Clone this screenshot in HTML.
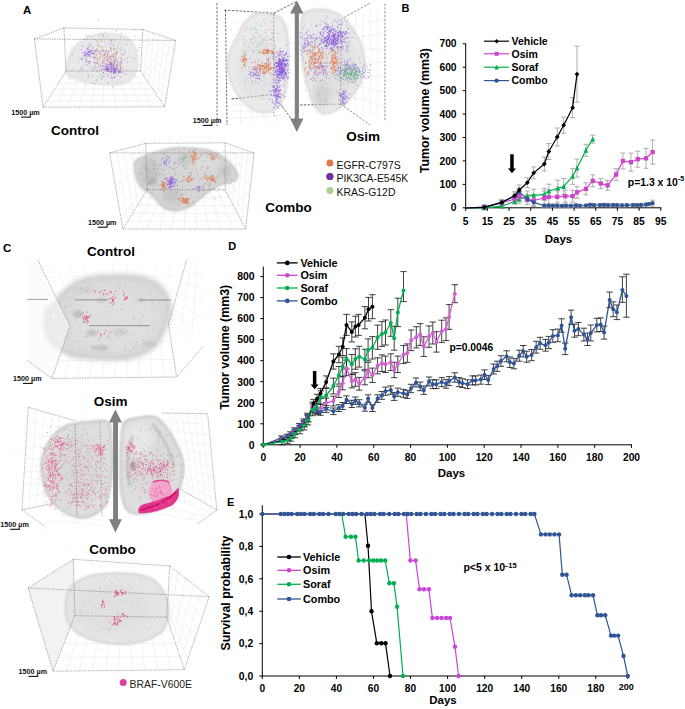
<!DOCTYPE html><html><head><meta charset="utf-8"><style>html,body{margin:0;padding:0;background:#fff;width:685px;height:709px;overflow:hidden}svg{display:block}text{font-family:"Liberation Sans",sans-serif}</style></head><body>
<svg width="685" height="709" viewBox="0 0 685 709" font-family="Liberation Sans, sans-serif">
<rect width="685" height="709" fill="#fff"/>
<defs>
<filter id="bl1" x="-20%" y="-20%" width="140%" height="140%"><feGaussianBlur stdDeviation="1.2"/></filter>
<filter id="bl2" x="-20%" y="-20%" width="140%" height="140%"><feGaussianBlur stdDeviation="2.5"/></filter>
<filter id="bl3" x="-30%" y="-30%" width="160%" height="160%"><feGaussianBlur stdDeviation="4"/></filter>
</defs>
<text x="23" y="14" font-size="11.5" font-weight="bold" text-anchor="start" fill="#000" >A</text>
<line x1="73.5" y1="71.0" x2="55.3" y2="107.2" stroke="#dcdcdc" stroke-width="0.4" opacity="1"/>
<line x1="81.0" y1="71.0" x2="67.4" y2="107.1" stroke="#dcdcdc" stroke-width="0.4" opacity="1"/>
<line x1="88.4" y1="71.0" x2="79.6" y2="107.1" stroke="#dcdcdc" stroke-width="0.4" opacity="1"/>
<line x1="95.9" y1="71.0" x2="91.7" y2="107.0" stroke="#dcdcdc" stroke-width="0.4" opacity="1"/>
<line x1="103.3" y1="71.0" x2="103.9" y2="107.0" stroke="#dcdcdc" stroke-width="0.4" opacity="1"/>
<line x1="110.8" y1="71.0" x2="116.1" y2="107.0" stroke="#dcdcdc" stroke-width="0.4" opacity="1"/>
<line x1="118.2" y1="71.0" x2="128.2" y2="106.9" stroke="#dcdcdc" stroke-width="0.4" opacity="1"/>
<line x1="125.7" y1="71.0" x2="140.4" y2="106.9" stroke="#dcdcdc" stroke-width="0.4" opacity="1"/>
<line x1="133.1" y1="71.0" x2="152.5" y2="106.8" stroke="#dcdcdc" stroke-width="0.4" opacity="1"/>
<line x1="62.3" y1="77.0" x2="144.6" y2="77.0" stroke="#dcdcdc" stroke-width="0.4" opacity="1"/>
<line x1="58.4" y1="83.1" x2="148.6" y2="82.9" stroke="#dcdcdc" stroke-width="0.4" opacity="1"/>
<line x1="54.6" y1="89.1" x2="152.6" y2="88.9" stroke="#dcdcdc" stroke-width="0.4" opacity="1"/>
<line x1="50.8" y1="95.1" x2="156.7" y2="94.9" stroke="#dcdcdc" stroke-width="0.4" opacity="1"/>
<line x1="46.9" y1="101.2" x2="160.7" y2="100.8" stroke="#dcdcdc" stroke-width="0.4" opacity="1"/>
<line x1="148.3" y1="31.3" x2="144.6" y2="77.0" stroke="#e2e2e2" stroke-width="0.4" opacity="1"/>
<line x1="153.7" y1="33.1" x2="148.6" y2="82.9" stroke="#e2e2e2" stroke-width="0.4" opacity="1"/>
<line x1="159.2" y1="35.0" x2="152.6" y2="88.9" stroke="#e2e2e2" stroke-width="0.4" opacity="1"/>
<line x1="164.7" y1="36.8" x2="156.7" y2="94.9" stroke="#e2e2e2" stroke-width="0.4" opacity="1"/>
<line x1="170.1" y1="38.6" x2="160.7" y2="100.8" stroke="#e2e2e2" stroke-width="0.4" opacity="1"/>
<line x1="142.5" y1="34.7" x2="174.2" y2="48.7" stroke="#e2e2e2" stroke-width="0.4" opacity="1"/>
<line x1="142.2" y1="39.9" x2="172.9" y2="57.0" stroke="#e2e2e2" stroke-width="0.4" opacity="1"/>
<line x1="142.0" y1="45.1" x2="171.5" y2="65.3" stroke="#e2e2e2" stroke-width="0.4" opacity="1"/>
<line x1="141.7" y1="50.2" x2="170.1" y2="73.6" stroke="#e2e2e2" stroke-width="0.4" opacity="1"/>
<line x1="141.4" y1="55.4" x2="168.8" y2="81.9" stroke="#e2e2e2" stroke-width="0.4" opacity="1"/>
<line x1="141.2" y1="60.6" x2="167.4" y2="90.2" stroke="#e2e2e2" stroke-width="0.4" opacity="1"/>
<line x1="140.9" y1="65.8" x2="166.1" y2="98.5" stroke="#e2e2e2" stroke-width="0.4" opacity="1"/>
<path d="M66.1,71.1 C66.1,68.3 67.0,62.8 68.3,59.0 C69.6,55.2 71.1,51.4 73.8,48.1 C76.5,44.8 80.7,41.6 84.7,39.3 C88.7,37.0 93.2,35.4 97.9,34.5 C102.7,33.6 108.5,33.5 113.2,33.9 C117.9,34.3 122.8,35.1 126.3,37.1 C129.8,39.1 132.2,42.6 134.0,45.9 C135.8,49.2 136.8,53.1 137.3,56.8 C137.9,60.4 138.0,64.5 137.3,67.8 C136.6,71.1 134.7,74.2 132.9,76.6 C131.1,79.0 128.8,80.7 126.3,82.0 C123.8,83.3 121.6,83.8 117.6,84.2 C113.6,84.6 107.4,84.6 102.3,84.2 C97.2,83.8 91.3,82.9 86.9,82.0 C82.5,81.1 79.1,79.8 76.0,78.7 C72.9,77.6 70.0,76.8 68.3,75.5 C66.6,74.2 66.1,73.8 66.1,71.1Z" fill="#e9e9e9" filter="url(#bl1)"/>
<path d="M66.1,71.1 C66.1,68.3 67.0,62.8 68.3,59.0 C69.6,55.2 71.1,51.4 73.8,48.1 C76.5,44.8 80.7,41.6 84.7,39.3 C88.7,37.0 93.2,35.4 97.9,34.5 C102.7,33.6 108.5,33.5 113.2,33.9 C117.9,34.3 122.8,35.1 126.3,37.1 C129.8,39.1 132.2,42.6 134.0,45.9 C135.8,49.2 136.8,53.1 137.3,56.8 C137.9,60.4 138.0,64.5 137.3,67.8 C136.6,71.1 134.7,74.2 132.9,76.6 C131.1,79.0 128.8,80.7 126.3,82.0 C123.8,83.3 121.6,83.8 117.6,84.2 C113.6,84.6 107.4,84.6 102.3,84.2 C97.2,83.8 91.3,82.9 86.9,82.0 C82.5,81.1 79.1,79.8 76.0,78.7 C72.9,77.6 70.0,76.8 68.3,75.5 C66.6,74.2 66.1,73.8 66.1,71.1Z" fill="none" stroke="#dadada" stroke-width="1.5" filter="url(#bl1)" opacity="1"/>
<path d="M90.0 43.2h0M88.4 74.1h0M84.6 63.6h0M101.2 37.9h0M89.3 69.4h0M132.2 58.8h0M72.1 69.7h0M87.4 54.5h0M115.0 60.7h0M104.9 37.3h0M79.4 73.1h0M118.3 46.9h0M87.0 48.4h0M81.4 45.8h0M92.1 58.0h0M102.1 61.5h0M105.8 51.6h0M120.5 60.4h0" stroke="#888" stroke-width="1.20" stroke-linecap="round" opacity="0.18" fill="none"/>
<path d="M72.9 61.7h0M107.5 66.7h0M82.0 68.7h0M89.4 64.1h0M82.2 43.8h0M115.3 48.5h0M121.2 72.0h0M80.1 73.9h0M119.7 79.8h0" stroke="#888" stroke-width="1.00" stroke-linecap="round" opacity="0.18" fill="none"/>
<path d="M71.9 60.4h0M97.5 39.4h0M105.2 39.0h0M94.6 77.8h0M111.1 39.0h0M99.7 59.2h0M124.4 43.7h0M92.2 37.4h0" stroke="#888" stroke-width="0.60" stroke-linecap="round" opacity="0.18" fill="none"/>
<path d="M96.9 75.7h0M87.7 42.9h0M89.0 75.2h0M127.5 71.0h0M96.4 72.3h0M69.5 58.2h0M120.2 42.2h0M123.7 77.5h0M80.0 47.1h0M101.0 64.3h0M94.7 55.2h0M109.8 43.1h0M91.6 53.5h0M74.9 52.4h0M132.7 61.4h0M121.0 51.8h0M92.8 46.6h0M117.3 44.2h0M91.8 62.3h0M82.4 48.1h0M84.4 64.1h0M69.3 57.1h0M105.8 73.6h0M106.1 47.9h0" stroke="#888" stroke-width="0.80" stroke-linecap="round" opacity="0.18" fill="none"/>
<path d="M83.2 66.1h0M107.2 55.0h0M93.1 63.2h0M133.0 57.5h0M73.8 67.7h0M94.9 55.3h0M112.2 61.3h0M96.5 42.3h0M129.5 56.2h0" stroke="#888" stroke-width="1.60" stroke-linecap="round" opacity="0.18" fill="none"/>
<path d="M120.0 63.5h0M107.4 57.9h0M98.5 62.4h0M96.2 53.2h0M114.0 38.6h0M121.0 78.0h0M92.7 37.2h0M126.0 74.7h0M100.6 67.3h0M122.8 43.0h0M97.5 77.8h0M79.7 58.7h0" stroke="#888" stroke-width="1.40" stroke-linecap="round" opacity="0.18" fill="none"/>
<path d="M107.9 66.3h0M105.1 68.6h0M106.7 70.3h0M101.4 70.1h0M109.1 62.2h0M115.3 68.0h0M102.0 65.9h0M113.3 67.4h0M115.5 71.6h0M115.0 70.1h0M118.0 71.3h0M114.0 61.7h0M116.0 73.6h0M110.7 67.4h0M120.7 62.8h0M114.1 77.5h0M107.8 71.4h0M120.5 68.6h0M114.5 72.2h0M107.9 68.7h0M113.3 71.9h0M111.8 68.3h0M107.4 67.7h0M116.0 69.4h0M108.2 66.1h0M124.0 73.0h0M114.9 59.9h0M114.8 70.7h0M119.6 70.5h0M111.7 70.8h0M103.3 72.6h0M113.5 66.5h0M118.0 75.3h0M105.7 66.7h0M113.3 69.6h0M110.2 65.6h0M121.5 72.6h0M106.6 64.3h0M119.7 72.5h0M120.2 71.8h0M108.1 69.9h0M102.3 66.4h0M111.7 70.8h0M108.7 68.6h0M114.1 70.3h0M114.9 69.7h0M110.5 71.8h0M112.2 66.1h0M109.2 69.0h0M111.5 69.5h0M112.0 69.6h0M111.4 64.6h0M113.9 72.7h0M114.0 68.3h0M114.0 65.6h0M103.5 69.2h0M107.8 71.6h0M107.1 59.8h0M107.3 74.5h0M110.3 64.2h0M108.6 70.8h0M114.2 69.6h0M118.7 71.5h0M111.9 71.1h0M119.4 72.4h0M116.6 65.2h0M111.3 71.6h0M110.7 72.7h0M114.7 72.2h0M111.0 77.9h0M117.6 68.2h0M112.4 78.1h0M110.5 72.1h0M116.4 69.0h0M106.7 69.7h0M113.6 73.0h0M115.5 69.1h0M115.8 70.9h0M112.9 69.2h0M110.9 71.4h0M107.3 66.8h0M112.0 63.9h0M110.0 62.0h0M108.9 71.0h0M114.5 68.8h0M111.0 64.0h0M120.2 70.8h0M116.9 65.9h0M111.2 62.6h0M115.5 72.3h0M103.5 68.8h0M114.8 62.8h0M103.8 65.3h0M109.2 64.1h0M112.1 69.9h0M114.9 71.5h0M118.8 73.1h0M106.1 67.2h0M107.2 65.2h0M111.6 69.0h0M114.2 63.4h0M106.4 68.9h0M111.1 67.9h0M111.7 66.3h0M115.2 70.2h0M111.6 66.6h0M111.2 59.5h0M107.6 69.1h0M105.2 69.7h0M112.7 64.2h0M110.9 67.9h0M114.1 71.1h0M111.8 66.0h0M111.4 68.8h0M115.3 70.0h0M108.7 64.3h0M110.3 66.4h0M107.0 68.6h0M109.8 69.4h0M114.4 67.6h0M122.5 67.9h0M117.0 69.4h0M117.0 60.7h0M108.6 69.9h0M114.7 77.2h0M113.5 73.5h0M115.4 72.3h0M114.3 68.5h0M114.3 65.2h0M117.3 65.4h0" stroke="#8452E0" stroke-width="1.20" stroke-linecap="round" opacity="0.8" fill="none"/>
<path d="M88.9 61.5h0M87.2 53.1h0M92.1 53.1h0M85.2 54.0h0M90.0 55.8h0M85.3 60.0h0M93.8 53.1h0M88.9 51.3h0M92.9 50.2h0M90.4 51.1h0M85.6 55.9h0M92.7 53.0h0M85.6 56.2h0M87.8 54.2h0M93.3 57.5h0M86.2 62.1h0M88.0 56.1h0M85.7 52.8h0M81.9 60.1h0M92.8 48.1h0M82.7 46.5h0M92.1 51.2h0M87.8 51.7h0M87.6 48.6h0M88.1 47.2h0M87.7 54.2h0M89.6 52.1h0M84.8 53.6h0M86.3 59.3h0M90.7 52.5h0M86.4 50.2h0M84.7 51.6h0M89.0 55.1h0M90.0 61.4h0M85.5 53.1h0M97.8 45.5h0M86.2 53.7h0M88.5 54.6h0M87.2 54.5h0M88.2 56.1h0M81.4 49.5h0M88.0 48.9h0M84.3 55.5h0M85.7 55.5h0M90.6 54.2h0M89.8 52.6h0M83.1 52.9h0M89.6 50.9h0M87.7 56.0h0M84.9 55.6h0M94.5 50.8h0M88.5 52.4h0M93.4 54.3h0M91.1 50.2h0M87.9 53.0h0M81.8 58.8h0M91.1 46.0h0M90.6 52.5h0M89.6 54.5h0M82.8 52.2h0" stroke="#8452E0" stroke-width="1.10" stroke-linecap="round" opacity="0.8" fill="none"/>
<path d="M124.9 51.7h0M89.7 43.0h0M86.9 61.7h0M127.7 62.7h0M107.4 82.6h0M96.7 50.6h0M111.4 64.0h0M89.8 45.1h0M108.1 60.7h0M85.7 55.8h0M96.4 63.1h0M102.4 57.1h0M99.1 69.6h0M123.5 54.0h0M115.8 49.7h0M105.0 66.2h0M125.2 53.8h0M103.0 60.2h0M83.0 58.2h0M94.5 62.1h0M88.2 36.3h0M104.5 60.9h0M96.3 67.8h0M100.2 51.3h0M110.7 40.7h0M94.5 57.8h0M115.9 56.2h0M108.3 50.8h0M108.2 76.3h0M94.4 84.0h0M95.0 58.2h0M106.4 69.3h0M86.7 34.9h0M112.5 66.7h0M112.7 86.9h0M106.9 60.8h0M117.0 62.1h0M127.3 44.4h0M98.7 20.1h0M115.4 53.9h0M116.9 81.7h0M103.9 55.2h0M97.0 48.8h0M95.2 65.0h0M104.5 58.7h0M101.6 68.1h0M110.9 56.4h0M113.3 56.3h0M87.9 74.0h0M110.5 47.5h0M119.1 61.8h0M82.1 75.7h0M108.7 67.8h0M106.8 56.4h0M82.3 68.7h0M104.4 54.8h0M108.9 58.9h0M113.5 53.9h0M103.5 34.5h0M98.1 65.4h0M122.7 54.0h0M102.3 75.4h0M99.4 66.1h0M127.5 58.4h0M121.2 50.2h0M106.9 57.1h0M105.6 70.4h0M137.5 50.7h0M95.9 63.5h0M89.2 63.5h0M112.0 54.9h0M111.4 41.0h0M114.6 41.0h0M94.2 51.9h0M98.4 67.4h0M105.1 53.6h0M111.6 75.4h0M104.1 62.0h0M121.4 60.9h0M86.0 85.4h0M134.9 36.2h0M103.5 62.6h0M117.5 65.4h0M100.2 46.4h0M105.4 69.4h0M88.7 46.7h0M103.7 36.7h0M100.4 53.2h0M110.3 50.3h0M91.7 53.7h0M103.3 50.7h0M104.2 66.3h0M120.6 76.8h0M93.0 53.4h0M69.2 78.9h0M93.9 57.6h0M111.3 43.1h0M110.5 57.7h0M78.4 61.2h0M120.7 37.5h0M115.3 60.3h0M110.6 62.9h0M122.3 55.5h0M116.2 53.5h0M114.2 49.0h0M102.5 77.0h0M110.2 56.3h0M88.0 49.3h0M106.7 68.3h0M110.0 63.8h0M103.4 72.9h0M98.5 52.0h0M116.4 58.7h0M100.1 51.7h0M100.4 64.9h0M109.0 44.7h0M110.0 60.0h0M90.0 66.5h0M100.1 54.3h0M115.1 72.5h0M94.4 62.8h0M91.7 83.5h0M97.1 71.1h0M94.9 66.9h0M135.1 30.0h0M97.9 63.5h0M102.7 50.6h0M134.1 58.9h0M81.0 67.4h0M79.9 70.7h0M95.9 59.6h0M121.7 59.3h0M84.5 39.3h0M120.6 66.1h0M92.6 67.5h0M111.0 65.1h0M72.4 54.7h0M116.6 66.1h0M116.3 31.0h0M106.4 63.4h0M139.7 47.5h0M99.4 58.4h0M116.4 53.1h0M120.1 49.3h0M107.7 52.2h0M106.2 50.4h0M81.6 70.0h0M108.2 51.9h0M106.8 68.9h0M90.3 56.8h0M111.5 63.8h0M99.3 34.8h0M121.4 61.6h0M104.2 54.9h0M107.7 53.3h0M89.7 49.9h0M95.6 51.3h0M87.8 65.0h0M85.7 65.3h0M89.8 61.9h0" stroke="#8452E0" stroke-width="0.90" stroke-linecap="round" opacity="0.75" fill="none"/>
<path d="M115.4 58.8h0M96.4 57.4h0M104.3 41.4h0M97.5 58.5h0M98.8 57.7h0M109.6 63.9h0M111.2 62.3h0M100.4 56.8h0M100.6 54.2h0M101.4 41.5h0M100.0 56.8h0M94.2 56.8h0M107.6 55.5h0M121.7 33.5h0M101.1 40.6h0M111.8 80.9h0M80.5 58.2h0M107.7 54.3h0M108.0 36.8h0M110.7 60.3h0M103.2 51.7h0M108.7 52.6h0M105.0 52.4h0M82.8 56.7h0M104.8 63.8h0M95.1 56.7h0M108.6 58.3h0M114.2 74.9h0M94.8 39.7h0M110.7 70.8h0M111.3 64.3h0M97.4 50.6h0M111.0 48.8h0M86.7 48.0h0M125.4 74.3h0M96.8 50.4h0M105.1 50.3h0M114.8 56.3h0M93.2 68.8h0M97.8 59.0h0M102.9 54.2h0M105.9 50.8h0M86.4 37.1h0M91.6 50.2h0M102.8 57.5h0M108.0 58.1h0M95.9 50.6h0M83.9 55.5h0M107.4 61.8h0M101.9 55.4h0M111.4 57.1h0M109.6 62.2h0M104.9 68.8h0M97.8 53.8h0M95.7 49.8h0M117.0 72.8h0M103.2 62.1h0M113.6 64.3h0M113.8 45.6h0M97.2 61.1h0M115.9 57.9h0M95.3 53.8h0M97.1 49.3h0M116.5 51.4h0M103.2 76.5h0M113.7 60.0h0M97.5 60.7h0M117.6 62.6h0M114.4 57.9h0M107.6 55.2h0M106.8 68.7h0M90.1 56.4h0M105.2 51.9h0M100.2 64.1h0M121.0 62.7h0M105.9 43.0h0M120.3 57.7h0M102.7 46.9h0M102.5 47.1h0M103.6 61.2h0M103.3 59.5h0M95.3 69.9h0M97.1 40.6h0M101.3 50.1h0M93.9 53.8h0M105.6 46.4h0M101.8 69.8h0M109.1 55.6h0M104.1 55.9h0M102.6 63.6h0M102.2 35.4h0M102.8 49.0h0M108.9 51.5h0M104.3 76.6h0M93.6 46.9h0M90.3 35.4h0M86.1 60.3h0M97.3 40.2h0M89.7 62.6h0M96.0 53.7h0M106.0 69.2h0M120.5 66.3h0M104.3 58.7h0M119.2 69.9h0M100.2 61.1h0M105.6 57.5h0M98.5 45.1h0M98.2 43.1h0M114.0 61.8h0M92.1 69.6h0M111.0 39.8h0M119.6 64.3h0M121.6 45.9h0M107.8 60.8h0M104.8 58.5h0M112.5 43.6h0M91.8 44.5h0M98.0 51.6h0M106.3 59.4h0M103.3 50.9h0M99.0 65.6h0M109.9 57.9h0M100.1 71.0h0M97.7 62.8h0M113.4 54.6h0M110.4 47.0h0M112.1 58.8h0M88.7 63.0h0M95.0 68.5h0M96.9 55.5h0M105.5 54.0h0M105.3 52.0h0M109.0 57.0h0M104.9 32.2h0M113.5 57.3h0M87.0 57.9h0M107.2 66.6h0M93.3 70.9h0M101.6 78.6h0M101.7 63.1h0M99.7 47.0h0M112.9 65.2h0M116.8 64.7h0M97.8 42.0h0M97.1 50.9h0M95.7 62.2h0M106.0 54.6h0M104.6 55.7h0M104.9 63.8h0M111.6 50.8h0" stroke="#d88a60" stroke-width="1.00" stroke-linecap="round" opacity="0.75" fill="none"/>
<path d="M108.5 69.6h0M116.6 67.6h0M107.8 59.0h0M116.1 52.4h0M113.4 65.3h0M121.4 70.6h0M111.7 52.6h0M118.6 66.6h0M117.0 53.2h0M119.9 65.8h0M118.8 58.1h0M117.5 65.7h0M113.2 49.9h0M117.6 63.9h0M116.1 66.3h0M113.1 60.5h0M114.5 64.4h0M124.0 59.5h0M126.3 70.2h0M120.0 64.5h0M124.9 59.9h0M115.4 54.6h0M118.4 69.1h0M118.7 63.5h0M115.0 62.0h0M108.9 67.3h0M114.0 54.4h0M112.2 56.1h0M120.3 67.3h0M109.2 66.6h0M120.4 57.5h0M108.6 56.5h0M112.8 63.1h0M114.2 48.8h0M117.2 51.8h0M120.5 53.8h0M112.5 55.9h0M113.3 68.8h0M120.3 64.6h0M117.6 51.7h0M113.4 57.7h0M111.1 64.1h0M112.3 56.7h0M110.8 48.7h0M119.0 69.0h0M116.9 55.1h0M102.5 62.0h0M122.1 62.8h0M120.6 69.9h0M121.6 58.4h0" stroke="#d88a60" stroke-width="1.00" stroke-linecap="round" opacity="0.75" fill="none"/>
<path d="M121.2 47.6h0M113.4 45.2h0M113.7 45.8h0M119.7 43.9h0M111.8 48.6h0M119.1 48.9h0M114.0 48.1h0M124.2 50.0h0M117.4 46.5h0M117.5 48.0h0" stroke="#50C060" stroke-width="1.00" stroke-linecap="round" opacity="0.7" fill="none"/>
<path d="M100.2 75.3h0M88.2 77.2h0M92.7 76.9h0M96.3 79.9h0M100.7 73.6h0M96.7 80.3h0M92.3 76.3h0M101.0 78.8h0M97.6 71.0h0M88.7 75.7h0" stroke="#50C060" stroke-width="1.00" stroke-linecap="round" opacity="0.7" fill="none"/>
<line x1="63.9" y1="27.9" x2="142.8" y2="29.5" stroke="#6a6a6a" stroke-width="0.5" stroke-dasharray="1.6,0.9" opacity="1"/>
<line x1="63.9" y1="27.9" x2="34.4" y2="38.9" stroke="#6a6a6a" stroke-width="0.5" stroke-dasharray="1.6,0.9" opacity="1"/>
<line x1="142.8" y1="29.5" x2="175.6" y2="40.4" stroke="#6a6a6a" stroke-width="0.5" stroke-dasharray="1.6,0.9" opacity="1"/>
<line x1="34.4" y1="38.9" x2="175.6" y2="40.4" stroke="#6a6a6a" stroke-width="0.5" stroke-dasharray="1.6,0.9" opacity="1"/>
<line x1="34.4" y1="38.9" x2="43.1" y2="107.2" stroke="#6a6a6a" stroke-width="0.5" stroke-dasharray="1.6,0.9" opacity="1"/>
<line x1="175.6" y1="40.4" x2="164.7" y2="106.8" stroke="#6a6a6a" stroke-width="0.5" stroke-dasharray="1.6,0.9" opacity="1"/>
<line x1="43.1" y1="107.2" x2="164.7" y2="106.8" stroke="#6a6a6a" stroke-width="0.5" stroke-dasharray="1.6,0.9" opacity="1"/>
<line x1="63.9" y1="27.9" x2="66.1" y2="71" stroke="#6a6a6a" stroke-width="0.5" stroke-dasharray="1.6,0.9" opacity="1"/>
<line x1="142.8" y1="29.5" x2="140.6" y2="71" stroke="#6a6a6a" stroke-width="0.5" stroke-dasharray="1.6,0.9" opacity="1"/>
<line x1="66.1" y1="71" x2="140.6" y2="71" stroke="#6a6a6a" stroke-width="0.5" stroke-dasharray="1.6,0.9" opacity="1"/>
<line x1="66.1" y1="71" x2="43.1" y2="107.2" stroke="#6a6a6a" stroke-width="0.5" stroke-dasharray="1.6,0.9" opacity="1"/>
<line x1="140.6" y1="71" x2="164.7" y2="106.8" stroke="#6a6a6a" stroke-width="0.5" stroke-dasharray="1.6,0.9" opacity="1"/>
<text x="11.2" y="114.5" font-size="7.2" font-weight="bold" text-anchor="start" fill="#111" >1500 µm</text>
<path d="M21.1,117.1H30.9" stroke="#111" stroke-width="1.1"/>
<text x="51" y="134.5" font-size="13.5" font-weight="bold" text-anchor="start" fill="#000" >Control</text>
<line x1="217" y1="3" x2="217" y2="126" stroke="#4a4a4a" stroke-width="0.8" stroke-dasharray="2.4,1.4" opacity="1"/>
<line x1="225.5" y1="10" x2="227" y2="125" stroke="#4a4a4a" stroke-width="0.8" stroke-dasharray="2.4,1.4" opacity="1"/>
<line x1="224.3" y1="10" x2="273.8" y2="13.2" stroke="#4a4a4a" stroke-width="0.8" stroke-dasharray="2.4,1.4" opacity="1"/>
<line x1="273.8" y1="13.2" x2="297.6" y2="1" stroke="#4a4a4a" stroke-width="0.8" stroke-dasharray="2.4,1.4" opacity="1"/>
<line x1="231.7" y1="99" x2="273.8" y2="94.4" stroke="#4a4a4a" stroke-width="0.8" stroke-dasharray="2.4,1.4" opacity="1"/>
<line x1="273.8" y1="94.4" x2="292" y2="120" stroke="#4a4a4a" stroke-width="0.8" stroke-dasharray="2.4,1.4" opacity="1"/>
<line x1="273.8" y1="13.2" x2="273.8" y2="94.4" stroke="#4a4a4a" stroke-width="0.8" stroke-dasharray="2.4,1.4" opacity="1"/>
<line x1="240.1" y1="98.1" x2="240.8" y2="124.4" stroke="#dedede" stroke-width="0.4" opacity="1"/>
<line x1="248.5" y1="97.2" x2="253.6" y2="123.8" stroke="#dedede" stroke-width="0.4" opacity="1"/>
<line x1="257.0" y1="96.2" x2="266.4" y2="123.2" stroke="#dedede" stroke-width="0.4" opacity="1"/>
<line x1="265.4" y1="95.3" x2="279.2" y2="122.6" stroke="#dedede" stroke-width="0.4" opacity="1"/>
<line x1="230.8" y1="105.5" x2="278.4" y2="101.3" stroke="#dedede" stroke-width="0.4" opacity="1"/>
<line x1="229.8" y1="112.0" x2="282.9" y2="108.2" stroke="#dedede" stroke-width="0.4" opacity="1"/>
<line x1="228.9" y1="118.5" x2="287.4" y2="115.1" stroke="#dedede" stroke-width="0.4" opacity="1"/>
<path d="M255.5,13.7 C260.1,12.2 267.8,13.9 272.0,14.7 C276.2,15.5 278.6,15.6 281.0,18.3 C283.4,21.1 285.4,25.1 286.6,31.2 C287.9,37.3 288.4,47.1 288.5,55.0 C288.6,62.9 288.4,71.5 287.5,78.8 C286.6,86.1 285.3,93.8 283.0,99.0 C280.7,104.2 277.8,107.9 273.8,110.0 C269.8,112.1 263.6,112.7 259.0,111.8 C254.4,110.9 250.6,108.5 246.3,104.5 C242.1,100.5 236.6,93.8 233.5,88.0 C230.4,82.2 228.8,75.1 228.0,69.6 C227.2,64.1 227.8,59.9 229.0,55.0 C230.2,50.1 232.7,45.5 235.3,40.3 C237.9,35.1 241.1,28.2 244.5,23.8 C247.9,19.4 250.9,15.2 255.5,13.7Z" fill="#ebebeb" filter="url(#bl1)"/>
<path d="M255.5,13.7 C260.1,12.2 267.8,13.9 272.0,14.7 C276.2,15.5 278.6,15.6 281.0,18.3 C283.4,21.1 285.4,25.1 286.6,31.2 C287.9,37.3 288.4,47.1 288.5,55.0 C288.6,62.9 288.4,71.5 287.5,78.8 C286.6,86.1 285.3,93.8 283.0,99.0 C280.7,104.2 277.8,107.9 273.8,110.0 C269.8,112.1 263.6,112.7 259.0,111.8 C254.4,110.9 250.6,108.5 246.3,104.5 C242.1,100.5 236.6,93.8 233.5,88.0 C230.4,82.2 228.8,75.1 228.0,69.6 C227.2,64.1 227.8,59.9 229.0,55.0 C230.2,50.1 232.7,45.5 235.3,40.3 C237.9,35.1 241.1,28.2 244.5,23.8 C247.9,19.4 250.9,15.2 255.5,13.7Z" fill="none" stroke="#d0d0d0" stroke-width="1.5" filter="url(#bl1)" opacity="1"/>
<path d="M238,62 C240,44 250,32 262,36 C276,40 282,60 280,80 C276,96 262,104 250,98 C242,92 237,78 238,62Z" fill="#e4e4e4" filter="url(#bl2)"/>
<path d="M250.4 73.7h0M260.5 30.5h0M239.4 39.6h0M250.0 32.8h0M273.2 34.1h0M278.5 86.2h0M270.6 56.8h0M257.9 65.3h0M258.6 60.7h0M264.5 48.4h0M254.0 66.5h0M282.7 75.0h0M262.5 73.3h0M263.7 75.3h0M251.2 89.1h0M272.2 79.9h0M267.2 32.2h0M253.7 52.4h0M263.3 95.3h0M275.3 88.2h0M261.7 43.0h0M274.0 77.5h0M273.5 36.8h0M242.7 41.4h0M262.1 95.3h0M234.7 66.8h0M255.8 99.6h0M250.3 95.8h0M237.1 44.3h0" stroke="#888" stroke-width="1.60" stroke-linecap="round" opacity="0.2" fill="none"/>
<path d="M274.4 59.3h0M250.4 91.5h0M265.1 75.4h0M247.2 89.5h0M249.2 46.6h0M261.2 41.7h0M255.2 21.2h0M235.3 70.2h0M281.7 76.3h0M271.4 28.9h0M246.1 90.5h0M240.7 61.2h0M256.8 44.0h0M235.0 81.0h0" stroke="#888" stroke-width="1.00" stroke-linecap="round" opacity="0.2" fill="none"/>
<path d="M251.6 41.3h0M247.7 60.3h0M242.3 78.2h0M256.3 32.1h0M275.7 51.5h0M251.0 59.9h0M272.1 37.7h0M258.2 42.8h0M253.9 46.8h0M251.1 68.3h0M263.3 45.9h0M250.0 27.1h0M263.6 76.9h0M268.5 50.5h0M277.0 60.9h0M245.6 85.5h0M245.4 30.4h0M275.8 72.8h0M249.7 89.1h0M234.9 80.0h0M259.4 35.6h0" stroke="#888" stroke-width="1.20" stroke-linecap="round" opacity="0.2" fill="none"/>
<path d="M269.5 43.6h0M279.1 85.9h0M266.1 41.0h0M260.9 42.2h0M255.8 84.1h0M261.5 23.3h0M256.7 54.6h0M265.5 37.8h0M248.2 81.3h0M273.2 58.6h0M273.9 84.9h0M241.8 36.2h0M252.9 63.4h0M242.5 35.2h0M240.8 40.0h0M264.7 32.0h0M245.9 54.6h0M278.5 76.1h0M274.0 48.6h0" stroke="#888" stroke-width="0.80" stroke-linecap="round" opacity="0.2" fill="none"/>
<path d="M275.2 73.2h0M239.2 61.4h0M265.1 73.4h0M278.1 65.8h0M265.4 98.4h0M276.8 60.9h0M261.5 44.6h0M274.4 94.5h0M249.9 63.6h0M269.3 36.4h0" stroke="#888" stroke-width="0.60" stroke-linecap="round" opacity="0.2" fill="none"/>
<path d="M263.6 85.6h0M256.3 67.3h0M279.3 71.4h0M264.6 78.5h0M267.4 37.9h0M272.3 96.8h0M269.4 40.4h0M269.9 27.1h0M250.9 74.2h0M275.0 47.9h0M278.2 51.6h0M245.7 55.5h0M259.1 60.0h0M251.5 28.9h0M272.9 33.1h0M245.4 67.4h0M272.9 79.6h0M267.2 45.1h0" stroke="#888" stroke-width="1.40" stroke-linecap="round" opacity="0.2" fill="none"/>
<path d="M263.7 77.3h0M274.1 68.3h0M262.8 98.8h0M267.6 30.2h0M268.9 58.7h0M255.3 33.4h0M239.5 83.4h0M255.3 28.1h0M242.5 50.6h0" stroke="#888" stroke-width="1.80" stroke-linecap="round" opacity="0.2" fill="none"/>
<path d="M265.2 32.8h0M252.1 34.7h0M266.8 59.7h0M256.1 29.0h0M262.5 40.9h0M247.1 27.7h0M256.8 47.4h0M243.7 23.7h0M264.0 20.9h0M259.3 42.9h0M256.7 23.7h0M257.3 33.3h0M262.0 26.3h0M271.1 14.5h0M255.9 38.1h0M269.5 29.5h0M264.6 30.1h0M266.9 62.3h0M253.2 44.2h0M246.9 51.6h0M272.5 38.5h0M244.4 43.6h0M271.8 53.3h0M267.8 12.4h0M249.8 57.9h0M243.3 53.8h0M280.6 48.7h0M271.4 33.3h0M243.3 36.6h0M255.6 37.3h0M266.4 36.0h0M260.3 43.9h0M257.9 63.8h0M263.3 39.2h0M255.5 29.2h0M274.1 40.1h0M245.1 30.1h0M256.4 31.8h0M271.0 21.7h0M263.9 40.0h0M243.9 38.7h0M256.9 45.0h0M252.6 42.2h0M238.0 22.8h0M267.4 52.6h0M257.8 29.6h0M271.0 8.7h0M248.4 47.4h0M265.8 23.5h0M235.4 58.3h0M259.8 25.5h0M258.7 50.6h0M226.9 53.5h0M266.9 8.9h0M267.3 13.1h0M271.7 43.6h0M285.0 29.5h0M258.1 52.7h0M250.3 28.1h0M253.5 37.0h0M245.0 44.8h0M264.5 39.0h0M278.4 33.4h0M273.7 30.3h0M267.1 10.9h0M260.4 35.5h0M252.1 29.5h0M253.8 27.9h0M231.7 29.7h0M251.4 30.7h0" stroke="#6cc070" stroke-width="0.90" stroke-linecap="round" opacity="0.8" fill="none"/>
<path d="M277.5 65.9h0M284.5 65.0h0M279.6 77.9h0M285.2 74.4h0M285.9 64.4h0M281.0 75.9h0M279.4 66.0h0M282.9 70.0h0M280.4 74.9h0M280.8 72.8h0M285.6 72.3h0M284.3 57.7h0M276.5 62.1h0M283.3 79.0h0M276.9 69.5h0M278.3 61.1h0M280.4 72.5h0M282.3 76.4h0M277.8 74.1h0M285.0 67.6h0M283.3 62.5h0M277.4 63.8h0M279.1 90.1h0M279.7 80.2h0M282.3 69.5h0M284.3 60.8h0M285.0 70.0h0M275.7 71.8h0M283.6 70.6h0M287.5 63.7h0M283.4 73.0h0M278.1 76.6h0M276.0 56.6h0M283.5 58.3h0M281.1 53.8h0M281.8 57.9h0M282.8 54.7h0M283.2 64.9h0M281.7 66.5h0M282.0 56.4h0M271.8 67.3h0M277.9 63.4h0M283.1 51.1h0M278.6 62.1h0M277.5 69.6h0M281.0 60.4h0M277.8 73.5h0M279.0 71.7h0M283.2 51.8h0M277.4 67.0h0M282.8 73.2h0M284.5 75.3h0M280.1 65.3h0M284.4 63.6h0M285.5 54.3h0M284.0 65.6h0M274.0 74.8h0M282.7 67.2h0M277.4 63.3h0M287.2 60.4h0M268.3 60.1h0M276.9 65.9h0M280.0 59.7h0M278.3 75.4h0M276.0 82.7h0M279.4 58.3h0M284.5 71.5h0M277.5 73.0h0M274.5 59.6h0M285.8 65.0h0M276.6 71.1h0M285.0 66.8h0M274.6 64.2h0M283.1 73.1h0M288.5 65.0h0M279.7 66.7h0M286.1 59.5h0M286.5 45.0h0M284.5 61.6h0M283.2 72.5h0M277.0 66.3h0M282.4 71.7h0M278.0 59.1h0M274.2 87.3h0M280.8 65.2h0M275.8 74.4h0M279.5 78.5h0M284.7 67.2h0M284.3 58.1h0M280.3 62.4h0M276.7 67.1h0M280.9 78.5h0M268.8 61.6h0M278.0 63.3h0M283.1 70.2h0M281.6 63.2h0M283.4 69.9h0M274.5 64.9h0M276.3 57.5h0M282.1 67.5h0M281.9 60.0h0M280.7 59.7h0M283.0 72.5h0M288.2 77.1h0M278.4 63.3h0M277.9 69.4h0M289.0 72.7h0M273.1 56.9h0M276.6 71.1h0M281.5 69.4h0M288.3 60.4h0M278.3 82.7h0M282.8 60.8h0M273.8 54.8h0M272.2 67.5h0M281.7 74.9h0M281.0 61.5h0M278.7 82.2h0M274.8 68.4h0M281.6 71.9h0M280.0 71.0h0M284.6 65.8h0M279.8 65.5h0M277.8 65.3h0M280.4 68.7h0M286.6 77.5h0M279.8 71.8h0M282.6 73.1h0M281.6 69.1h0M279.7 60.7h0M284.8 77.4h0M284.0 70.5h0M282.5 63.4h0M274.7 72.3h0M282.3 62.6h0M277.8 77.2h0M274.6 81.1h0M283.9 86.0h0M278.8 66.8h0M279.6 68.2h0M280.7 61.0h0M285.6 60.7h0M279.6 71.4h0M279.5 63.5h0M282.9 64.1h0M276.8 66.2h0M280.7 80.6h0M277.3 74.8h0M278.5 64.2h0M280.3 69.2h0M284.8 81.0h0M279.1 77.6h0M285.3 73.5h0M278.6 74.2h0M281.1 69.8h0M280.5 72.3h0M285.7 76.0h0M280.7 75.0h0M287.0 59.5h0M287.1 56.3h0M283.6 71.8h0M287.1 69.2h0M279.7 60.6h0M276.7 73.1h0M280.6 61.3h0M283.5 60.9h0M279.8 63.3h0M287.8 78.7h0M280.9 54.4h0M282.6 67.6h0M282.8 71.5h0M280.3 74.4h0M284.7 68.7h0M280.0 63.2h0M284.1 58.2h0M280.9 61.0h0M276.2 71.8h0M281.4 67.3h0M284.8 55.0h0M281.2 69.3h0M284.7 58.3h0M284.2 68.8h0M286.7 76.1h0M283.6 84.2h0M281.5 63.6h0M280.2 59.5h0M281.4 52.0h0M281.2 70.4h0M285.3 64.2h0M286.8 61.8h0M281.0 52.0h0M278.6 60.7h0M287.0 71.1h0M277.4 71.2h0M283.3 65.2h0M281.6 64.6h0M279.5 53.2h0M281.2 77.0h0M286.8 64.8h0M278.7 65.3h0M284.8 69.7h0M279.3 69.8h0M280.7 71.0h0M280.0 55.5h0M281.7 72.9h0M277.4 66.2h0M284.8 64.1h0M279.1 82.8h0M284.6 75.0h0M278.0 79.7h0M275.4 63.0h0M284.2 77.4h0M278.1 61.8h0M282.2 52.0h0M283.9 71.4h0M279.8 71.2h0M284.4 69.4h0M283.4 78.8h0M279.7 68.3h0M279.6 75.0h0M280.0 70.7h0M282.0 67.5h0M287.8 66.3h0M286.7 73.4h0M286.4 65.7h0M284.9 72.9h0M279.2 69.1h0M281.0 66.7h0M286.3 61.4h0M275.3 53.5h0M279.8 62.0h0M281.6 71.4h0M288.0 69.4h0M283.2 61.3h0M283.6 77.5h0M286.4 51.9h0M284.8 79.2h0M284.5 55.5h0M280.4 71.5h0M283.0 60.7h0M278.2 74.4h0M276.6 78.1h0M281.6 69.3h0M276.6 62.4h0M284.0 55.7h0M289.1 56.2h0M277.0 67.3h0M283.3 72.6h0M280.1 65.4h0M280.6 62.6h0M272.1 74.4h0M282.4 68.2h0M279.2 68.9h0M281.5 66.4h0M285.5 53.8h0M282.4 58.8h0M280.3 78.5h0M277.5 66.2h0M279.3 74.3h0M277.9 54.1h0" stroke="#8452E0" stroke-width="1.20" stroke-linecap="round" opacity="0.75" fill="none"/>
<path d="M282.5 64.0h0M280.1 72.2h0M278.4 63.8h0M281.4 68.4h0M279.5 72.0h0M287.5 63.6h0M286.4 53.8h0M285.1 64.0h0M281.4 64.0h0M279.2 58.6h0M279.9 73.5h0M284.3 64.0h0M279.5 62.0h0M277.5 76.4h0M282.9 66.7h0M279.6 60.1h0M284.8 70.5h0M278.3 71.7h0M277.8 69.7h0M278.2 63.6h0M282.4 68.5h0M283.9 61.2h0M285.5 73.7h0M281.0 68.7h0M278.8 65.1h0M277.2 66.5h0M281.6 73.7h0M283.7 70.7h0M280.0 64.7h0M280.0 67.3h0M275.4 70.4h0M276.5 63.0h0M281.1 63.0h0M285.8 65.4h0M285.5 72.8h0M279.6 68.3h0M284.7 64.1h0M281.3 62.8h0M281.2 64.0h0M281.2 71.8h0M285.0 66.8h0M281.6 70.9h0M280.2 59.9h0M284.2 60.6h0M283.7 60.4h0M286.3 60.0h0M283.4 74.6h0M278.2 74.6h0M278.6 55.8h0M283.1 70.0h0M280.4 51.5h0M280.8 64.2h0M279.9 64.3h0M275.8 62.7h0M286.2 74.9h0M280.0 61.9h0M282.1 72.1h0M283.1 59.3h0M281.5 66.8h0M285.1 72.9h0M282.5 73.0h0M279.9 74.9h0M279.8 68.3h0M283.6 60.7h0M279.0 55.9h0M281.5 65.7h0M280.1 68.9h0M274.9 65.9h0M281.3 64.5h0M283.3 76.1h0M279.7 60.6h0M279.3 66.5h0M282.7 61.0h0M283.9 60.1h0M283.4 68.5h0M282.3 78.4h0M280.2 65.0h0M282.4 71.0h0M277.1 67.6h0M278.9 69.6h0" stroke="#7a44dd" stroke-width="1.40" stroke-linecap="round" opacity="0.8" fill="none"/>
<path d="M280.4 94.3h0M276.7 95.2h0M269.6 99.2h0M278.4 95.1h0M276.0 89.1h0M276.6 102.2h0M276.7 103.1h0M270.6 90.9h0M277.7 93.9h0M272.9 89.5h0M280.1 85.3h0M274.5 86.6h0M275.6 98.3h0M278.5 80.4h0M280.6 90.0h0M275.5 105.2h0M276.8 85.7h0M275.4 89.1h0M274.5 91.8h0M279.2 96.4h0M273.6 112.7h0M274.5 94.8h0M277.1 99.1h0M276.2 97.1h0M282.3 94.6h0M274.3 96.2h0M275.0 91.5h0M277.5 96.3h0M276.3 99.7h0M276.5 85.2h0M279.2 91.6h0M280.0 89.6h0M278.4 96.1h0M270.3 84.0h0M274.2 103.5h0M272.3 100.1h0M279.7 97.3h0M278.7 90.7h0M277.0 95.5h0M278.1 98.8h0M276.5 89.3h0M275.6 96.8h0M272.9 85.6h0M276.0 90.3h0M276.3 76.1h0M276.1 92.3h0M278.9 80.7h0M276.2 97.2h0M278.2 102.0h0M279.6 86.9h0M278.6 91.7h0M275.0 104.3h0M275.4 88.3h0M276.0 88.3h0M279.5 96.6h0M280.5 96.8h0M275.5 101.0h0M275.4 90.9h0M276.6 94.3h0M280.0 89.9h0M277.9 93.8h0M273.9 86.6h0M276.5 96.7h0M277.8 97.2h0M277.1 91.0h0M278.1 87.2h0M273.6 91.8h0M273.4 90.5h0M275.1 90.3h0M276.9 88.6h0M275.9 82.5h0M277.4 88.1h0M278.0 74.9h0M275.0 95.6h0M270.9 91.6h0M277.2 94.7h0M273.2 95.5h0M277.4 87.4h0M278.9 93.7h0M277.0 91.0h0M278.4 94.7h0M279.9 97.1h0M275.5 92.5h0M279.3 91.5h0M278.0 97.5h0M276.5 78.3h0M277.3 95.4h0M277.3 88.9h0M280.0 93.1h0M275.4 89.1h0M277.9 86.6h0M274.5 107.5h0M280.3 101.1h0M280.4 98.0h0M272.8 102.1h0M280.1 97.3h0M272.1 102.4h0M280.4 90.7h0M277.3 99.3h0M276.8 101.4h0M277.2 98.7h0M277.2 84.0h0M274.5 115.5h0M277.7 102.9h0M279.9 105.6h0M278.4 90.0h0M277.0 81.0h0M276.5 100.2h0M271.5 95.3h0M279.1 103.0h0M274.7 89.6h0M272.3 87.1h0M278.3 108.1h0M274.1 103.4h0M278.1 90.6h0M282.5 76.9h0M276.8 95.5h0M282.4 106.2h0M282.7 94.9h0M279.5 103.3h0M278.3 96.4h0M276.5 91.2h0M273.9 107.3h0M275.9 79.9h0M277.7 93.8h0M277.4 106.3h0M276.7 92.2h0M275.1 93.8h0M275.9 95.4h0M284.9 96.7h0" stroke="#8452E0" stroke-width="1.20" stroke-linecap="round" opacity="0.75" fill="none"/>
<path d="M252.7 80.5h0M259.4 76.2h0M258.8 76.2h0M258.6 78.5h0M259.9 78.2h0M254.0 73.0h0M253.2 76.7h0M259.2 71.2h0M258.3 83.2h0M260.8 68.7h0M255.6 75.5h0M255.9 74.5h0M260.6 74.3h0M251.7 75.8h0M255.6 73.4h0M253.8 67.6h0M251.1 71.6h0M251.8 62.4h0M260.5 68.5h0M253.2 75.1h0M246.6 78.2h0M253.0 75.6h0M254.1 74.2h0M256.4 73.0h0M248.9 67.3h0M255.8 78.5h0M253.9 75.1h0M256.6 74.9h0M259.9 67.2h0M257.1 72.3h0M254.8 69.7h0M252.9 69.0h0M251.7 82.8h0M262.6 73.0h0M258.9 69.2h0M245.2 65.9h0M256.6 78.6h0M255.8 69.1h0M255.1 69.1h0M250.6 72.1h0M254.4 69.8h0M252.5 69.4h0M256.9 78.4h0M255.2 81.7h0M249.7 74.1h0M251.5 72.4h0M256.4 75.2h0M260.4 70.8h0M251.2 72.3h0M257.1 70.3h0M259.5 79.6h0M250.5 74.4h0M260.0 65.5h0M256.8 72.1h0M250.5 78.1h0M256.8 71.1h0M257.7 75.5h0M259.0 75.3h0M257.6 68.4h0M254.4 73.5h0M245.2 81.3h0M254.5 68.9h0M248.9 74.0h0M256.1 70.7h0M254.4 69.5h0M253.1 72.6h0M253.5 75.6h0M255.4 73.5h0M257.6 78.0h0M258.3 73.9h0" stroke="#8452E0" stroke-width="1.10" stroke-linecap="round" opacity="0.75" fill="none"/>
<path d="M266.4 50.7h0M265.8 53.1h0M267.8 51.4h0M262.5 49.6h0M268.1 53.6h0M268.3 49.9h0M266.3 52.3h0M263.9 52.5h0M266.3 50.7h0M262.8 53.3h0M268.2 50.6h0M263.5 53.4h0M269.0 51.5h0M272.4 51.5h0M263.4 53.7h0M266.4 52.5h0M267.1 50.4h0M263.0 51.7h0M271.8 50.4h0M271.6 52.3h0M263.2 52.4h0M268.9 50.6h0M259.7 52.6h0M263.2 52.7h0M260.5 51.8h0M264.2 49.7h0M266.2 52.3h0M265.1 50.2h0M267.7 49.3h0M268.8 52.8h0M272.7 53.4h0M268.2 52.4h0M267.1 49.9h0M272.0 52.8h0M266.0 50.2h0M272.0 52.8h0M263.0 53.0h0M273.4 52.0h0M268.4 51.4h0M264.9 53.7h0M277.5 52.2h0M266.6 53.2h0M266.0 53.1h0M269.8 50.4h0M263.4 51.9h0" stroke="#E0794A" stroke-width="1.40" stroke-linecap="round" opacity="0.85" fill="none"/>
<path d="M268.6 67.8h0M270.4 63.0h0M267.2 65.2h0M265.4 67.9h0M260.8 66.3h0M259.9 67.8h0M261.3 65.6h0M266.0 65.1h0M270.0 65.1h0M268.7 67.8h0M260.5 66.4h0M261.3 65.9h0M263.8 72.3h0M263.2 71.6h0M267.0 63.2h0M254.9 69.0h0M256.3 69.1h0M269.5 68.1h0M264.1 66.3h0M266.1 66.1h0M262.7 65.9h0M270.1 65.2h0M266.7 63.7h0M261.9 63.0h0M264.1 69.0h0M266.3 65.6h0M267.7 66.0h0M266.6 67.8h0M267.4 59.8h0M259.3 69.2h0M264.5 73.5h0M264.0 65.4h0M271.5 68.6h0M273.3 68.5h0M264.1 69.1h0M261.6 65.7h0M262.6 66.4h0M268.4 65.6h0M266.4 65.6h0M268.8 59.0h0M264.1 67.5h0M260.3 69.9h0M265.9 70.7h0M269.2 68.9h0M264.3 63.8h0M264.0 65.7h0M266.1 65.7h0M278.3 62.4h0M270.1 65.6h0M263.9 69.7h0M265.0 63.5h0M266.8 66.4h0M256.1 67.6h0M260.4 64.8h0M267.1 67.9h0M263.7 73.3h0M266.8 65.2h0M266.0 66.6h0M255.4 62.4h0M259.0 73.0h0M264.2 66.2h0M262.5 69.8h0M265.1 71.9h0M268.4 71.8h0M264.5 68.1h0M263.1 66.5h0M257.5 65.3h0M260.9 65.1h0M270.3 67.8h0M270.3 69.5h0M269.0 69.9h0M262.4 69.3h0M263.6 65.5h0M270.2 73.3h0M260.8 72.0h0M268.6 64.5h0M266.2 68.1h0M266.6 66.0h0M259.4 67.1h0M268.7 69.3h0M267.9 70.2h0M260.7 66.9h0M266.5 69.9h0M265.7 68.5h0M265.6 73.1h0M255.5 66.9h0M275.7 67.7h0M257.1 67.4h0M258.8 65.0h0M266.0 72.0h0" stroke="#E0794A" stroke-width="1.40" stroke-linecap="round" opacity="0.85" fill="none"/>
<path d="M244.7 62.3h0M245.6 60.7h0M242.7 59.7h0M244.5 59.1h0M243.0 58.8h0M241.7 56.5h0M243.9 58.8h0M244.1 64.7h0M244.5 59.9h0M242.2 56.4h0M244.6 57.1h0M244.7 56.4h0M244.2 59.8h0M245.5 58.7h0M243.4 60.8h0M244.1 65.7h0M243.6 58.2h0M243.5 61.6h0M244.4 62.3h0M241.9 68.3h0M246.8 59.9h0M242.1 60.5h0M244.6 52.5h0M244.0 55.0h0M244.7 64.7h0M245.6 54.9h0M246.1 63.1h0M243.4 61.7h0M246.3 58.9h0M244.0 58.1h0" stroke="#E0794A" stroke-width="1.30" stroke-linecap="round" opacity="0.85" fill="none"/>
<path d="M273.1 33.1h0M275.7 46.8h0M270.9 39.2h0M253.0 51.1h0M270.0 39.3h0M267.8 50.7h0M273.9 54.4h0M266.7 56.0h0M279.3 53.8h0M261.8 80.9h0M262.7 65.9h0M254.9 60.3h0M240.2 59.2h0M255.8 40.6h0M248.4 71.2h0M266.1 40.5h0M279.5 50.0h0M258.5 60.8h0M251.1 39.3h0M254.8 71.6h0M271.2 39.8h0M273.6 58.4h0M266.8 58.6h0M266.0 46.4h0M253.3 49.9h0M258.5 65.2h0M250.3 76.4h0M255.9 51.2h0M268.8 63.0h0M258.7 45.6h0M252.4 39.5h0M273.0 70.5h0M280.0 63.8h0M265.2 66.7h0M271.2 55.0h0M265.4 82.9h0M245.7 41.8h0M252.7 66.7h0M273.4 54.1h0M268.5 57.4h0" stroke="#8452E0" stroke-width="0.90" stroke-linecap="round" opacity="0.6" fill="none"/>
<line x1="231.7" y1="99" x2="273.8" y2="94.4" stroke="#4a4a4a" stroke-width="0.7" stroke-dasharray="2.4,1.4" opacity="0.55"/>
<line x1="273.8" y1="13.2" x2="273.8" y2="94.4" stroke="#4a4a4a" stroke-width="0.7" stroke-dasharray="2.4,1.4" opacity="0.55"/>
<line x1="340.8" y1="19.4" x2="370.8" y2="2.6" stroke="#5a5a5a" stroke-width="0.65" stroke-dasharray="2.4,1.4" opacity="1"/>
<line x1="384.9" y1="3.5" x2="384.9" y2="121.6" stroke="#5a5a5a" stroke-width="0.65" stroke-dasharray="2.4,1.4" opacity="1"/>
<line x1="340.8" y1="19.4" x2="340.8" y2="105" stroke="#5a5a5a" stroke-width="0.65" stroke-dasharray="2.4,1.4" opacity="1"/>
<line x1="300" y1="105" x2="340.8" y2="104" stroke="#5a5a5a" stroke-width="0.65" stroke-dasharray="2.4,1.4" opacity="1"/>
<line x1="340.8" y1="104" x2="370" y2="125" stroke="#5a5a5a" stroke-width="0.65" stroke-dasharray="2.4,1.4" opacity="1"/>
<line x1="348.1" y1="16.8" x2="348.1" y2="106.9" stroke="#e0e0e0" stroke-width="0.4" opacity="1"/>
<line x1="355.5" y1="14.1" x2="355.5" y2="109.9" stroke="#e0e0e0" stroke-width="0.4" opacity="1"/>
<line x1="362.9" y1="11.4" x2="362.9" y2="112.8" stroke="#e0e0e0" stroke-width="0.4" opacity="1"/>
<line x1="370.2" y1="8.8" x2="370.2" y2="115.7" stroke="#e0e0e0" stroke-width="0.4" opacity="1"/>
<line x1="377.5" y1="6.1" x2="377.5" y2="118.7" stroke="#e0e0e0" stroke-width="0.4" opacity="1"/>
<line x1="340.8" y1="30.0" x2="384.9" y2="18.3" stroke="#e0e0e0" stroke-width="0.4" opacity="1"/>
<line x1="340.8" y1="40.5" x2="384.9" y2="33.0" stroke="#e0e0e0" stroke-width="0.4" opacity="1"/>
<line x1="340.8" y1="51.1" x2="384.9" y2="47.8" stroke="#e0e0e0" stroke-width="0.4" opacity="1"/>
<line x1="340.8" y1="61.7" x2="384.9" y2="62.5" stroke="#e0e0e0" stroke-width="0.4" opacity="1"/>
<line x1="340.8" y1="72.3" x2="384.9" y2="77.3" stroke="#e0e0e0" stroke-width="0.4" opacity="1"/>
<line x1="340.8" y1="82.8" x2="384.9" y2="92.1" stroke="#e0e0e0" stroke-width="0.4" opacity="1"/>
<line x1="340.8" y1="93.4" x2="384.9" y2="106.8" stroke="#e0e0e0" stroke-width="0.4" opacity="1"/>
<path d="M310.9,10.6 C314.4,9.9 320.0,8.8 325.0,9.7 C330.0,10.6 336.1,12.5 340.8,15.9 C345.5,19.3 349.7,24.7 353.2,30.0 C356.7,35.3 360.1,41.4 362.0,47.6 C363.9,53.8 364.9,61.1 364.6,67.0 C364.3,72.9 362.7,77.5 360.2,82.8 C357.7,88.1 353.4,94.3 349.6,98.7 C345.8,103.1 341.7,106.8 337.3,109.3 C332.9,111.8 327.0,114.3 323.2,113.7 C319.4,113.1 316.8,109.4 314.4,105.7 C312.0,102.0 310.9,97.5 309.1,91.6 C307.3,85.7 305.1,77.5 303.8,70.5 C302.5,63.5 301.6,56.6 301.2,49.3 C300.8,41.9 300.8,32.3 301.2,26.4 C301.6,20.5 302.2,16.7 303.8,14.1 C305.4,11.5 307.4,11.3 310.9,10.6Z" fill="#e9e9e9" filter="url(#bl1)"/>
<path d="M310.9,10.6 C314.4,9.9 320.0,8.8 325.0,9.7 C330.0,10.6 336.1,12.5 340.8,15.9 C345.5,19.3 349.7,24.7 353.2,30.0 C356.7,35.3 360.1,41.4 362.0,47.6 C363.9,53.8 364.9,61.1 364.6,67.0 C364.3,72.9 362.7,77.5 360.2,82.8 C357.7,88.1 353.4,94.3 349.6,98.7 C345.8,103.1 341.7,106.8 337.3,109.3 C332.9,111.8 327.0,114.3 323.2,113.7 C319.4,113.1 316.8,109.4 314.4,105.7 C312.0,102.0 310.9,97.5 309.1,91.6 C307.3,85.7 305.1,77.5 303.8,70.5 C302.5,63.5 301.6,56.6 301.2,49.3 C300.8,41.9 300.8,32.3 301.2,26.4 C301.6,20.5 302.2,16.7 303.8,14.1 C305.4,11.5 307.4,11.3 310.9,10.6Z" fill="none" stroke="#cfcfcf" stroke-width="1.5" filter="url(#bl1)" opacity="1"/>
<path d="M310,50 C312,30 325,22 340,30 C354,40 358,60 354,80 C348,96 336,104 322,100 C312,92 308,70 310,50Z" fill="#e1e1e1" filter="url(#bl2)"/>
<ellipse cx="322" cy="95" rx="9" ry="12" fill="#d4d4d4" filter="url(#bl2)"/>
<path d="M351.5 30.9h0M335.9 95.3h0M343.3 67.3h0M324.4 28.9h0M316.1 45.5h0M347.4 59.3h0M325.3 100.4h0M353.8 64.9h0M337.4 53.1h0M308.3 57.0h0M346.2 63.5h0M313.6 87.5h0M340.6 81.0h0M336.1 91.6h0M341.4 35.1h0M343.1 94.2h0M354.8 89.1h0M334.7 75.8h0" stroke="#888" stroke-width="1.20" stroke-linecap="round" opacity="0.2" fill="none"/>
<path d="M357.9 57.8h0M326.1 101.4h0M334.2 78.2h0M337.2 92.0h0M308.9 66.5h0M343.0 54.0h0M320.3 93.7h0M347.2 62.1h0M355.3 84.4h0M349.4 35.2h0M324.9 98.7h0M349.5 59.8h0M326.5 90.7h0M323.1 73.5h0M317.8 52.1h0M344.8 33.2h0M349.1 97.8h0M339.7 70.7h0M345.9 94.2h0M339.2 75.7h0M346.0 89.3h0M341.6 101.8h0M323.4 86.9h0M357.5 53.5h0" stroke="#888" stroke-width="1.60" stroke-linecap="round" opacity="0.2" fill="none"/>
<path d="M319.0 48.4h0M343.7 41.5h0M348.6 45.0h0M357.6 40.4h0M350.1 48.2h0M342.5 98.9h0M341.3 96.8h0M351.2 41.1h0M323.5 68.3h0M309.0 60.0h0M330.5 47.4h0M327.6 42.0h0M316.1 80.7h0M319.8 48.7h0M322.1 20.1h0M330.5 25.4h0M336.6 62.7h0M332.1 74.8h0M310.8 70.4h0M343.8 59.4h0M314.1 63.1h0M350.4 58.1h0M335.6 48.4h0M347.2 41.2h0M328.1 17.9h0M335.1 104.8h0" stroke="#888" stroke-width="0.80" stroke-linecap="round" opacity="0.2" fill="none"/>
<path d="M342.3 23.0h0M347.1 98.0h0M327.0 84.8h0M341.3 90.1h0M326.3 104.6h0M330.2 93.0h0M311.2 44.2h0M359.2 74.3h0M333.1 94.4h0M352.0 29.9h0M344.4 80.7h0M320.4 22.2h0M317.5 24.6h0M340.3 82.7h0M327.4 63.1h0M330.4 78.8h0M319.9 67.5h0M353.4 82.4h0M359.9 56.2h0M316.2 58.0h0M331.4 52.8h0M345.0 38.1h0M351.1 74.3h0M347.7 29.6h0M311.4 79.7h0" stroke="#888" stroke-width="1.40" stroke-linecap="round" opacity="0.2" fill="none"/>
<path d="M329.9 104.1h0M342.0 74.1h0M320.7 86.1h0M346.3 31.7h0M308.0 43.4h0M311.1 39.9h0M326.6 104.7h0M342.6 85.2h0M321.1 74.0h0M351.3 68.1h0M346.6 47.4h0M324.0 22.1h0M340.2 28.8h0M317.6 73.9h0M317.0 69.9h0M318.6 99.3h0M340.8 100.6h0M335.5 42.8h0M310.7 49.8h0M334.1 57.9h0M329.7 81.0h0M321.8 48.1h0M322.6 73.7h0" stroke="#888" stroke-width="1.00" stroke-linecap="round" opacity="0.2" fill="none"/>
<path d="M332.9 49.5h0M323.2 28.6h0M335.5 54.7h0M315.5 44.5h0M348.4 52.3h0M317.7 95.8h0M355.9 81.3h0M317.3 77.8h0M347.4 25.6h0M354.2 32.5h0M310.3 56.7h0M319.6 81.9h0" stroke="#888" stroke-width="1.80" stroke-linecap="round" opacity="0.2" fill="none"/>
<path d="M337.9 69.1h0M325.1 80.3h0M352.0 45.9h0M350.3 65.4h0M333.3 55.0h0M345.5 82.2h0M349.0 58.7h0M354.8 65.1h0M308.8 82.7h0M355.9 71.1h0M351.9 81.9h0M321.1 99.4h0" stroke="#888" stroke-width="0.60" stroke-linecap="round" opacity="0.2" fill="none"/>
<path d="M336.8 43.7h0M328.3 24.7h0M332.7 22.6h0M333.1 42.2h0M345.1 38.1h0M334.6 42.0h0M344.2 33.4h0M323.2 29.7h0M322.9 28.9h0M332.0 38.7h0M334.2 36.6h0M330.1 39.4h0M340.1 42.1h0M345.0 33.7h0M331.0 49.6h0M334.6 39.3h0M330.3 43.8h0M329.8 27.9h0M332.5 32.5h0M339.7 33.0h0M334.0 34.3h0M335.7 31.0h0M341.8 24.6h0M329.9 30.3h0M338.2 36.3h0M336.9 33.4h0M327.3 27.0h0M330.3 31.7h0M335.2 38.8h0M340.8 35.1h0M327.0 27.5h0M333.5 38.9h0M348.6 37.5h0M347.1 51.0h0M324.6 45.7h0M342.1 46.8h0M332.9 43.6h0M329.2 35.4h0M333.2 50.3h0M331.3 43.6h0M333.5 30.3h0M334.9 41.3h0M327.3 41.1h0M327.3 29.0h0M334.8 34.1h0M325.1 23.0h0M333.2 37.9h0M329.3 37.5h0M320.8 39.1h0M336.3 38.2h0M328.1 36.6h0M334.0 44.6h0M335.2 38.0h0M327.2 42.9h0M342.4 32.1h0M338.1 38.5h0M332.6 25.7h0M347.1 21.1h0M335.4 33.0h0M342.2 32.6h0M333.3 40.9h0M336.6 31.8h0M338.4 39.1h0M340.9 31.9h0M332.6 32.9h0M326.3 38.0h0M336.3 47.3h0M330.4 39.1h0M342.1 35.1h0M333.5 37.1h0M327.5 28.1h0M341.9 37.4h0M332.4 26.1h0M333.9 45.4h0M323.8 28.9h0M341.8 47.4h0M345.4 31.6h0M337.8 30.0h0M337.1 33.1h0M334.6 46.7h0M335.7 34.1h0M333.4 38.1h0M328.9 37.6h0M337.8 48.4h0M316.6 26.5h0M323.2 43.0h0M352.4 37.5h0M334.0 45.1h0M313.6 34.6h0M308.2 37.2h0M329.0 32.1h0M335.7 31.4h0M341.8 36.0h0M336.0 56.2h0M329.4 43.4h0M326.4 45.9h0M340.7 37.1h0M340.9 48.8h0M343.9 36.0h0M332.6 44.8h0M321.3 31.2h0M336.8 40.5h0M347.8 50.0h0M335.6 39.5h0M322.5 34.5h0M335.1 34.2h0M333.5 40.8h0M325.5 31.5h0M318.9 45.1h0M324.6 22.5h0M339.1 34.3h0M340.7 33.1h0M349.8 41.7h0M334.2 36.9h0M331.4 42.4h0M348.8 32.7h0M324.4 40.7h0M341.4 24.2h0M327.5 28.1h0M337.4 40.0h0M327.2 27.1h0M338.4 19.8h0M338.1 34.8h0M348.2 43.9h0M328.4 33.8h0M330.8 30.3h0M333.6 43.6h0M321.1 34.2h0M344.8 41.9h0M326.6 29.6h0M326.3 23.3h0M342.1 36.5h0M327.5 24.7h0M330.0 32.0h0M346.6 32.4h0M333.9 44.4h0M338.3 34.6h0M315.8 47.0h0M337.7 32.6h0M332.3 28.5h0M325.9 24.3h0M336.9 40.1h0M334.4 42.1h0M337.2 37.0h0M326.1 40.6h0M342.3 41.0h0M342.8 32.3h0M325.3 45.8h0M328.4 37.9h0M331.5 36.2h0M330.9 31.8h0M319.0 51.0h0M334.6 20.9h0M325.9 27.2h0M327.2 16.0h0M337.5 48.9h0M331.1 41.8h0M337.7 26.2h0M342.6 22.8h0M328.5 33.2h0M342.9 36.9h0M332.0 29.7h0M333.7 36.3h0M338.7 46.9h0M338.8 36.1h0M331.8 48.5h0M334.6 35.9h0M347.1 48.3h0M337.5 35.1h0M328.0 44.4h0M329.5 43.5h0M326.9 36.8h0M336.2 37.1h0M334.8 39.0h0M324.2 27.3h0M331.8 50.1h0M332.0 28.7h0M327.8 36.3h0M342.3 31.6h0M337.4 37.5h0M330.2 28.6h0M331.8 30.3h0M337.2 22.2h0M341.8 41.9h0M337.5 47.7h0M337.7 22.6h0M333.4 39.5h0M327.7 27.2h0M336.4 40.0h0M329.7 34.1h0M329.0 31.6h0M332.6 44.4h0M320.4 33.3h0M345.6 38.5h0M334.2 42.5h0M325.2 26.6h0M320.1 24.6h0M334.9 42.6h0M329.8 30.7h0M336.2 40.8h0" stroke="#8452E0" stroke-width="1.10" stroke-linecap="round" opacity="0.7" fill="none"/>
<path d="M333.8 29.7h0M328.3 26.7h0M333.7 34.9h0M327.5 46.3h0M341.0 41.3h0M333.9 39.8h0M328.0 38.8h0M345.0 34.7h0M327.5 39.8h0M338.1 43.1h0M325.4 38.4h0M330.2 33.0h0M332.5 36.7h0M338.3 41.1h0M326.7 39.4h0M329.6 35.9h0M328.7 44.2h0M329.2 30.7h0M326.7 42.9h0M346.7 33.9h0M329.6 37.4h0M322.4 41.0h0M331.7 40.4h0M347.2 37.7h0M337.4 43.1h0M327.7 36.1h0M342.6 42.5h0M333.0 33.7h0M338.0 41.6h0M347.0 46.2h0M337.5 40.3h0M332.4 36.3h0M334.1 40.2h0M336.4 44.3h0M334.1 36.4h0M337.5 46.5h0M326.3 41.0h0M335.7 41.6h0M335.4 38.6h0M331.3 47.2h0M343.8 32.2h0M314.7 41.1h0M327.4 36.5h0M321.2 40.7h0M331.6 36.4h0M338.1 50.8h0M342.0 44.7h0M329.2 42.2h0M331.7 44.6h0M336.0 38.8h0M335.8 35.5h0M337.4 46.3h0M329.5 41.7h0M320.7 43.6h0M338.0 34.0h0M343.9 39.6h0M320.2 32.4h0M337.9 37.7h0M339.5 31.5h0M331.3 43.7h0M327.4 42.3h0M329.6 40.7h0M334.2 49.8h0M323.6 42.8h0M340.9 33.5h0M332.6 50.2h0M339.1 24.6h0M330.4 30.7h0M334.1 35.5h0M328.2 34.9h0M334.0 36.7h0M325.9 37.9h0M334.8 34.8h0M339.6 30.9h0M334.8 37.1h0M342.7 35.9h0M327.5 32.5h0M345.5 42.0h0M324.6 37.4h0M325.5 46.4h0M334.8 29.1h0M333.4 43.4h0M332.0 41.3h0M331.3 40.0h0M333.4 35.6h0M334.4 39.8h0M331.7 35.7h0M325.1 40.2h0M337.6 27.3h0M328.4 45.6h0M338.2 35.5h0M341.2 34.2h0M326.6 48.4h0M329.0 37.9h0M320.8 34.1h0M324.0 38.3h0M319.5 44.2h0M329.6 36.1h0M327.7 42.6h0M342.4 37.0h0M343.0 46.8h0M341.1 40.5h0M321.9 42.3h0M329.2 39.9h0M319.2 37.6h0M333.6 34.4h0M334.0 47.1h0M333.6 35.7h0M348.2 28.5h0M325.7 41.0h0M328.0 27.8h0M333.8 43.0h0M326.6 46.1h0M335.4 44.8h0M321.6 39.0h0M342.9 48.8h0M341.0 39.0h0M333.2 35.9h0M339.5 35.6h0M332.8 28.9h0M321.7 47.7h0M332.4 40.0h0M317.0 38.8h0M346.1 31.7h0M315.8 38.2h0M328.4 38.0h0M323.4 32.4h0M323.6 42.1h0M331.7 43.0h0M324.6 41.9h0M329.0 39.4h0M338.4 39.2h0M329.6 30.9h0M332.4 42.8h0M327.7 38.7h0M319.9 32.5h0M334.8 45.3h0M329.9 30.8h0M329.4 31.3h0M330.1 48.4h0M334.1 38.3h0M339.1 37.1h0M334.3 40.0h0M335.1 31.8h0M336.9 43.3h0M316.3 25.7h0M325.9 46.3h0M332.1 42.3h0M335.8 43.4h0M327.6 36.1h0M334.6 42.0h0M335.9 40.7h0M328.7 44.4h0M335.2 44.2h0M314.5 44.0h0M315.2 40.0h0M327.4 39.6h0M328.7 37.5h0M333.3 40.7h0M326.5 26.5h0M326.6 41.7h0M326.2 41.1h0M329.5 34.4h0M340.1 47.2h0M331.3 38.8h0M338.6 32.5h0M326.0 44.6h0M338.2 36.6h0M326.6 40.7h0M322.3 36.5h0M330.4 26.8h0M336.1 42.8h0M339.4 31.9h0M323.1 35.0h0M323.0 49.2h0M325.2 37.5h0M333.4 41.3h0M342.1 33.6h0M338.1 39.7h0M323.9 39.7h0" stroke="#7a44dd" stroke-width="1.20" stroke-linecap="round" opacity="0.8" fill="none"/>
<path d="M302.8 51.6h0M304.8 48.0h0M310.9 38.3h0M304.3 42.8h0M303.9 47.4h0M307.5 37.5h0M305.0 46.3h0M302.7 52.1h0M304.7 40.8h0M304.2 51.7h0M309.5 49.8h0M308.9 42.5h0M312.1 46.0h0M308.3 45.4h0M309.2 43.7h0M306.5 32.5h0M313.1 34.2h0M300.6 37.7h0M312.8 49.3h0M305.2 43.6h0M306.9 30.1h0M306.0 43.7h0M310.5 34.8h0M300.3 32.6h0M308.0 42.5h0M307.4 42.9h0M305.9 33.8h0M308.4 44.3h0M308.7 49.5h0M303.3 28.0h0M301.7 54.8h0M304.3 44.4h0M307.0 46.4h0M316.6 38.9h0M306.5 38.4h0M307.7 45.1h0M304.1 49.9h0M310.4 44.7h0M306.7 40.6h0M302.1 45.9h0M304.1 39.0h0M310.0 36.5h0M305.4 47.1h0M312.6 37.9h0M310.3 38.1h0M308.2 44.9h0M303.6 48.2h0M312.4 42.3h0M307.8 35.0h0M312.4 42.4h0M303.2 46.6h0M302.6 37.9h0M300.6 50.3h0M313.6 38.2h0M305.0 38.5h0M305.3 45.3h0M311.4 36.0h0M308.3 31.2h0M311.6 41.5h0M304.9 51.2h0M306.7 50.2h0M310.2 51.9h0M304.6 42.3h0M308.1 40.8h0M311.6 37.7h0M310.0 50.2h0M301.1 36.2h0M304.3 38.7h0M308.2 41.0h0M307.2 39.2h0" stroke="#8452E0" stroke-width="1.10" stroke-linecap="round" opacity="0.75" fill="none"/>
<path d="M314.6 62.9h0M318.7 52.7h0M314.4 52.9h0M314.1 47.5h0M319.8 64.4h0M314.4 53.5h0M312.7 53.7h0M307.3 72.1h0M331.4 49.2h0M309.2 63.6h0M318.0 46.4h0M305.4 63.3h0M305.0 70.4h0M312.5 59.7h0M315.0 54.5h0M314.3 56.6h0M321.2 58.3h0M314.8 54.8h0M311.8 53.1h0M315.1 73.7h0M320.6 60.9h0M323.3 67.1h0M316.0 57.7h0M309.5 61.0h0M313.4 46.3h0M308.6 74.5h0M316.1 63.0h0M316.0 55.3h0M317.3 67.7h0M313.5 63.1h0M320.1 55.1h0M315.8 53.1h0M318.0 56.0h0M320.7 52.9h0M323.4 56.5h0M310.8 51.8h0M318.3 52.2h0M324.0 69.3h0M317.6 47.6h0M314.9 53.2h0M305.9 62.4h0M326.0 54.7h0M319.0 69.3h0M310.2 56.3h0M316.3 62.8h0M309.3 60.7h0M314.5 66.6h0M307.0 54.5h0M312.5 56.5h0M318.6 54.0h0M328.7 53.3h0M319.2 67.2h0M319.8 57.4h0M310.9 57.0h0M318.3 60.0h0M317.9 63.6h0M310.6 51.5h0M322.2 55.1h0M307.1 73.9h0M310.8 51.5h0M319.8 49.9h0M310.6 67.4h0M310.9 79.1h0M315.5 80.5h0M315.6 59.4h0M311.8 57.2h0M312.5 58.8h0M318.9 48.8h0M310.4 42.3h0M322.5 58.4h0M314.9 58.5h0M320.0 61.6h0M319.3 57.7h0M314.4 58.6h0M305.7 67.7h0M307.1 51.0h0M318.4 59.4h0M319.1 72.6h0M324.3 70.1h0M313.9 75.4h0M310.6 58.3h0M320.0 57.3h0M314.4 56.2h0M321.8 39.3h0M321.4 67.5h0M314.6 63.5h0M310.2 67.9h0M330.3 51.6h0M322.0 58.5h0M313.3 55.1h0M314.1 49.0h0M308.2 72.3h0M314.9 63.4h0M316.6 62.8h0M307.4 51.4h0M318.2 67.0h0M309.3 54.4h0M309.7 64.2h0M316.7 59.3h0M311.8 61.7h0M315.2 53.1h0M316.7 53.7h0M319.8 64.0h0M311.6 63.7h0M315.3 53.4h0M310.4 45.7h0M309.3 61.8h0M321.0 54.0h0M315.8 61.8h0M318.9 62.5h0M321.1 65.1h0M311.2 62.2h0M303.3 57.6h0M315.1 63.6h0M313.5 65.7h0M321.6 52.3h0M312.3 61.1h0M317.5 60.2h0M319.2 49.5h0M318.9 68.3h0M320.6 62.4h0M313.8 62.2h0M314.6 46.3h0M312.0 58.7h0M312.4 51.5h0M313.8 56.0h0M315.3 58.6h0M315.9 66.9h0M315.7 62.3h0M308.9 35.4h0M313.0 64.4h0M313.3 54.0h0M308.8 66.1h0M312.4 61.0h0M320.7 63.3h0M326.2 57.9h0M319.8 64.5h0M311.7 59.4h0M312.2 50.8h0M316.5 52.8h0M323.4 53.1h0M312.3 59.7h0M312.4 59.4h0M312.0 47.6h0M302.9 48.7h0M322.6 62.6h0M315.8 55.3h0M314.3 61.4h0M308.1 52.6h0M310.5 69.1h0M309.7 68.4h0M312.7 80.8h0M314.6 59.3h0M321.8 66.0h0M319.7 50.4h0M320.7 72.4h0M314.5 55.1h0M309.5 67.1h0M316.5 59.1h0M308.8 72.0h0M319.4 58.8h0M322.4 51.4h0M319.4 51.0h0M322.1 56.8h0M321.1 55.7h0M317.0 68.1h0M310.5 59.8h0M310.8 65.8h0M312.0 56.0h0M314.0 68.3h0" stroke="#E0794A" stroke-width="1.30" stroke-linecap="round" opacity="0.8" fill="none"/>
<path d="M331.9 60.9h0M333.7 58.3h0M332.5 60.2h0M335.0 53.3h0M335.1 55.1h0M334.5 72.4h0M332.1 60.7h0M333.9 65.9h0M333.3 52.1h0M330.5 61.9h0M335.1 66.3h0M333.2 64.3h0M331.8 67.5h0M334.3 57.6h0M334.9 69.7h0M332.4 54.8h0M332.0 55.2h0M334.4 62.8h0M334.1 62.0h0M337.5 59.6h0M331.4 49.6h0M335.1 57.6h0M333.9 63.0h0M335.7 53.2h0M332.1 61.4h0M334.1 66.7h0M333.2 50.7h0M337.4 52.8h0M332.1 62.9h0M331.9 73.4h0M335.1 63.7h0M333.4 72.1h0M335.8 57.4h0M337.6 52.6h0M333.0 62.4h0M334.8 56.2h0M338.5 68.4h0M332.2 62.9h0M332.9 58.8h0M337.0 61.6h0M334.2 61.5h0M331.6 67.1h0M332.6 67.5h0M333.4 58.7h0M338.2 62.0h0M332.9 58.3h0M336.0 70.4h0M336.0 59.0h0M331.7 57.6h0M334.2 62.2h0M332.9 67.4h0M332.1 57.4h0M335.7 63.4h0M333.5 65.8h0M331.0 69.2h0M340.0 70.8h0M334.8 70.8h0M334.6 67.6h0M334.0 62.0h0M335.8 52.3h0M334.0 69.6h0M327.2 62.9h0M336.8 62.6h0M335.0 67.9h0M335.3 51.5h0M332.1 59.5h0M334.9 58.8h0M334.2 69.3h0M327.2 66.8h0M336.8 64.0h0M334.5 61.3h0M335.4 62.2h0M332.7 64.9h0M332.4 60.8h0M333.6 55.2h0M336.0 60.7h0M331.6 60.6h0M331.1 68.2h0M335.8 70.9h0M333.1 64.5h0M332.1 56.7h0M334.3 63.1h0M336.8 59.7h0M337.3 65.8h0M332.3 60.1h0M332.2 69.5h0M333.1 65.4h0M336.8 59.7h0M333.3 62.7h0M332.6 54.7h0" stroke="#E0794A" stroke-width="1.30" stroke-linecap="round" opacity="0.85" fill="none"/>
<path d="M343.3 73.0h0M352.5 81.5h0M336.4 74.0h0M341.8 77.9h0M356.5 71.8h0M362.7 68.8h0M346.8 64.7h0M345.8 71.7h0M356.4 78.6h0M348.9 66.6h0M348.3 68.4h0M347.3 68.6h0M344.1 70.7h0M346.9 70.0h0M340.0 71.9h0M355.6 74.9h0M346.6 64.2h0M340.7 64.0h0M345.9 69.2h0M336.9 75.0h0M338.8 66.9h0M345.3 75.9h0M365.6 68.9h0M348.8 68.7h0M349.4 70.0h0M370.6 64.5h0M350.1 66.3h0M353.8 67.9h0M355.6 64.6h0M367.7 72.2h0M337.0 75.2h0M347.3 64.1h0M354.5 67.9h0M356.8 67.8h0M358.2 71.9h0M353.8 71.9h0M348.1 68.9h0M354.6 75.2h0M347.8 84.3h0M364.4 64.2h0M359.6 70.6h0M352.8 66.3h0M364.1 66.1h0M350.4 66.7h0M366.3 78.4h0M340.6 68.3h0M353.9 68.5h0M348.2 64.6h0M353.0 64.5h0M357.6 85.2h0M348.4 80.7h0M353.9 67.0h0M348.3 65.3h0M351.9 75.1h0M358.3 69.4h0M341.6 70.6h0M364.2 72.7h0M350.5 58.7h0M347.6 74.2h0M343.5 79.0h0M346.5 65.9h0M346.4 70.5h0M358.9 67.7h0M336.9 70.5h0M355.1 80.1h0M342.2 79.7h0M356.3 73.7h0M345.0 65.8h0M343.5 76.5h0M352.7 77.3h0M365.3 71.1h0M350.6 82.3h0M340.7 68.4h0M348.1 68.8h0M352.1 66.1h0M360.1 63.0h0M344.6 61.1h0M340.0 74.5h0M356.0 69.9h0M357.6 74.7h0M346.5 70.8h0M353.9 82.8h0M347.5 73.2h0M355.3 78.2h0M354.3 77.3h0M342.6 69.5h0M335.8 70.7h0M369.3 72.5h0M351.7 72.6h0M352.1 63.3h0M345.6 70.0h0M352.3 66.0h0M350.2 66.7h0M340.6 67.2h0M344.7 76.0h0M361.5 74.4h0M349.3 67.8h0M338.7 67.9h0M363.3 77.8h0M352.8 69.6h0M351.0 73.5h0M350.9 73.5h0M344.9 71.3h0M348.2 77.3h0M341.2 78.6h0M350.3 68.1h0M351.2 71.8h0M349.2 73.5h0M346.5 61.1h0M356.5 70.9h0M364.1 73.3h0M335.3 78.3h0M345.6 74.2h0M368.5 77.4h0M342.4 70.5h0M338.4 75.0h0M355.4 65.0h0M354.6 76.5h0M357.4 67.1h0M345.6 64.5h0M340.8 72.9h0M351.3 78.7h0M353.2 69.2h0M339.8 80.1h0M352.3 70.9h0M343.1 64.9h0M356.0 65.4h0M355.6 74.7h0M348.0 61.6h0M354.2 79.3h0M344.5 63.7h0M359.6 71.9h0M346.1 78.2h0M348.8 73.7h0M347.8 66.7h0M352.7 66.0h0M337.1 67.9h0M360.7 77.5h0M368.1 76.8h0M363.7 72.5h0M347.6 73.8h0M343.5 75.3h0M347.5 72.6h0M344.3 70.3h0M358.7 69.8h0M345.7 72.7h0M357.9 70.0h0M341.8 62.0h0M340.5 77.3h0M350.3 73.8h0M359.4 72.7h0M354.8 68.1h0M338.4 74.7h0M350.2 74.4h0M342.6 70.2h0M366.8 66.2h0M351.8 78.7h0M349.2 71.8h0M334.3 75.6h0M347.5 78.5h0M350.3 68.9h0M354.4 69.7h0M347.0 80.0h0M358.7 71.7h0M357.3 75.9h0M355.6 71.3h0M351.6 73.4h0M355.4 73.1h0M346.7 70.6h0M354.6 65.4h0M350.9 75.5h0M352.3 69.4h0M350.8 68.3h0M358.7 68.9h0M338.0 64.1h0M353.3 72.3h0M347.3 63.5h0M349.8 66.2h0M345.9 71.1h0M345.0 72.9h0M345.2 68.4h0M349.2 79.5h0M363.4 76.5h0M345.2 71.1h0M358.2 75.7h0M338.2 70.8h0M345.2 75.4h0M356.0 68.0h0M367.8 69.5h0M370.1 70.1h0M350.3 82.0h0M346.9 68.4h0M362.6 70.9h0M354.7 63.9h0M365.0 76.7h0M353.8 75.1h0M347.1 68.4h0M338.7 73.2h0M360.7 76.0h0M358.2 75.2h0" stroke="#8452E0" stroke-width="1.10" stroke-linecap="round" opacity="0.7" fill="none"/>
<path d="M344.6 69.7h0M353.8 74.6h0M355.8 73.1h0M344.8 75.5h0M346.7 68.6h0M346.4 71.1h0M343.5 72.2h0M355.6 81.9h0M360.1 72.7h0M356.7 73.8h0M352.4 71.8h0M349.6 68.5h0M360.5 71.5h0M353.4 72.1h0M351.6 70.1h0M347.8 77.1h0M353.5 67.6h0M355.0 69.7h0M351.7 75.8h0M346.2 73.0h0M348.6 75.4h0M355.4 78.6h0M351.9 80.7h0M344.4 80.0h0M348.5 76.6h0M349.3 74.3h0M344.6 75.3h0M361.9 74.6h0M349.9 74.1h0M354.2 73.4h0M350.0 74.8h0M357.7 77.2h0M343.8 72.0h0M350.1 76.9h0M355.7 73.4h0M362.5 73.5h0M358.3 78.8h0M359.4 74.7h0M353.4 69.0h0M339.5 72.0h0M354.2 77.6h0M349.4 77.5h0M353.4 79.1h0M340.7 71.3h0M344.4 70.6h0M359.7 71.0h0M345.1 72.7h0M355.2 72.5h0M354.3 75.9h0M346.2 66.2h0M344.6 69.9h0M359.6 71.7h0M343.7 75.3h0M350.3 70.9h0M356.4 77.1h0M351.6 71.5h0M344.9 67.2h0M352.3 75.4h0M344.6 74.1h0M369.3 70.3h0M340.0 76.1h0M347.5 72.4h0M353.7 73.6h0M355.8 75.8h0M356.8 74.4h0M337.3 78.6h0M340.0 77.5h0M351.5 69.4h0M350.4 77.0h0M344.0 74.2h0M345.7 70.7h0M346.4 78.3h0M354.0 73.9h0M349.5 74.5h0M351.7 74.7h0M339.9 77.1h0M345.0 65.4h0M354.1 70.0h0M349.2 73.7h0M346.5 75.8h0M348.4 73.1h0M344.4 73.1h0M343.9 74.2h0M357.8 77.4h0M352.5 69.5h0M356.1 77.1h0M362.1 66.6h0M350.1 72.9h0M356.4 70.4h0M347.8 81.8h0M355.9 67.4h0M350.1 78.6h0M346.4 76.0h0M350.6 69.2h0M346.3 77.8h0M357.0 72.0h0M356.6 71.7h0M351.5 74.0h0M342.6 75.1h0M347.7 64.9h0M345.1 71.2h0M345.1 70.8h0M345.9 65.9h0M355.3 74.3h0M351.5 73.1h0M350.4 73.2h0M343.6 69.0h0M350.4 77.4h0M351.4 79.4h0M341.9 73.1h0M346.4 78.1h0M360.0 72.3h0M354.3 73.2h0M344.1 73.7h0M343.9 79.2h0M353.5 78.0h0M352.1 65.9h0M354.7 74.3h0M335.9 74.4h0M356.0 79.7h0M344.0 76.7h0M352.0 73.4h0M348.3 75.8h0M353.4 76.2h0M347.6 69.6h0M357.8 78.4h0M346.7 73.9h0M354.8 68.1h0M352.9 82.1h0M351.6 71.7h0M362.1 74.0h0M351.3 72.6h0M351.1 68.0h0M342.4 69.1h0M355.3 73.7h0M356.8 67.2h0M346.5 78.9h0M345.3 67.8h0M345.6 72.9h0M349.9 78.4h0" stroke="#50C060" stroke-width="1.10" stroke-linecap="round" opacity="0.75" fill="none"/>
<path d="M326.5 78.9h0M322.9 67.1h0M317.6 61.5h0M326.3 77.2h0M320.4 64.9h0M323.3 72.8h0M320.8 63.3h0M321.2 66.8h0M323.6 73.4h0M322.2 67.6h0M327.5 74.5h0M326.2 74.8h0M323.3 72.3h0M314.7 59.6h0M315.4 73.5h0M324.5 71.1h0M320.4 80.6h0M318.0 59.8h0M312.4 68.2h0M323.4 74.2h0M318.9 74.7h0M319.8 65.8h0M318.1 74.4h0M324.7 63.5h0M315.1 70.7h0M330.4 63.3h0M313.9 72.4h0M322.5 66.5h0M319.9 72.8h0M311.4 69.9h0M322.9 75.3h0M325.7 69.6h0M312.9 77.7h0M323.8 66.3h0M325.1 76.0h0M319.3 56.4h0M317.7 65.7h0M315.9 69.5h0M314.7 72.2h0M329.3 63.2h0M325.1 66.9h0M322.7 69.3h0M326.3 65.9h0M323.6 65.5h0M321.1 69.9h0M325.3 60.9h0M313.4 78.0h0M321.9 79.8h0M315.0 71.2h0M323.0 80.2h0M319.7 67.4h0M323.5 69.4h0M316.3 74.4h0M310.7 64.2h0M326.7 67.1h0M318.4 72.1h0M325.5 73.0h0M315.3 66.7h0M325.1 69.3h0M316.9 75.0h0M325.6 82.5h0M314.7 65.9h0M316.6 72.0h0M317.7 76.4h0M306.9 75.5h0M316.9 68.4h0M322.8 71.2h0M315.1 78.6h0M322.8 67.2h0M321.0 63.6h0M314.0 68.3h0M321.8 70.6h0M316.2 62.0h0M311.8 79.2h0M321.8 65.4h0M325.8 73.1h0M318.0 66.5h0M325.6 71.9h0M328.0 72.1h0M317.1 66.6h0" stroke="#8452E0" stroke-width="1.00" stroke-linecap="round" opacity="0.7" fill="none"/>
<path d="M341.8 98.0h0M344.1 99.3h0M344.6 93.0h0M343.0 93.4h0M344.7 92.0h0M342.1 93.7h0M342.0 96.0h0M347.2 96.0h0M340.0 95.8h0M345.3 99.1h0M344.1 104.6h0M346.2 97.4h0M346.5 91.9h0M343.1 93.7h0M343.9 103.2h0M342.3 103.1h0M341.0 102.5h0M339.4 93.7h0M345.9 96.6h0M343.9 97.0h0M343.9 96.3h0M341.1 95.9h0M343.8 93.5h0M344.6 103.8h0M339.5 94.9h0M342.8 97.1h0M343.7 94.2h0M343.4 97.0h0M343.3 102.9h0M343.8 91.3h0M339.7 99.3h0M342.7 94.6h0M340.2 95.8h0M343.3 94.4h0M342.6 100.4h0M345.4 99.1h0M343.1 91.8h0M345.4 102.7h0M346.6 101.5h0M344.2 98.4h0M343.5 101.8h0M342.8 105.2h0M345.4 95.8h0M343.5 90.8h0M341.7 95.8h0M349.4 93.9h0M345.7 97.3h0M342.8 99.4h0M338.7 100.6h0M348.2 98.1h0M343.4 97.6h0M345.1 95.1h0M343.8 98.9h0M342.7 98.5h0M344.3 99.7h0M341.1 94.9h0M342.5 101.6h0M344.1 90.7h0M340.4 104.4h0M344.3 92.0h0" stroke="#8452E0" stroke-width="1.20" stroke-linecap="round" opacity="0.75" fill="none"/>
<path d="M314.1 63.4h0M354.9 98.9h0M323.6 52.8h0M363.6 36.4h0M357.3 68.1h0M331.7 90.9h0M338.4 39.9h0M303.4 60.4h0M339.0 92.8h0M284.3 92.2h0M340.8 96.4h0M343.9 65.1h0M337.6 69.6h0M319.0 57.3h0M332.2 49.2h0M304.4 25.3h0M338.8 72.5h0M331.9 31.9h0M344.9 50.6h0M293.7 97.6h0M303.9 114.1h0M339.3 49.4h0M288.9 43.1h0M355.9 92.7h0M334.5 18.9h0M323.3 53.2h0M338.1 57.0h0M336.0 20.8h0M318.8 94.6h0M304.6 82.2h0M370.4 75.7h0M305.7 89.9h0M297.6 68.1h0M322.9 89.8h0M350.6 64.6h0M361.3 83.6h0M321.6 36.4h0M373.0 50.3h0M337.2 57.2h0M321.7 21.3h0M327.5 57.2h0M347.2 47.6h0M302.7 34.2h0M329.3 66.0h0M342.7 50.8h0M339.4 63.5h0M359.5 58.7h0M332.5 73.6h0M351.3 37.8h0M321.7 53.4h0M292.7 91.3h0M348.8 60.5h0M388.8 90.6h0M365.4 97.8h0M345.8 25.9h0M356.8 70.1h0M309.1 61.3h0M343.2 83.7h0M333.1 47.4h0M343.4 41.7h0M328.7 78.4h0M304.8 69.0h0M295.8 37.7h0M308.5 57.8h0M342.5 58.8h0M346.0 62.3h0M326.4 71.9h0M325.8 63.3h0M348.2 46.3h0M350.1 33.3h0M326.2 18.2h0M320.7 98.3h0M336.2 90.6h0M304.3 35.6h0M338.2 80.0h0M344.6 19.7h0M338.9 58.3h0M332.1 71.5h0M325.1 19.2h0M311.3 25.1h0" stroke="#8452E0" stroke-width="0.80" stroke-linecap="round" opacity="0.6" fill="none"/>
<line x1="300" y1="105" x2="340.8" y2="104" stroke="#4a4a4a" stroke-width="0.7" stroke-dasharray="2.4,1.4" opacity="0.55"/>
<line x1="340.8" y1="19.4" x2="340.8" y2="105" stroke="#4a4a4a" stroke-width="0.7" stroke-dasharray="2.4,1.4" opacity="0.55"/>
<path d="M296.8,0.5 L303.5,13.4 H298.9 V118.4 H303.5 L296.8,131.9 L290.1,118.4 H294.8 V13.4 H290.1Z" fill="#808080"/>
<text x="192.8" y="122.8" font-size="7.2" font-weight="bold" text-anchor="start" fill="#111" >1500 µm</text>
<path d="M202.7,125.4H212.5" stroke="#111" stroke-width="1.1"/>
<text x="346.2" y="140.6" font-size="13.5" font-weight="bold" text-anchor="start" fill="#000" >Osim</text>
<line x1="154.8" y1="189.8" x2="135.2" y2="229.0" stroke="#dcdcdc" stroke-width="0.4" opacity="1"/>
<line x1="162.6" y1="189.8" x2="147.5" y2="229.0" stroke="#dcdcdc" stroke-width="0.4" opacity="1"/>
<line x1="170.5" y1="189.8" x2="159.7" y2="229.0" stroke="#dcdcdc" stroke-width="0.4" opacity="1"/>
<line x1="178.3" y1="189.8" x2="172.0" y2="229.0" stroke="#dcdcdc" stroke-width="0.4" opacity="1"/>
<line x1="186.1" y1="189.8" x2="184.3" y2="229.0" stroke="#dcdcdc" stroke-width="0.4" opacity="1"/>
<line x1="193.9" y1="189.8" x2="196.6" y2="229.0" stroke="#dcdcdc" stroke-width="0.4" opacity="1"/>
<line x1="201.7" y1="189.8" x2="208.9" y2="229.0" stroke="#dcdcdc" stroke-width="0.4" opacity="1"/>
<line x1="209.6" y1="189.8" x2="221.1" y2="229.0" stroke="#dcdcdc" stroke-width="0.4" opacity="1"/>
<line x1="217.4" y1="189.8" x2="233.4" y2="229.0" stroke="#dcdcdc" stroke-width="0.4" opacity="1"/>
<line x1="142.2" y1="197.6" x2="229.3" y2="197.6" stroke="#dcdcdc" stroke-width="0.4" opacity="1"/>
<line x1="137.4" y1="205.5" x2="233.4" y2="205.5" stroke="#dcdcdc" stroke-width="0.4" opacity="1"/>
<line x1="132.5" y1="213.3" x2="237.5" y2="213.3" stroke="#dcdcdc" stroke-width="0.4" opacity="1"/>
<line x1="127.7" y1="221.2" x2="241.6" y2="221.2" stroke="#dcdcdc" stroke-width="0.4" opacity="1"/>
<line x1="231.0" y1="144.8" x2="229.3" y2="197.6" stroke="#e2e2e2" stroke-width="0.4" opacity="1"/>
<line x1="236.8" y1="146.8" x2="233.4" y2="205.5" stroke="#e2e2e2" stroke-width="0.4" opacity="1"/>
<line x1="242.5" y1="148.9" x2="237.5" y2="213.3" stroke="#e2e2e2" stroke-width="0.4" opacity="1"/>
<line x1="248.3" y1="150.9" x2="241.6" y2="221.2" stroke="#e2e2e2" stroke-width="0.4" opacity="1"/>
<line x1="225.2" y1="149.5" x2="252.9" y2="163.8" stroke="#e2e2e2" stroke-width="0.4" opacity="1"/>
<line x1="225.2" y1="156.2" x2="251.7" y2="174.6" stroke="#e2e2e2" stroke-width="0.4" opacity="1"/>
<line x1="225.2" y1="162.9" x2="250.5" y2="185.5" stroke="#e2e2e2" stroke-width="0.4" opacity="1"/>
<line x1="225.2" y1="169.7" x2="249.3" y2="196.4" stroke="#e2e2e2" stroke-width="0.4" opacity="1"/>
<line x1="225.2" y1="176.4" x2="248.1" y2="207.3" stroke="#e2e2e2" stroke-width="0.4" opacity="1"/>
<line x1="225.2" y1="183.1" x2="246.9" y2="218.1" stroke="#e2e2e2" stroke-width="0.4" opacity="1"/>
<line x1="138.6" y1="145.2" x2="142.2" y2="197.6" stroke="#e6e6e6" stroke-width="0.4" opacity="1"/>
<line x1="131.3" y1="147.1" x2="137.4" y2="205.5" stroke="#e6e6e6" stroke-width="0.4" opacity="1"/>
<line x1="124.1" y1="149.1" x2="132.5" y2="213.3" stroke="#e6e6e6" stroke-width="0.4" opacity="1"/>
<line x1="116.8" y1="151.0" x2="127.7" y2="221.2" stroke="#e6e6e6" stroke-width="0.4" opacity="1"/>
<line x1="146.0" y1="149.9" x2="111.5" y2="163.8" stroke="#e6e6e6" stroke-width="0.4" opacity="1"/>
<line x1="146.1" y1="156.6" x2="113.4" y2="174.6" stroke="#e6e6e6" stroke-width="0.4" opacity="1"/>
<line x1="146.3" y1="163.2" x2="115.3" y2="185.5" stroke="#e6e6e6" stroke-width="0.4" opacity="1"/>
<line x1="146.5" y1="169.9" x2="117.2" y2="196.4" stroke="#e6e6e6" stroke-width="0.4" opacity="1"/>
<line x1="146.7" y1="176.5" x2="119.1" y2="207.3" stroke="#e6e6e6" stroke-width="0.4" opacity="1"/>
<line x1="146.8" y1="183.2" x2="121.0" y2="218.1" stroke="#e6e6e6" stroke-width="0.4" opacity="1"/>
<path d="M136.1,160.9 C138.3,158.9 143.4,156.7 148.2,154.9 C153.0,153.1 159.8,151.1 165.0,150.0 C170.2,148.9 174.3,148.3 179.5,148.1 C184.7,147.9 191.1,148.3 196.3,148.8 C201.5,149.3 206.4,149.8 210.8,151.2 C215.2,152.6 219.4,155.1 222.8,157.3 C226.2,159.5 228.9,161.7 231.3,164.5 C233.7,167.3 236.7,171.5 237.3,174.1 C237.9,176.7 237.3,178.5 234.9,180.1 C232.5,181.7 226.8,182.2 222.8,183.8 C218.8,185.4 214.4,187.6 210.8,189.8 C207.2,192.0 204.4,194.4 201.2,197.0 C198.0,199.6 195.1,203.3 191.5,205.4 C187.9,207.5 183.5,209.2 179.5,209.8 C175.5,210.4 170.8,210.1 167.4,209.0 C164.0,207.9 161.6,205.4 159.0,203.0 C156.4,200.6 154.8,197.4 151.8,194.6 C148.8,191.8 143.5,189.2 140.9,186.2 C138.3,183.2 137.1,179.7 136.1,176.5 C135.1,173.3 134.9,169.5 134.9,166.9 C134.9,164.3 133.9,162.9 136.1,160.9Z" fill="#d6d6d6" filter="url(#bl1)"/>
<path d="M136.1,160.9 C138.3,158.9 143.4,156.7 148.2,154.9 C153.0,153.1 159.8,151.1 165.0,150.0 C170.2,148.9 174.3,148.3 179.5,148.1 C184.7,147.9 191.1,148.3 196.3,148.8 C201.5,149.3 206.4,149.8 210.8,151.2 C215.2,152.6 219.4,155.1 222.8,157.3 C226.2,159.5 228.9,161.7 231.3,164.5 C233.7,167.3 236.7,171.5 237.3,174.1 C237.9,176.7 237.3,178.5 234.9,180.1 C232.5,181.7 226.8,182.2 222.8,183.8 C218.8,185.4 214.4,187.6 210.8,189.8 C207.2,192.0 204.4,194.4 201.2,197.0 C198.0,199.6 195.1,203.3 191.5,205.4 C187.9,207.5 183.5,209.2 179.5,209.8 C175.5,210.4 170.8,210.1 167.4,209.0 C164.0,207.9 161.6,205.4 159.0,203.0 C156.4,200.6 154.8,197.4 151.8,194.6 C148.8,191.8 143.5,189.2 140.9,186.2 C138.3,183.2 137.1,179.7 136.1,176.5 C135.1,173.3 134.9,169.5 134.9,166.9 C134.9,164.3 133.9,162.9 136.1,160.9Z" fill="none" stroke="#bdbdbd" stroke-width="1.6" filter="url(#bl1)" opacity="1"/>
<ellipse cx="150" cy="172" rx="10" ry="14" fill="#c6c6c6" filter="url(#bl2)"/>
<ellipse cx="152" cy="181" rx="3" ry="3" fill="#9a9a9a" filter="url(#bl2)"/>
<ellipse cx="172" cy="196" rx="10" ry="8" fill="#c8c8c8" filter="url(#bl2)"/>
<ellipse cx="205" cy="165" rx="14" ry="8" fill="#dcdcdc" filter="url(#bl2)"/>
<ellipse cx="185" cy="160" rx="10" ry="6" fill="#d0d0d0" filter="url(#bl2)"/>
<ellipse cx="225" cy="172" rx="6" ry="5" fill="#c4c4c4" filter="url(#bl2)"/>
<path d="M187.5 181.5h0M175.2 163.1h0M167.4 184.6h0M163.2 174.6h0M176.1 193.4h0M164.9 169.4h0M213.7 189.1h0M200.7 170.0h0M191.0 172.6h0M211.5 180.0h0M147.7 189.5h0M217.9 175.8h0M204.6 172.6h0M164.3 199.6h0M202.6 185.9h0M208.3 177.3h0M181.3 181.5h0M178.6 205.2h0M219.0 168.9h0M230.7 183.0h0M222.2 164.4h0M215.5 198.3h0M182.5 180.8h0" stroke="#666" stroke-width="1.80" stroke-linecap="round" opacity="0.22" fill="none"/>
<path d="M200.2 186.7h0M185.4 192.4h0M175.9 175.1h0M197.2 155.6h0M229.4 168.3h0M148.6 173.0h0M187.5 164.3h0M158.3 196.1h0M153.8 164.5h0M161.8 159.2h0M154.7 163.5h0M168.5 158.0h0M150.2 171.6h0M168.9 172.8h0M170.6 168.0h0M215.8 179.6h0M189.8 173.0h0M212.8 158.5h0M212.0 158.8h0M164.3 153.2h0M166.9 187.7h0M162.4 170.6h0M179.4 151.5h0" stroke="#666" stroke-width="1.40" stroke-linecap="round" opacity="0.22" fill="none"/>
<path d="M150.4 173.8h0M179.5 181.4h0M175.5 173.9h0M205.0 194.6h0M215.7 187.3h0M158.5 168.6h0M210.9 172.6h0M216.9 182.8h0M203.9 194.5h0M150.8 159.2h0M211.0 181.1h0M224.5 191.9h0M224.1 190.0h0M206.5 196.1h0M204.2 190.0h0M219.9 195.7h0M163.3 181.4h0M202.3 197.2h0M177.5 183.1h0M210.4 183.5h0M169.1 167.7h0M147.7 185.1h0M209.6 187.5h0M175.6 202.6h0M144.3 167.1h0" stroke="#666" stroke-width="1.20" stroke-linecap="round" opacity="0.22" fill="none"/>
<path d="M173.2 163.4h0M143.8 191.0h0M199.3 169.2h0M200.8 156.4h0M210.3 169.1h0M223.8 176.2h0M204.5 202.1h0M188.8 203.8h0M182.5 166.0h0" stroke="#666" stroke-width="0.60" stroke-linecap="round" opacity="0.22" fill="none"/>
<path d="M165.4 176.1h0M218.3 163.5h0M208.1 156.8h0M170.9 182.1h0M178.8 201.6h0M179.6 153.9h0M169.4 163.9h0M199.7 188.2h0M142.2 184.3h0M213.1 157.2h0M152.9 186.9h0M193.0 156.6h0M214.4 199.3h0M209.6 199.4h0M213.1 188.1h0M219.6 158.3h0M145.3 181.9h0M191.6 174.9h0M189.3 203.6h0M144.9 189.0h0M226.9 179.8h0M206.5 157.4h0M139.8 174.2h0M233.5 181.2h0" stroke="#666" stroke-width="1.00" stroke-linecap="round" opacity="0.22" fill="none"/>
<path d="M149.0 183.2h0M178.4 164.0h0M207.1 168.5h0M164.2 154.9h0M155.9 174.4h0M146.4 168.5h0M184.0 165.6h0M195.9 169.4h0M148.0 170.9h0M193.4 202.3h0M139.8 173.3h0M182.0 194.5h0M159.4 174.6h0M161.8 188.7h0M209.5 185.3h0" stroke="#666" stroke-width="2.00" stroke-linecap="round" opacity="0.22" fill="none"/>
<path d="M206.7 175.7h0M180.2 195.5h0M149.9 181.4h0M164.5 193.8h0M153.9 160.8h0M174.6 165.2h0M182.2 179.5h0M166.5 155.6h0M201.1 178.6h0M219.7 188.6h0M173.7 169.2h0M167.3 154.7h0M163.1 175.1h0M149.9 169.4h0M182.7 184.5h0M171.5 183.5h0M169.6 167.1h0M191.7 197.5h0M189.6 182.2h0M226.5 174.6h0M194.4 204.9h0M145.2 188.9h0M169.1 194.6h0M196.5 173.7h0M200.6 198.5h0" stroke="#666" stroke-width="0.80" stroke-linecap="round" opacity="0.22" fill="none"/>
<path d="M231.9 179.4h0M223.0 170.1h0M155.0 168.8h0M190.2 150.1h0M183.7 181.0h0M152.0 192.6h0M172.9 199.4h0M195.3 166.8h0M154.9 165.2h0M144.1 180.4h0M160.7 189.7h0M187.8 205.0h0M153.6 172.5h0M150.3 184.3h0M183.4 176.5h0M159.4 185.3h0" stroke="#666" stroke-width="1.60" stroke-linecap="round" opacity="0.22" fill="none"/>
<path d="M169.8 181.2h0M172.7 180.4h0M173.4 181.9h0M168.6 180.3h0M170.6 187.0h0M173.0 182.5h0M168.7 187.4h0M170.3 182.5h0M169.9 185.9h0M171.5 181.3h0M171.5 180.0h0M168.3 182.1h0M163.7 185.5h0M176.1 179.7h0M170.6 178.5h0M171.4 183.0h0M172.9 179.1h0M169.5 180.9h0M170.4 188.3h0M170.5 182.4h0M169.7 184.5h0M177.5 185.5h0M174.9 179.8h0M173.7 182.6h0M174.2 185.2h0M172.7 178.2h0M171.3 181.2h0M172.1 182.6h0M173.7 178.4h0M169.1 182.3h0M171.8 181.5h0M170.9 182.6h0M173.7 182.2h0M171.6 177.9h0M164.3 178.8h0M171.9 176.6h0M172.0 182.3h0M171.0 180.6h0M169.9 184.6h0M171.9 182.4h0M169.8 183.0h0M174.0 182.5h0M170.1 179.5h0M171.3 180.2h0M167.3 184.7h0M169.4 177.3h0M169.2 187.2h0M170.7 179.1h0M168.2 184.3h0M172.0 183.0h0M170.5 183.7h0M174.9 183.7h0M170.6 178.9h0M172.1 186.5h0M172.7 179.3h0M171.5 185.8h0M169.4 183.8h0M174.1 186.7h0M166.9 178.0h0M172.0 184.3h0M170.1 182.4h0M170.0 185.6h0M165.3 183.2h0M167.7 180.8h0M167.1 180.2h0M170.9 182.6h0M175.6 181.9h0M171.9 183.4h0M171.7 186.3h0M171.4 182.9h0" stroke="#8452E0" stroke-width="1.30" stroke-linecap="round" opacity="0.85" fill="none"/>
<path d="M164.7 161.0h0M164.9 163.4h0M165.0 161.2h0M164.9 162.9h0M163.8 163.3h0M163.6 162.7h0M169.7 161.6h0M164.8 158.1h0M166.8 161.0h0M167.2 159.4h0M166.3 165.4h0M166.0 160.2h0M161.8 161.0h0M166.6 162.5h0M162.2 158.5h0M162.6 158.5h0M164.3 161.7h0M169.7 161.5h0M168.6 156.9h0M168.8 163.0h0M166.1 163.0h0M166.5 165.7h0M167.0 156.7h0M160.7 165.0h0M164.8 164.3h0" stroke="#8452E0" stroke-width="1.10" stroke-linecap="round" opacity="0.8" fill="none"/>
<path d="M163.3 184.1h0M163.3 186.9h0M164.1 184.2h0M164.6 187.8h0M162.4 182.7h0M160.9 185.1h0M163.8 183.9h0M162.9 185.6h0M163.8 187.7h0M165.0 187.3h0M165.5 183.1h0M164.7 187.1h0M162.3 184.0h0M164.5 186.2h0M161.9 184.4h0M166.1 188.5h0M163.9 190.0h0M162.5 185.5h0M165.2 185.0h0M162.1 187.7h0M166.2 178.5h0M164.0 182.3h0M163.4 181.8h0M167.7 184.0h0M163.9 183.9h0M162.3 184.7h0M164.1 191.2h0M164.2 190.6h0M162.2 186.2h0M163.2 181.4h0" stroke="#E0794A" stroke-width="1.30" stroke-linecap="round" opacity="0.85" fill="none"/>
<path d="M201.4 155.0h0M194.5 153.0h0M192.9 151.9h0M196.0 154.4h0M193.7 156.7h0M191.6 156.9h0M193.7 157.8h0M193.2 156.2h0M195.0 159.8h0M192.6 159.8h0M192.1 155.3h0M194.3 156.6h0M189.1 152.1h0M193.6 159.7h0M192.6 162.0h0M190.4 156.3h0M195.1 156.1h0M194.5 159.7h0M192.4 158.3h0M196.1 155.1h0M189.4 151.3h0M192.3 151.8h0M194.9 152.8h0M198.9 158.3h0M191.4 154.9h0M197.0 158.7h0M192.0 160.1h0M193.1 164.8h0M192.9 158.4h0M195.1 154.2h0M193.7 160.6h0M195.0 155.8h0M194.9 162.9h0M195.8 157.9h0M194.7 149.8h0M194.3 154.1h0M195.4 153.6h0M194.9 151.8h0M195.8 153.1h0M193.9 158.3h0" stroke="#E0794A" stroke-width="1.30" stroke-linecap="round" opacity="0.85" fill="none"/>
<path d="M212.4 156.0h0M215.1 159.1h0M209.4 154.4h0M214.3 157.7h0M212.1 156.2h0M212.6 160.0h0M212.6 153.9h0M209.9 153.7h0M215.6 155.3h0M216.9 157.1h0M213.8 157.1h0M214.6 157.6h0M211.1 155.0h0M211.9 156.2h0M212.5 153.8h0M211.6 159.2h0M217.2 154.5h0M213.8 155.9h0M211.3 157.3h0M212.9 159.0h0" stroke="#E0794A" stroke-width="1.30" stroke-linecap="round" opacity="0.85" fill="none"/>
<path d="M212.1 178.2h0M201.3 178.7h0M213.4 177.2h0M213.6 180.7h0M204.4 178.5h0M211.6 180.9h0M211.0 179.0h0M209.3 178.3h0M210.5 176.4h0M212.7 178.2h0M212.3 177.7h0M211.9 179.3h0M213.6 180.1h0M213.7 178.6h0M210.3 178.4h0M206.2 178.7h0M214.3 180.9h0M207.6 179.7h0M213.1 175.6h0M211.7 179.8h0M213.1 179.6h0M204.5 174.0h0M217.4 178.0h0M214.9 182.1h0M210.8 176.2h0M215.2 178.9h0M212.3 180.2h0M213.8 181.5h0M205.6 175.5h0M211.0 179.0h0M213.2 178.7h0M209.9 184.0h0M215.3 181.9h0M214.1 177.1h0M210.2 178.8h0M206.7 176.9h0M211.1 176.0h0M212.4 180.2h0M209.7 178.2h0M212.6 180.2h0M211.8 176.0h0M204.9 184.0h0M208.2 178.1h0M204.2 177.0h0M208.0 181.0h0" stroke="#E0794A" stroke-width="1.30" stroke-linecap="round" opacity="0.85" fill="none"/>
<path d="M183.8 176.2h0M188.2 178.0h0M187.5 178.1h0M185.9 179.5h0M191.4 179.3h0M187.9 181.5h0M190.0 177.0h0M187.9 177.8h0M188.9 181.4h0M187.6 178.7h0M189.2 176.7h0M188.1 180.2h0M191.2 175.3h0M190.4 178.4h0M191.5 180.2h0M192.9 179.6h0M188.2 177.4h0M186.2 180.1h0M190.0 180.6h0M189.7 176.1h0" stroke="#E0794A" stroke-width="1.30" stroke-linecap="round" opacity="0.85" fill="none"/>
<path d="M183.3 200.2h0M184.7 202.0h0M187.8 201.1h0M179.2 198.8h0M179.0 199.2h0M181.3 201.0h0M183.8 202.6h0M187.0 199.8h0M186.6 200.6h0M185.4 203.0h0M181.5 200.5h0M188.1 199.3h0M184.8 200.8h0M183.3 198.3h0M182.6 198.9h0M187.0 201.0h0M186.0 198.5h0M185.5 200.9h0M186.9 199.3h0M186.3 203.0h0M188.8 199.0h0M181.5 198.0h0M186.7 201.7h0M185.1 199.1h0M187.4 203.4h0M184.2 200.4h0M187.2 201.5h0M187.6 199.9h0M185.1 200.0h0M182.9 200.1h0M183.6 201.5h0M183.6 200.7h0M182.3 198.4h0M187.8 198.9h0M188.8 202.3h0M178.6 199.5h0M183.3 200.6h0M183.9 199.5h0M187.4 200.4h0M186.7 199.4h0M182.6 203.0h0M183.6 198.7h0M183.9 202.5h0M183.9 199.3h0M185.9 202.3h0" stroke="#E0794A" stroke-width="1.40" stroke-linecap="round" opacity="0.85" fill="none"/>
<path d="M199.4 187.5h0M198.9 192.0h0M199.4 190.6h0M199.6 188.6h0M194.0 188.3h0M200.2 187.5h0M198.8 186.0h0M195.6 188.2h0M198.1 187.9h0M199.5 187.3h0M197.8 190.7h0M196.7 187.3h0M199.1 186.3h0M197.2 189.3h0M202.8 188.2h0M209.6 189.2h0M203.7 186.8h0M203.2 190.5h0M198.9 190.7h0M197.6 186.3h0" stroke="#8452E0" stroke-width="1.10" stroke-linecap="round" opacity="0.8" fill="none"/>
<path d="M183.9 156.6h0M185.3 155.8h0M184.2 153.3h0M183.9 162.1h0M183.5 159.9h0M186.2 155.8h0M181.5 159.2h0M184.6 158.2h0M182.1 162.6h0M181.7 158.2h0M183.9 161.1h0M183.1 156.6h0M188.0 156.5h0M185.6 158.6h0M183.1 158.9h0M183.5 159.9h0M179.0 158.9h0M184.1 156.2h0M183.2 165.9h0M187.7 160.9h0M184.5 158.1h0M186.7 157.7h0M182.4 161.0h0M182.1 156.7h0M186.9 154.3h0" stroke="#50C060" stroke-width="1.00" stroke-linecap="round" opacity="0.7" fill="none"/>
<path d="M188.8 173.4h0M195.2 154.9h0M185.6 168.1h0M228.0 183.8h0M175.2 182.2h0M203.0 170.7h0M185.3 168.8h0M159.6 164.6h0M208.6 188.9h0M226.7 167.6h0M202.2 143.8h0M184.8 157.2h0M206.3 152.6h0M169.5 159.1h0M197.9 181.8h0M171.9 193.1h0M193.3 162.2h0M197.0 171.8h0M206.5 176.0h0M233.3 185.7h0M177.5 181.2h0M205.1 160.3h0M175.3 162.6h0M141.4 179.5h0M185.8 186.4h0M179.1 172.9h0M204.4 183.3h0M196.4 159.8h0M233.6 182.2h0M217.0 191.0h0M217.8 176.9h0M199.4 179.4h0M160.4 181.5h0M170.9 176.9h0M170.2 180.4h0M180.5 201.1h0M193.9 178.0h0M172.3 168.6h0M189.0 168.6h0M181.5 161.8h0M205.2 167.5h0M174.0 176.3h0M174.1 170.0h0M180.0 161.2h0M185.7 162.4h0M165.4 176.1h0M184.3 154.9h0M182.4 174.2h0M198.6 176.4h0M195.1 179.0h0M180.4 162.7h0M202.2 167.2h0M190.3 179.6h0M208.6 186.3h0M176.6 167.7h0M201.1 155.3h0M165.3 179.1h0M178.1 161.2h0M206.0 178.2h0M208.2 168.1h0M184.5 168.0h0M196.0 148.3h0M176.5 180.3h0M174.8 171.3h0M192.6 178.1h0M180.8 158.8h0M239.3 163.6h0M223.8 151.5h0M192.3 169.7h0M227.5 195.8h0M209.4 160.2h0M174.4 163.2h0M180.0 175.1h0M174.7 169.1h0M219.1 188.8h0M153.5 160.9h0M182.8 187.1h0M183.7 194.3h0M197.4 188.8h0M173.3 168.4h0M210.2 178.7h0M153.5 168.8h0M193.7 179.4h0M177.7 192.3h0M193.2 188.9h0M198.1 173.0h0M183.9 158.4h0M207.2 180.8h0M208.5 167.6h0M170.4 167.6h0" stroke="#8452E0" stroke-width="0.80" stroke-linecap="round" opacity="0.5" fill="none"/>
<path d="M200.5 167.9h0M219.6 159.2h0M198.0 174.7h0M218.5 189.5h0M212.9 159.8h0M189.8 160.3h0M206.2 170.5h0M204.2 162.1h0M202.4 167.3h0M213.9 168.8h0M193.2 156.7h0M227.0 167.2h0M202.6 167.8h0M221.8 165.0h0M207.8 165.7h0M213.7 158.2h0M208.2 178.0h0M222.6 174.0h0M209.5 183.3h0M215.6 181.6h0M187.5 157.4h0M216.9 165.4h0M198.8 158.8h0M227.0 156.5h0M206.7 154.5h0M202.6 189.8h0M241.0 163.2h0M190.3 183.8h0M192.6 150.7h0M210.3 157.6h0M183.9 178.9h0M194.5 157.7h0M207.7 166.2h0M221.7 168.9h0M228.6 179.0h0M231.4 178.9h0M206.3 173.3h0M205.5 153.0h0M187.9 175.2h0M170.5 160.0h0" stroke="#E0794A" stroke-width="0.80" stroke-linecap="round" opacity="0.5" fill="none"/>
<line x1="145.8" y1="143.3" x2="225.2" y2="142.8" stroke="#6a6a6a" stroke-width="0.5" stroke-dasharray="1.6,0.9" opacity="1"/>
<line x1="145.8" y1="143.3" x2="109.6" y2="152.9" stroke="#6a6a6a" stroke-width="0.5" stroke-dasharray="1.6,0.9" opacity="1"/>
<line x1="225.2" y1="142.8" x2="254.1" y2="152.9" stroke="#6a6a6a" stroke-width="0.5" stroke-dasharray="1.6,0.9" opacity="1"/>
<line x1="109.6" y1="152.9" x2="254.1" y2="152.9" stroke="#6a6a6a" stroke-width="0.5" stroke-dasharray="1.6,0.9" opacity="1"/>
<line x1="109.6" y1="152.9" x2="122.9" y2="229" stroke="#6a6a6a" stroke-width="0.5" stroke-dasharray="1.6,0.9" opacity="1"/>
<line x1="254.1" y1="152.9" x2="245.7" y2="229" stroke="#6a6a6a" stroke-width="0.5" stroke-dasharray="1.6,0.9" opacity="1"/>
<line x1="122.9" y1="229" x2="245.7" y2="229" stroke="#6a6a6a" stroke-width="0.5" stroke-dasharray="1.6,0.9" opacity="1"/>
<line x1="145.8" y1="143.3" x2="147" y2="189.8" stroke="#6a6a6a" stroke-width="0.5" stroke-dasharray="1.6,0.9" opacity="1"/>
<line x1="225.2" y1="142.8" x2="225.2" y2="189.8" stroke="#6a6a6a" stroke-width="0.5" stroke-dasharray="1.6,0.9" opacity="1"/>
<line x1="147" y1="189.8" x2="225.2" y2="189.8" stroke="#6a6a6a" stroke-width="0.5" stroke-dasharray="1.6,0.9" opacity="1"/>
<line x1="147" y1="189.8" x2="122.9" y2="229" stroke="#6a6a6a" stroke-width="0.5" stroke-dasharray="1.6,0.9" opacity="1"/>
<line x1="225.2" y1="189.8" x2="245.7" y2="229" stroke="#6a6a6a" stroke-width="0.5" stroke-dasharray="1.6,0.9" opacity="1"/>
<text x="87.9" y="224.6" font-size="7.2" font-weight="bold" text-anchor="start" fill="#111" >1500 µm</text>
<path d="M97.8,227.2H107.6" stroke="#111" stroke-width="1.1"/>
<text x="265.2" y="212.3" font-size="13.5" font-weight="bold" text-anchor="start" fill="#000" >Combo</text>
<circle cx="329.9" cy="163" r="3.5" fill="#E0794A"/>
<text x="336.5" y="168.5" font-size="10.4" text-anchor="start" fill="#111" >EGFR-C797S</text>
<circle cx="329.9" cy="176.5" r="3.5" fill="#8452E0"/>
<text x="336.5" y="182.0" font-size="10.4" text-anchor="start" fill="#111" >PIK3CA-E545K</text>
<circle cx="329.9" cy="190.4" r="3.5" fill="#A9D18E"/>
<text x="336.5" y="195.9" font-size="10.4" text-anchor="start" fill="#111" >KRAS-G12D</text>
<circle cx="329.9" cy="176.5" r="3.5" fill="#7030A0"/>
<text x="3" y="252" font-size="11.5" font-weight="bold" text-anchor="start" fill="#000" >C</text>
<text x="86.9" y="255.8" font-size="13.5" font-weight="bold" text-anchor="start" fill="#000" >Control</text>
<line x1="191.9" y1="260.5" x2="179.9" y2="331.7" stroke="#e2e2e2" stroke-width="0.4" opacity="1"/>
<line x1="197.5" y1="260.5" x2="191.5" y2="339.1" stroke="#e2e2e2" stroke-width="0.4" opacity="1"/>
<line x1="183.4" y1="271.1" x2="203.0" y2="274.8" stroke="#e2e2e2" stroke-width="0.4" opacity="1"/>
<line x1="180.4" y1="281.8" x2="203.0" y2="289.2" stroke="#e2e2e2" stroke-width="0.4" opacity="1"/>
<line x1="177.4" y1="292.4" x2="203.0" y2="303.5" stroke="#e2e2e2" stroke-width="0.4" opacity="1"/>
<line x1="174.4" y1="303.0" x2="203.0" y2="317.8" stroke="#e2e2e2" stroke-width="0.4" opacity="1"/>
<line x1="171.4" y1="313.7" x2="203.0" y2="332.2" stroke="#e2e2e2" stroke-width="0.4" opacity="1"/>
<line x1="79.8" y1="325.6" x2="64.5" y2="378.3" stroke="#e0e0e0" stroke-width="0.4" opacity="1"/>
<line x1="89.7" y1="325.4" x2="76.9" y2="378.1" stroke="#e0e0e0" stroke-width="0.4" opacity="1"/>
<line x1="99.5" y1="325.3" x2="89.4" y2="378.0" stroke="#e0e0e0" stroke-width="0.4" opacity="1"/>
<line x1="109.4" y1="325.1" x2="101.9" y2="377.8" stroke="#e0e0e0" stroke-width="0.4" opacity="1"/>
<line x1="119.2" y1="325.0" x2="114.3" y2="377.7" stroke="#e0e0e0" stroke-width="0.4" opacity="1"/>
<line x1="129.0" y1="324.9" x2="126.8" y2="377.6" stroke="#e0e0e0" stroke-width="0.4" opacity="1"/>
<line x1="138.9" y1="324.7" x2="139.3" y2="377.4" stroke="#e0e0e0" stroke-width="0.4" opacity="1"/>
<line x1="148.7" y1="324.6" x2="151.8" y2="377.3" stroke="#e0e0e0" stroke-width="0.4" opacity="1"/>
<line x1="158.6" y1="324.4" x2="164.2" y2="377.1" stroke="#e0e0e0" stroke-width="0.4" opacity="1"/>
<line x1="64.0" y1="343.3" x2="171.2" y2="341.9" stroke="#e0e0e0" stroke-width="0.4" opacity="1"/>
<line x1="58.0" y1="360.8" x2="173.9" y2="359.4" stroke="#e0e0e0" stroke-width="0.4" opacity="1"/>
<line x1="52.8" y1="260.5" x2="79.8" y2="325.6" stroke="#ececec" stroke-width="0.4" opacity="1"/>
<line x1="67.7" y1="260.5" x2="89.7" y2="325.4" stroke="#ececec" stroke-width="0.4" opacity="1"/>
<line x1="82.5" y1="260.5" x2="99.5" y2="325.3" stroke="#ececec" stroke-width="0.4" opacity="1"/>
<line x1="97.4" y1="260.5" x2="109.4" y2="325.1" stroke="#ececec" stroke-width="0.4" opacity="1"/>
<line x1="112.2" y1="260.5" x2="119.2" y2="325.0" stroke="#ececec" stroke-width="0.4" opacity="1"/>
<line x1="127.0" y1="260.5" x2="129.0" y2="324.9" stroke="#ececec" stroke-width="0.4" opacity="1"/>
<line x1="141.9" y1="260.5" x2="138.9" y2="324.7" stroke="#ececec" stroke-width="0.4" opacity="1"/>
<line x1="156.7" y1="260.5" x2="148.7" y2="324.6" stroke="#ececec" stroke-width="0.4" opacity="1"/>
<line x1="171.6" y1="260.5" x2="158.6" y2="324.4" stroke="#ececec" stroke-width="0.4" opacity="1"/>
<line x1="46.0" y1="276.8" x2="181.9" y2="276.4" stroke="#ececec" stroke-width="0.4" opacity="1"/>
<line x1="54.0" y1="293.1" x2="177.4" y2="292.4" stroke="#ececec" stroke-width="0.4" opacity="1"/>
<line x1="62.0" y1="309.4" x2="172.9" y2="308.4" stroke="#ececec" stroke-width="0.4" opacity="1"/>
<path d="M45.0,318.8 C45.2,314.9 45.9,311.6 47.7,309.0 C49.5,306.4 53.7,305.5 56.0,303.0 C58.3,300.5 58.4,297.2 61.6,293.8 C64.8,290.4 70.4,285.5 75.5,282.7 C80.6,279.9 85.6,278.3 92.1,277.2 C98.6,276.1 106.9,275.9 114.3,275.8 C121.7,275.7 130.0,275.7 136.5,276.6 C143.0,277.5 148.5,279.0 153.1,281.4 C157.7,283.8 161.4,287.1 164.2,291.0 C167.0,294.9 169.1,300.4 169.8,305.0 C170.5,309.6 169.8,313.7 168.4,318.8 C167.0,323.9 164.5,330.3 161.5,335.4 C158.5,340.5 155.5,345.6 150.4,349.3 C145.3,353.0 137.9,356.0 131.0,357.6 C124.1,359.2 116.2,359.0 108.8,359.0 C101.4,359.0 93.5,358.5 86.6,357.6 C79.7,356.7 72.8,355.8 67.2,353.5 C61.7,351.2 56.8,347.3 53.3,343.8 C49.8,340.3 47.8,336.9 46.4,332.7 C45.0,328.5 44.8,322.8 45.0,318.8Z" fill="#dadada" filter="url(#bl1)"/>
<path d="M45.0,318.8 C45.2,314.9 45.9,311.6 47.7,309.0 C49.5,306.4 53.7,305.5 56.0,303.0 C58.3,300.5 58.4,297.2 61.6,293.8 C64.8,290.4 70.4,285.5 75.5,282.7 C80.6,279.9 85.6,278.3 92.1,277.2 C98.6,276.1 106.9,275.9 114.3,275.8 C121.7,275.7 130.0,275.7 136.5,276.6 C143.0,277.5 148.5,279.0 153.1,281.4 C157.7,283.8 161.4,287.1 164.2,291.0 C167.0,294.9 169.1,300.4 169.8,305.0 C170.5,309.6 169.8,313.7 168.4,318.8 C167.0,323.9 164.5,330.3 161.5,335.4 C158.5,340.5 155.5,345.6 150.4,349.3 C145.3,353.0 137.9,356.0 131.0,357.6 C124.1,359.2 116.2,359.0 108.8,359.0 C101.4,359.0 93.5,358.5 86.6,357.6 C79.7,356.7 72.8,355.8 67.2,353.5 C61.7,351.2 56.8,347.3 53.3,343.8 C49.8,340.3 47.8,336.9 46.4,332.7 C45.0,328.5 44.8,322.8 45.0,318.8Z" fill="none" stroke="#c4c4c4" stroke-width="3" filter="url(#bl2)" opacity="1"/>
<path d="M70,325 C72,305 90,290 115,288 C140,288 158,300 158,318 C156,336 140,348 112,350 C88,350 72,340 70,325Z" fill="#dfdfdf" filter="url(#bl3)"/>
<ellipse cx="78" cy="314" rx="5" ry="4" fill="#c2c2c2" filter="url(#bl1)"/>
<ellipse cx="92" cy="333" rx="6" ry="3.5" fill="#c6c6c6" filter="url(#bl1)"/>
<ellipse cx="100" cy="348" rx="9" ry="3" fill="#c8c8c8" filter="url(#bl1)"/>
<ellipse cx="120" cy="332" rx="8" ry="4" fill="#d0d0d0" filter="url(#bl1)"/>
<ellipse cx="140" cy="300" rx="6" ry="3" fill="#d2d2d2" filter="url(#bl1)"/>
<ellipse cx="101" cy="300" rx="5" ry="3" fill="#cccccc" filter="url(#bl1)"/>
<ellipse cx="150" cy="344" rx="7" ry="3" fill="#cacaca" filter="url(#bl1)"/>
<ellipse cx="85" cy="290" rx="10" ry="3" fill="#d0d0d0" filter="url(#bl1)"/>
<path d="M108.9 321.0h0M150.6 309.8h0M92.0 330.3h0M121.8 308.5h0M88.2 316.2h0M79.8 350.8h0M65.6 298.3h0M117.7 324.0h0M98.2 306.6h0M138.9 293.4h0M89.5 293.5h0M65.3 329.6h0M56.0 301.5h0M68.5 290.7h0M109.8 338.4h0M53.8 321.6h0M63.1 323.4h0M66.9 296.7h0" stroke="#777" stroke-width="1.20" stroke-linecap="round" opacity="0.22" fill="none"/>
<path d="M97.8 332.4h0M113.0 306.9h0M155.5 326.1h0M111.5 330.7h0M64.4 307.2h0M158.2 328.0h0M73.9 315.5h0M86.9 320.0h0M130.1 305.8h0M81.9 294.0h0M104.9 331.8h0M64.3 305.1h0M84.8 342.3h0M61.0 329.1h0M82.2 319.2h0M80.6 332.9h0M114.0 286.2h0M89.0 283.2h0M73.1 301.2h0M148.7 333.4h0M133.4 332.0h0M102.9 344.3h0M116.1 337.2h0M119.3 294.4h0M124.3 349.1h0M122.5 320.6h0M158.9 306.0h0" stroke="#777" stroke-width="0.80" stroke-linecap="round" opacity="0.22" fill="none"/>
<path d="M130.3 350.6h0M150.5 293.9h0M75.9 316.7h0M104.7 306.3h0M130.7 310.9h0M123.3 321.5h0M92.2 346.9h0M110.2 317.6h0M152.6 303.1h0M78.8 340.9h0M116.5 335.9h0M148.1 333.0h0M109.2 323.6h0M128.7 294.6h0M125.6 347.1h0M143.3 344.1h0M109.8 339.6h0M136.7 341.7h0M133.9 318.5h0M104.1 299.5h0M55.0 328.6h0M125.5 350.4h0M109.8 336.6h0M153.2 330.4h0M131.8 335.2h0M79.6 317.0h0M160.6 312.4h0" stroke="#777" stroke-width="1.60" stroke-linecap="round" opacity="0.22" fill="none"/>
<path d="M60.7 321.0h0M143.6 316.5h0M73.8 291.6h0M71.5 333.5h0M107.2 353.4h0M139.0 323.6h0M73.9 297.6h0M104.0 348.5h0M75.0 299.8h0M142.7 340.6h0M80.7 288.0h0M102.2 290.2h0M64.9 336.9h0M133.8 318.5h0M62.4 325.5h0M64.6 307.4h0M105.3 296.1h0M50.6 319.6h0M109.1 332.3h0M93.1 333.2h0M93.5 346.7h0M87.1 291.0h0M134.5 348.0h0M141.5 321.3h0M86.2 336.8h0M98.6 330.8h0M58.9 318.7h0" stroke="#777" stroke-width="1.80" stroke-linecap="round" opacity="0.22" fill="none"/>
<path d="M71.7 305.5h0M119.3 288.6h0M125.2 286.7h0M85.9 336.6h0M104.2 346.3h0M153.8 322.9h0M136.9 285.5h0M83.6 349.1h0M96.4 317.9h0M102.2 352.3h0M146.6 339.8h0M87.7 336.2h0M105.5 300.4h0M96.0 314.6h0M123.2 332.5h0M140.4 319.1h0M107.1 337.4h0M133.5 295.9h0M162.1 329.6h0M154.1 307.5h0M132.0 351.2h0" stroke="#777" stroke-width="1.40" stroke-linecap="round" opacity="0.22" fill="none"/>
<path d="M134.3 314.1h0M110.0 283.2h0M109.3 293.2h0M154.9 313.8h0M57.3 311.7h0M136.3 338.1h0M147.2 292.2h0M69.7 304.4h0M72.7 326.7h0M108.9 328.0h0M117.8 290.7h0M80.1 324.8h0M86.0 312.0h0M118.2 347.7h0M108.3 281.2h0M127.3 331.1h0M63.9 299.7h0M91.1 317.3h0M78.6 332.1h0M137.5 346.7h0M88.9 310.0h0M120.7 329.6h0M143.8 288.7h0" stroke="#777" stroke-width="1.00" stroke-linecap="round" opacity="0.22" fill="none"/>
<path d="M83.4 321.5h0M50.9 313.7h0M86.6 321.2h0M121.6 309.4h0M68.5 327.8h0M118.6 285.9h0M141.6 301.7h0M94.9 292.8h0" stroke="#777" stroke-width="2.00" stroke-linecap="round" opacity="0.22" fill="none"/>
<path d="M92.5 352.4h0M68.7 337.2h0M81.2 322.1h0M79.6 342.6h0M129.0 288.4h0M140.1 331.1h0M142.8 346.8h0M70.8 298.3h0M111.0 319.9h0" stroke="#777" stroke-width="0.60" stroke-linecap="round" opacity="0.22" fill="none"/>
<path d="M27,260.5 L38,260.5 L70,325.7 L52,378.4 L27,360.4Z" fill="#fafafa" opacity="0.6"/>
<line x1="38" y1="260.5" x2="70" y2="325.7" stroke="#6a6a6a" stroke-width="0.5" stroke-dasharray="1.6,0.9" opacity="1"/>
<line x1="70" y1="325.7" x2="52" y2="378.4" stroke="#6a6a6a" stroke-width="0.5" stroke-dasharray="1.6,0.9" opacity="1"/>
<line x1="186.4" y1="260.5" x2="168.4" y2="324.3" stroke="#6a6a6a" stroke-width="0.5" stroke-dasharray="1.6,0.9" opacity="1"/>
<line x1="168.4" y1="324.3" x2="176.7" y2="377" stroke="#6a6a6a" stroke-width="0.5" stroke-dasharray="1.6,0.9" opacity="1"/>
<line x1="52" y1="378.4" x2="176.7" y2="377" stroke="#6a6a6a" stroke-width="0.5" stroke-dasharray="1.6,0.9" opacity="1"/>
<line x1="27" y1="360.4" x2="52" y2="378.4" stroke="#6a6a6a" stroke-width="0.5" stroke-dasharray="1.6,0.9" opacity="1"/>
<line x1="203" y1="346.5" x2="176.7" y2="377" stroke="#6a6a6a" stroke-width="0.5" stroke-dasharray="1.6,0.9" opacity="1"/>
<line x1="27" y1="299.4" x2="47.7" y2="299.4" stroke="#606060" stroke-width="0.6" opacity="1"/>
<line x1="75.5" y1="299.8" x2="108.8" y2="299.8" stroke="#606060" stroke-width="0.6" opacity="1"/>
<line x1="139" y1="300" x2="171" y2="300" stroke="#606060" stroke-width="0.6" opacity="1"/>
<line x1="89" y1="325.7" x2="150" y2="325.7" stroke="#606060" stroke-width="0.6" opacity="1"/>
<path d="M88.3 321.8h0M85.3 319.0h0M84.1 318.5h0M86.6 318.0h0M86.3 319.4h0M81.2 314.8h0M86.2 316.1h0M84.2 317.1h0M89.1 317.1h0M84.8 316.1h0M83.7 319.9h0M84.1 321.6h0M87.8 320.2h0M88.0 317.7h0M82.7 317.7h0M87.2 312.0h0M83.7 322.3h0M86.9 323.3h0M87.3 318.3h0M86.8 321.3h0M86.0 317.2h0M86.6 316.8h0M90.6 315.0h0M83.1 312.9h0M88.0 316.4h0" stroke="#E0307A" stroke-width="1.10" stroke-linecap="round" opacity="1.0" fill="none"/>
<path d="M112.3 300.4h0M112.6 296.7h0M112.2 299.3h0M114.1 302.8h0M109.6 298.2h0M113.1 304.5h0M113.5 300.6h0M114.2 294.1h0M111.0 298.1h0M110.0 302.7h0M112.6 301.8h0M111.8 302.8h0M113.5 299.3h0M113.8 298.3h0M115.4 297.2h0" stroke="#E0307A" stroke-width="1.10" stroke-linecap="round" opacity="1.0" fill="none"/>
<path d="M104.9 290.4h0M106.2 293.9h0M103.2 294.6h0M111.5 292.6h0M103.8 293.3h0M95.0 290.9h0M109.8 291.9h0M115.6 291.0h0M100.9 291.7h0M108.3 294.5h0M99.3 292.2h0M110.9 291.0h0" stroke="#E0307A" stroke-width="1.10" stroke-linecap="round" opacity="1.0" fill="none"/>
<path d="M124.4 293.4h0M126.1 299.4h0M125.9 297.7h0M126.5 296.6h0M126.1 299.4h0M126.9 298.5h0M125.1 299.1h0M122.8 291.8h0M127.4 297.4h0M123.5 295.3h0M124.8 297.2h0M123.9 299.9h0" stroke="#E0307A" stroke-width="1.10" stroke-linecap="round" opacity="1.0" fill="none"/>
<path d="M99.1 339.5h0M100.9 337.3h0M106.0 330.7h0M100.5 334.1h0M104.8 333.2h0M104.1 334.3h0M100.7 334.1h0M110.7 332.7h0M101.1 335.3h0M108.0 336.1h0" stroke="#E0307A" stroke-width="1.00" stroke-linecap="round" opacity="1.0" fill="none"/>
<text x="13" y="380.8" font-size="7.2" font-weight="bold" text-anchor="start" fill="#111" >1500 µm</text>
<path d="M22.9,383.4H32.7" stroke="#111" stroke-width="1.1"/>
<text x="93.8" y="405.7" font-size="13.5" font-weight="bold" text-anchor="start" fill="#000" >Osim</text>
<line x1="28.3" y1="407.3" x2="76" y2="421" stroke="#6a6a6a" stroke-width="0.5" stroke-dasharray="1.6,0.9" opacity="1"/>
<line x1="28.3" y1="407.3" x2="21.9" y2="510" stroke="#6a6a6a" stroke-width="0.5" stroke-dasharray="1.6,0.9" opacity="1"/>
<line x1="21.9" y1="510" x2="44.8" y2="526.4" stroke="#6a6a6a" stroke-width="0.5" stroke-dasharray="1.6,0.9" opacity="1"/>
<line x1="21.9" y1="510" x2="65" y2="500.8" stroke="#6a6a6a" stroke-width="0.5" stroke-dasharray="1.6,0.9" opacity="1"/>
<line x1="162" y1="413" x2="207.6" y2="413.7" stroke="#6a6a6a" stroke-width="0.5" stroke-dasharray="1.6,0.9" opacity="1"/>
<line x1="207.6" y1="413.7" x2="216.8" y2="510" stroke="#6a6a6a" stroke-width="0.5" stroke-dasharray="1.6,0.9" opacity="1"/>
<line x1="178" y1="488" x2="216.8" y2="510" stroke="#6a6a6a" stroke-width="0.5" stroke-dasharray="1.6,0.9" opacity="1"/>
<line x1="216.8" y1="510" x2="196.6" y2="524.6" stroke="#6a6a6a" stroke-width="0.5" stroke-dasharray="1.6,0.9" opacity="1"/>
<line x1="36.2" y1="409.6" x2="29.1" y2="508.5" stroke="#e2e2e2" stroke-width="0.4" opacity="1"/>
<line x1="44.2" y1="411.9" x2="36.3" y2="506.9" stroke="#e2e2e2" stroke-width="0.4" opacity="1"/>
<line x1="52.2" y1="414.1" x2="43.5" y2="505.4" stroke="#e2e2e2" stroke-width="0.4" opacity="1"/>
<line x1="60.1" y1="416.4" x2="50.6" y2="503.9" stroke="#e2e2e2" stroke-width="0.4" opacity="1"/>
<line x1="68.1" y1="418.7" x2="57.8" y2="502.3" stroke="#e2e2e2" stroke-width="0.4" opacity="1"/>
<line x1="27.5" y1="420.1" x2="74.6" y2="431.0" stroke="#e2e2e2" stroke-width="0.4" opacity="1"/>
<line x1="26.7" y1="433.0" x2="73.2" y2="440.9" stroke="#e2e2e2" stroke-width="0.4" opacity="1"/>
<line x1="25.9" y1="445.8" x2="71.9" y2="450.9" stroke="#e2e2e2" stroke-width="0.4" opacity="1"/>
<line x1="25.1" y1="458.6" x2="70.5" y2="460.9" stroke="#e2e2e2" stroke-width="0.4" opacity="1"/>
<line x1="24.3" y1="471.5" x2="69.1" y2="470.9" stroke="#e2e2e2" stroke-width="0.4" opacity="1"/>
<line x1="23.5" y1="484.3" x2="67.8" y2="480.9" stroke="#e2e2e2" stroke-width="0.4" opacity="1"/>
<line x1="22.7" y1="497.2" x2="66.4" y2="490.8" stroke="#e2e2e2" stroke-width="0.4" opacity="1"/>
<line x1="168.5" y1="413.1" x2="183.5" y2="491.1" stroke="#e2e2e2" stroke-width="0.4" opacity="1"/>
<line x1="175.0" y1="413.2" x2="189.1" y2="494.3" stroke="#e2e2e2" stroke-width="0.4" opacity="1"/>
<line x1="181.5" y1="413.3" x2="194.6" y2="497.4" stroke="#e2e2e2" stroke-width="0.4" opacity="1"/>
<line x1="188.1" y1="413.4" x2="200.2" y2="500.6" stroke="#e2e2e2" stroke-width="0.4" opacity="1"/>
<line x1="194.6" y1="413.5" x2="205.7" y2="503.7" stroke="#e2e2e2" stroke-width="0.4" opacity="1"/>
<line x1="201.1" y1="413.6" x2="211.3" y2="506.9" stroke="#e2e2e2" stroke-width="0.4" opacity="1"/>
<line x1="163.8" y1="421.3" x2="208.6" y2="424.4" stroke="#e2e2e2" stroke-width="0.4" opacity="1"/>
<line x1="165.6" y1="429.7" x2="209.6" y2="435.1" stroke="#e2e2e2" stroke-width="0.4" opacity="1"/>
<line x1="167.3" y1="438.0" x2="210.7" y2="445.8" stroke="#e2e2e2" stroke-width="0.4" opacity="1"/>
<line x1="169.1" y1="446.3" x2="211.7" y2="456.5" stroke="#e2e2e2" stroke-width="0.4" opacity="1"/>
<line x1="170.9" y1="454.7" x2="212.7" y2="467.2" stroke="#e2e2e2" stroke-width="0.4" opacity="1"/>
<line x1="172.7" y1="463.0" x2="213.7" y2="477.9" stroke="#e2e2e2" stroke-width="0.4" opacity="1"/>
<line x1="174.4" y1="471.3" x2="214.8" y2="488.6" stroke="#e2e2e2" stroke-width="0.4" opacity="1"/>
<line x1="176.2" y1="479.7" x2="215.8" y2="499.3" stroke="#e2e2e2" stroke-width="0.4" opacity="1"/>
<line x1="49.8" y1="520.0" x2="102.5" y2="525.5" stroke="#e6e6e6" stroke-width="0.4" opacity="1"/>
<line x1="54.9" y1="513.6" x2="105.0" y2="521.0" stroke="#e6e6e6" stroke-width="0.4" opacity="1"/>
<line x1="60.0" y1="507.2" x2="107.5" y2="516.5" stroke="#e6e6e6" stroke-width="0.4" opacity="1"/>
<line x1="58.6" y1="527.3" x2="76.2" y2="503.6" stroke="#e6e6e6" stroke-width="0.4" opacity="1"/>
<line x1="72.4" y1="528.2" x2="87.5" y2="506.4" stroke="#e6e6e6" stroke-width="0.4" opacity="1"/>
<line x1="86.2" y1="529.1" x2="98.8" y2="509.2" stroke="#e6e6e6" stroke-width="0.4" opacity="1"/>
<line x1="187.7" y1="493.5" x2="154.2" y2="521.1" stroke="#e6e6e6" stroke-width="0.4" opacity="1"/>
<line x1="197.4" y1="499.0" x2="168.3" y2="522.3" stroke="#e6e6e6" stroke-width="0.4" opacity="1"/>
<line x1="207.1" y1="504.5" x2="182.4" y2="523.5" stroke="#e6e6e6" stroke-width="0.4" opacity="1"/>
<line x1="168.5" y1="496.0" x2="211.8" y2="513.6" stroke="#e6e6e6" stroke-width="0.4" opacity="1"/>
<line x1="159.0" y1="504.0" x2="206.7" y2="517.3" stroke="#e6e6e6" stroke-width="0.4" opacity="1"/>
<line x1="149.5" y1="512.0" x2="201.7" y2="521.0" stroke="#e6e6e6" stroke-width="0.4" opacity="1"/>
<path d="M73.4,424.0 C78.3,422.9 85.1,422.1 90.9,421.9 C96.7,421.6 105.0,419.0 108.4,422.5 C111.8,426.0 110.8,436.2 111.4,443.0 C112.0,449.8 112.2,456.1 112.0,463.4 C111.8,470.7 111.0,480.0 109.9,486.8 C108.8,493.6 108.2,499.7 105.5,504.3 C102.8,508.9 98.2,512.3 93.8,514.5 C89.4,516.7 84.5,518.1 79.2,517.4 C73.9,516.7 66.6,513.3 61.7,510.1 C56.8,506.9 53.2,503.8 50.0,498.4 C46.8,493.0 43.9,484.8 42.7,478.0 C41.5,471.2 41.5,463.9 42.7,457.6 C43.9,451.3 46.8,444.9 50.0,440.0 C53.2,435.1 57.8,431.1 61.7,428.4 C65.6,425.7 68.5,425.1 73.4,424.0Z" fill="#dedede" filter="url(#bl1)"/>
<path d="M73.4,424.0 C78.3,422.9 85.1,422.1 90.9,421.9 C96.7,421.6 105.0,419.0 108.4,422.5 C111.8,426.0 110.8,436.2 111.4,443.0 C112.0,449.8 112.2,456.1 112.0,463.4 C111.8,470.7 111.0,480.0 109.9,486.8 C108.8,493.6 108.2,499.7 105.5,504.3 C102.8,508.9 98.2,512.3 93.8,514.5 C89.4,516.7 84.5,518.1 79.2,517.4 C73.9,516.7 66.6,513.3 61.7,510.1 C56.8,506.9 53.2,503.8 50.0,498.4 C46.8,493.0 43.9,484.8 42.7,478.0 C41.5,471.2 41.5,463.9 42.7,457.6 C43.9,451.3 46.8,444.9 50.0,440.0 C53.2,435.1 57.8,431.1 61.7,428.4 C65.6,425.7 68.5,425.1 73.4,424.0Z" fill="none" stroke="#c6c6c6" stroke-width="2.2" filter="url(#bl1)" opacity="1"/>
<path d="M124.5,422.5 C127.2,418.9 132.5,419.0 137.6,418.1 C142.7,417.2 150.2,415.6 155.1,417.3 C160.0,419.0 163.2,423.6 166.8,428.4 C170.5,433.2 174.3,440.1 177.0,445.9 C179.7,451.7 182.2,457.6 182.9,463.4 C183.6,469.2 182.4,476.0 181.4,480.9 C180.4,485.8 180.4,488.2 177.0,492.6 C173.6,497.0 167.1,503.7 161.0,507.2 C154.9,510.7 146.1,513.1 140.5,513.6 C134.9,514.1 130.6,513.6 127.4,510.1 C124.2,506.6 122.7,500.4 121.6,492.6 C120.5,484.8 120.7,472.2 120.7,463.4 C120.7,454.6 121.0,446.8 121.6,440.0 C122.2,433.2 121.8,426.1 124.5,422.5Z" fill="#dedede" filter="url(#bl1)"/>
<path d="M124.5,422.5 C127.2,418.9 132.5,419.0 137.6,418.1 C142.7,417.2 150.2,415.6 155.1,417.3 C160.0,419.0 163.2,423.6 166.8,428.4 C170.5,433.2 174.3,440.1 177.0,445.9 C179.7,451.7 182.2,457.6 182.9,463.4 C183.6,469.2 182.4,476.0 181.4,480.9 C180.4,485.8 180.4,488.2 177.0,492.6 C173.6,497.0 167.1,503.7 161.0,507.2 C154.9,510.7 146.1,513.1 140.5,513.6 C134.9,514.1 130.6,513.6 127.4,510.1 C124.2,506.6 122.7,500.4 121.6,492.6 C120.5,484.8 120.7,472.2 120.7,463.4 C120.7,454.6 121.0,446.8 121.6,440.0 C122.2,433.2 121.8,426.1 124.5,422.5Z" fill="none" stroke="#c6c6c6" stroke-width="2.2" filter="url(#bl1)" opacity="1"/>
<ellipse cx="77" cy="470" rx="24" ry="36" fill="#d9d9d9" filter="url(#bl3)"/>
<ellipse cx="150" cy="462" rx="20" ry="32" fill="#dadada" filter="url(#bl3)"/>
<ellipse cx="140" cy="440" rx="14" ry="16" fill="#e8e8e8" filter="url(#bl3)"/>
<path d="M152,424 C160,432 168,445 174,466" stroke="#a8a8a8" stroke-width="1.2" fill="none" filter="url(#bl1)"/>
<path d="M133,436 C126,450 126,470 130,486" stroke="#bcbcbc" stroke-width="2.5" fill="none" filter="url(#bl1)"/>
<ellipse cx="133" cy="466" rx="2.5" ry="4" fill="#a8a8a8" filter="url(#bl1)"/>
<path d="M78.1 442.1h0M61.3 454.0h0M53.1 484.6h0M82.7 471.5h0M72.9 458.0h0M66.3 491.9h0M88.7 461.3h0M69.9 485.3h0M86.4 468.6h0M103.2 457.5h0M54.9 479.3h0M92.3 487.2h0M91.1 456.1h0M90.4 488.4h0M72.3 437.9h0M84.6 510.0h0M78.5 482.3h0M70.4 489.0h0M67.5 462.6h0M65.0 492.2h0M69.5 430.7h0M71.7 476.2h0M68.1 501.7h0M59.6 457.8h0M65.2 455.6h0M70.7 444.4h0M88.4 471.2h0M88.1 467.5h0M71.7 510.5h0M91.4 480.3h0" stroke="#777" stroke-width="1.60" stroke-linecap="round" opacity="0.22" fill="none"/>
<path d="M75.6 511.7h0M50.0 468.6h0M91.6 465.9h0M87.9 504.9h0M70.6 482.8h0M92.0 480.3h0M76.9 459.3h0M54.7 446.9h0M87.4 469.0h0M99.6 488.6h0M69.9 469.9h0M73.8 481.8h0M68.2 484.3h0M81.7 493.0h0M87.7 446.6h0M93.4 437.9h0M95.7 465.6h0M50.4 456.0h0M78.7 449.3h0" stroke="#777" stroke-width="0.80" stroke-linecap="round" opacity="0.22" fill="none"/>
<path d="M63.0 494.5h0M81.5 439.0h0M80.5 450.3h0M88.1 493.2h0M73.1 451.0h0M78.7 472.3h0M97.3 450.7h0M71.7 430.3h0M57.4 468.7h0M63.2 506.3h0M64.6 476.6h0M84.2 458.7h0M72.7 465.2h0M75.2 499.8h0M69.5 484.6h0M93.7 460.0h0M77.0 471.2h0M57.6 492.8h0M65.0 484.9h0M68.8 463.3h0M105.1 479.8h0M88.4 441.5h0M70.9 498.3h0M67.7 464.4h0M58.3 468.1h0M99.4 494.5h0M90.3 490.5h0" stroke="#777" stroke-width="1.00" stroke-linecap="round" opacity="0.22" fill="none"/>
<path d="M54.3 448.4h0M62.3 444.1h0M78.8 454.4h0M76.2 439.7h0M72.9 498.5h0M104.6 476.7h0M83.4 490.7h0M99.6 479.9h0M100.1 453.0h0M50.6 481.0h0M79.4 475.7h0M67.5 478.9h0M105.7 470.3h0M61.8 456.3h0M73.7 451.8h0M105.7 463.3h0M84.1 429.9h0M68.6 493.8h0M75.5 468.7h0M82.8 475.3h0M93.9 469.5h0M94.4 475.0h0M62.0 499.6h0M66.5 450.1h0M68.6 490.4h0M80.1 476.7h0M82.8 428.8h0M64.3 459.3h0M49.6 476.7h0M92.2 481.5h0M76.2 443.8h0M66.3 473.1h0M74.0 496.7h0M98.3 474.7h0" stroke="#777" stroke-width="1.40" stroke-linecap="round" opacity="0.22" fill="none"/>
<path d="M92.2 467.7h0M67.3 436.7h0M103.0 483.6h0M97.4 481.9h0M96.3 454.8h0M81.3 435.6h0M68.8 489.1h0M68.9 446.6h0M72.3 495.4h0M100.5 476.1h0M76.4 466.4h0M100.4 460.4h0M87.1 433.5h0M71.3 485.1h0" stroke="#777" stroke-width="1.80" stroke-linecap="round" opacity="0.22" fill="none"/>
<path d="M96.0 464.7h0M48.1 474.6h0M86.3 470.7h0M92.3 460.8h0M69.2 472.2h0M80.9 485.8h0M96.5 465.5h0M65.6 439.2h0M96.9 491.9h0M80.7 495.5h0M81.5 443.5h0M53.4 450.5h0M77.7 483.1h0M74.4 444.9h0M103.2 488.5h0M68.7 434.5h0M96.1 449.2h0M55.2 442.7h0M71.0 442.0h0" stroke="#777" stroke-width="1.20" stroke-linecap="round" opacity="0.22" fill="none"/>
<path d="M60.7 472.1h0M82.2 466.6h0M60.8 482.6h0M88.5 480.7h0M88.8 492.0h0M94.7 455.0h0M78.9 460.6h0M78.6 457.8h0M73.0 478.8h0M79.7 506.0h0M79.9 504.2h0M65.6 449.1h0M65.1 468.9h0M62.1 478.2h0M79.6 477.0h0M85.2 446.4h0M74.3 467.0h0" stroke="#777" stroke-width="0.60" stroke-linecap="round" opacity="0.22" fill="none"/>
<path d="M132.5 483.8h0M128.4 477.0h0M161.5 497.6h0M155.0 447.7h0M152.3 433.5h0M146.2 473.6h0M172.9 449.3h0M142.0 456.0h0M155.6 431.3h0M158.3 440.7h0M159.7 438.2h0M133.6 463.1h0M159.0 435.4h0M148.0 467.3h0M136.7 480.2h0M147.8 472.0h0M156.2 456.7h0M169.7 472.9h0M141.8 480.3h0M161.6 482.0h0M145.5 430.2h0M162.9 461.8h0M151.7 429.3h0M143.0 464.2h0M127.6 453.6h0M129.9 458.4h0M172.4 480.5h0M164.2 479.3h0M150.0 428.7h0M142.4 473.6h0" stroke="#777" stroke-width="1.60" stroke-linecap="round" opacity="0.22" fill="none"/>
<path d="M140.8 430.7h0M140.1 453.2h0M143.0 448.3h0M166.7 435.0h0M157.3 449.5h0M161.6 470.5h0M151.9 503.8h0M148.6 491.0h0M142.1 474.3h0M153.3 484.7h0M173.7 471.6h0M169.3 491.4h0M174.2 456.9h0M166.0 467.7h0M172.1 480.4h0M171.5 454.3h0M160.2 455.8h0" stroke="#777" stroke-width="1.80" stroke-linecap="round" opacity="0.22" fill="none"/>
<path d="M149.1 496.3h0M159.9 459.7h0M159.8 485.9h0M162.2 459.3h0M158.7 432.6h0M160.6 454.3h0M129.1 483.1h0M156.8 476.5h0M167.1 485.8h0M153.5 428.5h0M152.9 472.7h0M164.7 480.6h0M148.0 498.3h0M145.6 496.9h0M151.1 436.6h0M152.4 479.7h0M132.3 493.0h0M151.2 492.6h0M153.1 454.2h0M153.5 498.1h0M148.3 488.0h0M147.1 427.5h0M153.5 474.5h0" stroke="#777" stroke-width="0.80" stroke-linecap="round" opacity="0.22" fill="none"/>
<path d="M168.2 459.9h0M146.3 503.7h0M138.5 463.9h0M169.9 485.0h0M167.7 484.8h0M147.7 436.3h0M148.9 466.1h0M151.1 485.2h0M139.1 428.8h0M138.8 453.4h0M137.3 482.4h0M137.4 453.4h0M170.1 487.1h0M153.5 452.3h0M139.8 486.0h0M171.1 478.7h0M167.2 472.6h0M167.4 462.5h0M126.5 450.7h0" stroke="#777" stroke-width="1.20" stroke-linecap="round" opacity="0.22" fill="none"/>
<path d="M168.1 455.4h0M145.9 502.8h0M160.2 431.7h0M156.1 444.5h0M167.8 461.4h0M140.5 431.1h0M129.0 472.9h0M163.3 482.2h0M137.8 497.2h0M170.0 487.6h0M163.7 447.2h0M145.2 455.5h0M134.1 490.1h0M169.8 485.0h0M150.2 429.5h0M153.7 443.5h0M152.8 468.6h0M156.5 495.7h0M139.5 439.9h0M131.8 471.4h0M143.9 462.2h0M129.5 442.8h0M137.6 467.4h0M152.7 456.3h0M141.4 462.3h0M133.2 468.4h0" stroke="#777" stroke-width="1.00" stroke-linecap="round" opacity="0.22" fill="none"/>
<path d="M143.6 480.3h0M158.6 480.0h0M165.8 490.0h0M157.8 434.4h0M156.6 468.9h0M141.4 454.5h0M131.9 486.2h0M155.0 455.2h0M170.3 478.6h0M161.2 460.4h0M145.0 458.3h0M136.3 459.3h0M144.3 450.9h0M157.3 451.3h0M132.9 478.4h0M129.3 470.9h0M146.6 456.3h0M126.1 476.8h0M169.1 454.4h0M167.3 476.2h0M144.8 445.0h0" stroke="#777" stroke-width="1.40" stroke-linecap="round" opacity="0.22" fill="none"/>
<path d="M170.4 451.0h0M147.5 429.2h0M146.3 473.0h0M145.4 434.2h0" stroke="#777" stroke-width="0.60" stroke-linecap="round" opacity="0.22" fill="none"/>
<line x1="75" y1="424" x2="77" y2="517" stroke="#777" stroke-width="0.6" stroke-dasharray="2,1.2" opacity="1"/>
<line x1="100" y1="422" x2="102" y2="516" stroke="#888" stroke-width="0.5" stroke-dasharray="2,1.2" opacity="1"/>
<path d="M50.1 467.3h0M49.1 455.0h0M55.0 471.4h0M52.4 478.7h0M52.2 482.1h0M61.0 477.2h0M51.8 496.5h0M56.1 447.4h0M58.9 475.1h0M56.8 454.9h0M49.2 462.4h0M55.4 455.4h0M49.9 486.1h0M50.1 473.7h0M49.0 446.8h0M52.6 470.2h0M46.7 486.4h0M56.6 485.1h0M50.7 455.1h0M52.6 474.4h0M52.2 463.3h0M48.6 461.1h0M52.6 464.8h0M60.4 467.9h0M55.0 465.1h0M52.2 457.6h0M50.9 449.9h0M43.8 491.7h0M48.3 478.4h0M52.4 463.6h0M56.2 463.8h0M54.9 466.5h0M57.3 486.1h0M53.3 488.1h0M55.2 494.9h0M52.5 449.2h0M53.9 475.5h0M51.4 468.9h0M51.8 453.5h0M60.6 460.6h0M48.3 448.7h0M49.3 471.4h0M59.5 480.8h0M49.8 453.7h0M48.1 470.8h0M56.8 464.9h0M60.1 500.4h0M53.7 440.2h0M57.8 470.5h0M55.9 486.5h0M48.6 472.9h0M53.8 460.9h0M56.1 470.1h0M51.2 499.6h0M53.7 496.0h0M52.3 487.2h0M49.7 474.1h0M57.8 440.0h0M55.4 468.0h0M57.8 474.6h0M52.7 453.2h0M65.9 461.1h0M51.6 461.4h0M51.7 475.2h0M47.1 487.5h0M51.8 480.8h0M43.7 464.3h0M51.7 466.3h0M50.0 476.5h0M54.8 457.6h0M44.4 482.7h0M51.6 487.7h0M56.8 470.4h0M46.7 466.7h0M49.8 490.2h0M45.5 485.4h0M46.2 463.6h0M46.8 461.7h0M51.0 477.4h0M50.4 482.1h0M60.7 474.3h0M47.9 469.3h0M52.5 466.7h0M58.0 488.9h0M61.8 479.7h0M41.3 470.0h0M55.9 460.1h0M50.3 485.3h0M53.6 455.4h0M50.4 426.7h0M53.0 454.0h0M52.7 454.5h0M48.9 464.4h0M65.2 454.5h0M47.8 464.0h0M57.6 483.7h0M56.0 467.2h0M53.5 460.6h0M52.2 460.1h0M46.6 457.4h0M61.4 477.8h0M49.7 470.3h0M51.0 489.9h0M52.8 462.6h0M56.0 476.6h0M50.0 460.6h0M53.6 447.9h0M49.0 486.8h0M56.8 488.3h0M51.0 463.2h0M51.8 464.9h0M58.6 468.7h0M58.9 461.5h0M54.6 495.8h0M49.7 462.4h0M50.3 448.3h0M51.7 462.5h0M62.6 464.9h0M43.6 485.8h0M57.1 471.4h0M54.2 482.5h0M50.5 472.5h0M53.6 496.3h0M59.1 474.4h0M47.1 484.9h0M52.7 489.1h0M53.2 474.6h0M55.8 461.2h0M50.1 505.6h0M49.2 485.6h0M55.9 483.9h0M58.9 452.3h0M57.1 441.7h0M53.2 476.9h0M57.5 487.9h0M48.9 467.9h0M52.3 461.7h0M49.4 462.2h0M58.0 491.9h0M56.2 496.7h0M53.3 456.0h0M50.1 474.9h0M57.4 489.8h0M49.0 486.0h0M50.6 480.7h0M57.0 493.7h0M50.6 475.5h0M54.8 465.8h0M53.3 480.7h0M45.7 462.5h0M63.0 478.6h0M50.5 445.0h0M48.7 479.6h0M55.9 478.5h0M55.5 463.1h0M59.9 455.4h0M55.2 468.1h0M45.5 485.2h0M51.7 482.4h0M58.5 474.4h0M50.0 468.8h0M52.6 493.2h0M56.7 495.3h0M56.3 460.7h0M57.0 486.2h0M52.4 478.8h0M51.5 453.4h0M52.5 483.2h0M51.4 439.0h0M49.4 488.0h0M53.9 488.5h0M49.6 465.8h0M48.6 460.5h0M55.2 474.0h0M50.8 476.4h0M47.2 466.2h0M46.4 449.9h0M47.0 455.8h0M59.8 492.2h0M58.4 463.4h0M55.7 455.3h0M50.6 475.5h0M45.9 474.9h0M55.6 441.5h0M42.2 467.9h0M52.4 474.1h0M48.0 480.4h0M53.5 461.2h0M60.1 475.8h0M56.2 499.3h0M50.8 468.7h0M45.3 468.6h0M54.8 508.9h0M55.4 475.0h0M47.4 459.4h0M44.8 451.6h0M53.4 476.4h0M48.9 468.8h0M49.4 481.1h0M55.7 463.7h0M50.9 453.9h0M50.9 504.3h0M52.9 484.7h0M55.5 493.8h0M51.5 458.6h0M57.5 485.6h0M50.0 488.2h0M52.9 471.3h0M61.0 479.8h0M54.3 467.3h0M53.8 487.6h0M54.9 460.8h0M54.9 470.2h0M54.3 469.1h0M43.4 448.1h0M51.2 439.3h0M46.3 502.0h0M56.0 465.2h0M54.4 438.8h0M54.0 486.6h0M53.8 452.6h0M57.2 464.1h0M50.4 474.9h0M51.6 502.2h0M52.3 503.9h0M54.9 453.6h0M52.9 472.8h0M59.2 491.0h0M64.1 462.1h0M51.0 506.6h0M49.0 477.3h0M60.0 456.9h0M51.4 460.9h0M55.2 477.9h0M52.8 481.8h0M49.5 466.4h0M55.0 502.0h0M52.8 472.9h0M58.7 473.1h0M58.6 475.6h0M58.0 474.7h0M48.9 459.3h0M54.8 500.0h0M61.1 467.3h0M63.9 455.4h0M49.2 485.9h0M46.2 485.6h0M54.6 481.4h0M47.6 477.7h0M57.1 471.2h0M57.5 472.4h0M54.4 467.3h0M47.0 469.6h0M55.1 460.7h0M44.3 448.9h0M58.7 468.7h0M49.6 490.5h0M52.2 449.5h0M51.0 458.8h0M52.1 458.4h0" stroke="#E0307A" stroke-width="1.00" stroke-linecap="round" opacity="0.75" fill="none"/>
<path d="M62.3 445.3h0M59.1 442.0h0M61.2 447.1h0M58.4 446.7h0M68.0 442.0h0M57.2 441.5h0M53.2 440.3h0M56.1 442.2h0M60.1 445.6h0M62.5 445.1h0M61.7 444.4h0M56.4 446.3h0M68.3 448.5h0M55.3 445.1h0M53.9 446.8h0M60.9 440.7h0M58.3 441.8h0M61.9 438.2h0M62.2 444.3h0M64.5 442.8h0M61.9 454.6h0M66.9 444.6h0M55.1 446.1h0M64.7 429.7h0M61.1 444.9h0M62.1 443.5h0M61.2 449.9h0M63.8 441.6h0M60.8 453.4h0M57.7 440.4h0M63.5 443.7h0M63.4 449.8h0M67.5 445.1h0M62.1 442.7h0M60.8 448.0h0M55.7 437.8h0M59.7 438.2h0M58.3 449.0h0M50.9 445.9h0M55.5 441.8h0M59.1 438.0h0M54.6 443.4h0M47.4 432.4h0M60.0 448.5h0M71.1 441.5h0M58.0 441.6h0M64.2 447.7h0M57.2 445.4h0M61.8 448.7h0M59.9 442.0h0M57.7 436.4h0M63.3 446.6h0M67.5 444.3h0M59.7 438.4h0M56.2 439.4h0M63.6 443.5h0M50.6 442.5h0M60.5 437.8h0M61.8 445.7h0M56.8 436.2h0M60.3 444.3h0M60.7 450.7h0M62.7 438.0h0M65.8 439.8h0M65.3 443.5h0M68.0 438.0h0M65.5 445.1h0M57.5 446.5h0M73.1 444.8h0M58.2 442.2h0M68.4 444.3h0M69.3 439.7h0M68.4 435.1h0M61.1 441.5h0M59.5 449.1h0M59.0 444.8h0M71.1 447.1h0M59.9 439.3h0M52.0 444.9h0M66.3 448.5h0" stroke="#E0307A" stroke-width="1.00" stroke-linecap="round" opacity="0.75" fill="none"/>
<path d="M78.9 501.5h0M100.4 504.5h0M84.5 474.5h0M82.2 463.9h0M106.2 505.9h0M107.8 501.8h0M88.6 484.9h0M104.5 469.3h0M104.9 494.2h0M80.8 464.4h0M96.2 451.2h0M79.7 453.2h0M74.1 501.8h0M107.9 495.8h0M89.1 490.7h0M96.1 470.0h0M89.8 448.7h0M79.2 463.4h0M83.6 484.8h0M79.2 456.2h0M103.2 493.2h0M105.4 493.0h0M77.4 473.2h0M101.7 494.8h0M78.7 472.8h0M92.4 440.8h0M79.3 490.4h0M95.3 470.4h0M91.7 475.9h0M83.1 445.8h0M98.2 492.5h0M86.5 492.3h0M101.4 487.0h0M100.7 505.7h0M71.5 504.1h0M87.2 492.9h0M98.0 446.7h0M92.3 446.1h0M97.8 463.0h0M84.3 458.6h0M100.8 483.6h0M81.3 490.4h0M77.0 494.5h0M93.0 492.1h0M93.4 507.0h0M96.4 471.5h0M92.4 478.5h0M80.8 460.8h0M100.4 495.6h0M106.7 486.7h0M89.2 466.9h0M96.8 484.1h0M105.8 490.8h0M84.6 458.9h0M71.7 493.1h0M86.3 466.8h0M72.0 473.7h0M104.1 458.9h0M98.2 491.6h0M95.1 480.5h0M79.5 485.9h0M92.2 505.7h0M89.6 464.1h0M104.4 482.5h0M83.0 484.2h0M75.8 452.8h0M103.6 471.5h0M100.5 454.6h0M87.9 456.1h0M100.5 480.6h0M85.0 466.1h0M78.0 454.3h0M96.2 461.2h0M74.0 466.2h0M87.2 507.2h0M84.6 467.4h0M106.9 489.0h0M87.4 467.1h0M78.6 450.4h0M87.9 483.5h0M74.0 472.4h0M76.6 480.9h0M83.1 485.3h0M99.7 467.5h0M84.5 445.4h0M78.0 482.3h0M100.7 449.4h0M107.1 502.2h0M83.9 476.7h0M95.6 462.4h0M83.9 489.1h0M88.4 469.7h0M91.4 447.9h0M87.9 460.0h0M76.4 475.7h0M96.7 475.8h0M89.0 485.5h0M86.0 506.8h0M78.1 440.6h0M91.6 487.3h0M84.5 467.1h0M83.0 456.5h0M100.1 498.7h0M80.6 478.4h0M87.5 448.9h0M97.9 476.2h0M107.6 501.9h0M104.3 457.8h0M74.2 495.1h0M74.1 486.7h0M76.7 487.9h0M72.0 446.0h0M103.0 475.1h0M87.1 506.1h0M99.8 455.3h0M96.8 466.2h0M87.6 461.3h0M78.6 460.6h0M80.4 452.8h0M103.2 465.8h0M91.3 495.2h0M95.8 450.6h0M106.2 503.4h0M101.9 462.4h0M101.6 483.6h0M71.2 465.7h0M96.5 477.0h0M106.0 493.8h0M101.8 506.7h0M83.0 501.7h0M70.1 494.3h0M73.3 474.0h0M86.8 444.9h0M94.2 493.6h0M78.5 456.7h0M99.3 475.9h0M70.7 460.9h0M105.9 458.8h0M81.0 470.7h0M103.7 495.0h0M84.6 485.3h0M71.1 444.4h0M84.1 483.1h0M75.3 442.9h0M102.4 452.6h0M72.1 445.8h0M73.0 459.4h0M92.0 484.6h0M80.9 475.0h0M82.6 479.4h0M74.1 482.4h0M70.0 502.7h0M78.0 477.7h0M77.2 470.2h0M80.1 483.6h0M99.6 497.4h0M107.0 471.0h0M90.9 463.9h0M81.0 474.6h0M107.0 443.8h0M98.4 462.0h0M92.7 458.1h0M97.3 473.7h0M81.8 470.5h0M70.2 446.7h0M104.5 445.6h0M85.1 485.5h0M71.4 503.3h0M77.9 505.4h0M86.5 479.9h0M92.9 446.1h0M89.2 491.0h0M100.0 490.0h0M95.9 448.7h0M85.5 474.6h0M71.5 492.1h0M73.9 478.4h0M80.1 451.1h0M106.2 482.2h0M97.8 481.2h0M91.4 499.3h0M72.4 465.7h0M78.3 480.6h0M85.0 502.6h0M78.9 458.3h0M104.9 489.0h0M86.3 465.4h0M97.9 450.1h0M97.4 455.4h0M100.6 445.0h0M104.7 498.6h0M70.9 450.9h0M104.7 495.7h0M81.1 494.5h0M92.0 456.8h0M96.1 468.2h0M75.4 497.9h0M97.3 456.6h0M86.2 486.4h0M84.1 457.5h0M90.0 504.6h0M73.6 457.1h0M88.4 507.0h0M107.7 440.6h0M94.4 449.4h0M77.9 449.2h0M89.0 507.6h0M106.7 465.0h0M104.1 486.9h0M72.8 501.3h0M80.4 506.5h0M75.0 501.2h0M89.5 475.0h0M77.0 473.2h0M98.9 477.8h0M107.3 476.3h0M104.4 449.1h0M98.0 480.8h0M103.5 462.8h0M87.6 495.3h0M79.7 465.3h0M102.2 484.1h0M88.6 441.1h0M99.0 468.2h0M79.0 466.2h0M75.2 497.2h0M100.3 505.7h0M95.6 451.0h0M86.1 507.7h0M70.0 463.3h0M75.7 451.6h0M80.5 482.1h0M72.6 499.0h0M86.3 451.8h0M73.8 475.7h0M83.3 474.1h0M74.1 464.2h0M89.2 445.7h0M89.1 497.2h0M92.4 448.8h0M94.0 445.6h0M75.4 440.6h0M90.2 452.1h0M80.6 448.2h0M104.0 449.9h0M95.6 494.8h0M87.1 479.6h0M82.7 495.7h0M96.1 445.3h0M96.7 449.6h0M88.3 452.5h0M88.4 484.6h0M97.9 462.1h0M72.1 470.6h0M104.7 477.5h0M93.5 492.1h0M94.2 504.5h0M106.3 490.2h0M100.7 449.6h0M80.1 488.3h0" stroke="#E0307A" stroke-width="0.90" stroke-linecap="round" opacity="0.6" fill="none"/>
<path d="M94.8 447.1h0M100.4 447.3h0M102.1 453.9h0M102.7 452.3h0M99.5 453.0h0M97.6 446.5h0M99.2 449.3h0M103.7 447.1h0M103.4 447.7h0M96.2 445.0h0M99.9 445.7h0M100.6 450.2h0M98.8 444.3h0M98.4 451.3h0M94.6 452.1h0M100.1 448.4h0M100.6 452.0h0M99.9 447.7h0M102.4 448.0h0M101.1 452.9h0M103.9 454.7h0M103.1 450.5h0M99.4 450.6h0M101.6 458.9h0M102.0 447.6h0M104.6 445.3h0M103.0 446.2h0M96.7 448.5h0M99.1 446.0h0M101.9 449.7h0M104.0 447.0h0M94.6 452.1h0M99.3 452.9h0M93.0 446.3h0M100.3 455.8h0M96.3 444.4h0M98.6 454.2h0M104.8 446.0h0M98.2 444.6h0M97.5 447.2h0M101.3 453.4h0M107.2 449.0h0M102.5 450.7h0M100.4 455.8h0M102.1 454.7h0M100.9 452.6h0M101.5 449.7h0M97.9 448.8h0M100.0 448.9h0M99.0 447.9h0" stroke="#E0307A" stroke-width="1.00" stroke-linecap="round" opacity="0.75" fill="none"/>
<path d="M88.6 493.6h0M78.8 493.7h0M93.2 491.8h0M94.2 489.9h0M95.3 498.7h0M75.1 497.7h0M91.4 489.4h0M77.7 496.9h0M77.9 493.3h0M80.2 496.9h0M87.8 503.8h0M76.8 512.5h0M76.7 505.6h0M78.7 486.4h0M75.7 493.0h0M90.7 483.1h0M73.7 494.2h0M86.6 497.4h0M88.6 494.1h0M77.7 502.2h0M97.2 497.3h0M81.6 489.9h0M101.1 497.4h0M86.2 485.5h0M86.1 509.4h0M78.4 493.8h0M95.4 493.9h0M88.5 506.6h0M68.3 490.1h0M86.8 495.7h0M80.4 494.0h0M81.3 497.1h0M75.3 493.4h0M82.4 488.6h0M84.5 482.0h0M86.4 494.3h0M68.3 503.0h0M68.3 507.3h0M72.8 502.2h0M79.4 504.6h0M77.8 501.1h0M76.8 483.9h0M83.9 497.9h0M84.0 505.0h0M72.7 486.5h0M82.6 490.9h0M79.0 495.0h0M71.9 501.5h0M78.8 505.7h0M82.5 501.3h0M77.1 491.1h0M74.8 489.8h0M84.5 495.8h0M69.3 485.9h0M71.5 484.2h0M71.2 486.0h0M87.1 488.1h0M74.2 494.3h0M80.4 497.5h0M87.6 498.8h0M76.6 502.4h0M83.7 490.8h0M94.9 488.0h0M84.8 502.5h0M81.2 497.1h0M81.3 499.0h0M82.3 495.1h0M87.0 483.8h0M82.6 493.2h0M99.5 496.7h0M73.5 498.9h0M76.2 488.0h0M77.3 498.0h0M91.8 501.3h0M82.3 494.1h0M82.0 502.2h0M78.8 501.9h0M72.2 494.9h0M87.7 499.2h0M82.0 492.0h0" stroke="#E0307A" stroke-width="0.90" stroke-linecap="round" opacity="0.65" fill="none"/>
<path d="M125.7 447.3h0M128.5 447.4h0M135.7 446.0h0M133.5 448.9h0M127.7 449.4h0M133.2 444.3h0M127.6 447.5h0M133.2 446.6h0M132.3 450.8h0M131.1 450.8h0M134.8 448.3h0M132.0 444.8h0M128.9 448.6h0M133.4 446.4h0M126.9 452.7h0M138.0 438.8h0M127.9 449.5h0M132.5 445.3h0M132.0 453.4h0M130.2 451.9h0M131.4 445.3h0M129.2 446.6h0M134.9 453.6h0M131.7 442.8h0M129.6 447.4h0M125.3 448.9h0M131.9 443.8h0M129.8 447.2h0M136.5 451.6h0M133.3 449.4h0M127.2 452.7h0M129.0 441.4h0M133.2 447.6h0M131.0 451.0h0M130.3 450.6h0M134.8 447.7h0M130.0 449.1h0M132.9 447.4h0M131.3 446.3h0M130.8 451.2h0M128.6 448.3h0M126.7 446.2h0M131.2 451.1h0M128.0 448.6h0M128.3 450.3h0M131.8 450.8h0M130.4 443.4h0M129.4 443.7h0M129.0 448.8h0M134.2 446.5h0" stroke="#E0307A" stroke-width="1.00" stroke-linecap="round" opacity="0.7" fill="none"/>
<path d="M147.7 469.4h0M133.9 481.8h0M139.5 475.0h0M166.6 474.7h0M154.9 473.1h0M152.3 474.6h0M149.0 462.4h0M160.1 464.9h0M163.2 462.1h0M158.9 461.2h0M154.9 482.8h0M144.5 459.5h0M138.9 466.4h0M173.4 464.9h0M166.0 466.7h0M149.2 481.9h0M167.6 455.3h0M145.6 470.9h0M163.0 466.5h0M159.4 471.7h0M152.3 474.9h0M146.9 473.2h0M165.8 469.4h0M152.3 467.9h0M132.3 469.8h0M140.8 454.1h0M164.2 461.7h0M159.8 468.3h0M137.2 461.8h0M153.1 471.2h0M156.8 459.3h0M150.4 468.7h0M142.4 465.0h0M150.2 453.4h0M174.4 474.1h0M151.1 474.5h0M144.9 478.6h0M152.1 469.0h0M149.8 468.6h0M159.5 468.2h0M147.2 473.2h0M162.0 468.0h0M167.2 462.9h0M169.6 466.9h0M172.2 465.0h0M153.3 469.5h0M167.7 477.9h0M151.2 463.0h0M164.2 476.6h0M163.5 465.7h0M169.6 467.8h0M157.8 472.3h0M150.0 452.4h0M158.3 472.9h0M160.7 471.7h0M157.7 475.2h0M157.2 478.3h0M156.6 473.5h0M150.2 470.1h0M160.5 469.0h0M172.5 468.3h0M168.0 470.4h0M167.6 461.8h0M152.1 474.7h0M147.3 470.7h0M162.1 469.4h0M160.7 471.7h0M153.5 470.8h0M150.5 464.9h0M139.1 467.3h0M137.9 468.2h0M158.3 460.5h0M156.8 470.0h0M152.3 461.7h0M154.8 470.8h0M165.9 481.4h0M135.0 470.4h0M160.6 463.6h0M159.4 482.4h0M157.2 477.4h0M167.3 465.0h0M131.4 476.0h0M172.4 455.9h0M153.9 463.2h0M158.2 468.4h0M168.2 463.9h0M176.5 456.2h0M158.3 486.5h0M155.0 472.3h0M151.0 490.8h0M165.5 465.6h0M135.6 469.5h0M163.8 453.9h0M150.8 471.9h0M130.4 466.7h0M139.1 458.7h0M160.3 475.9h0M168.4 463.5h0M161.4 455.8h0M140.3 471.8h0M151.8 461.0h0M136.1 466.4h0M179.8 454.1h0M144.9 475.8h0M135.6 463.7h0M156.7 475.8h0M155.2 480.6h0M155.7 467.2h0M160.7 470.4h0M140.0 461.4h0M153.5 470.4h0M143.0 463.1h0M148.1 470.4h0M151.4 472.2h0M160.1 461.7h0M152.8 459.4h0M157.2 473.6h0M145.5 455.7h0M161.5 466.0h0M155.7 471.2h0M160.1 474.4h0M151.1 452.7h0M150.8 465.9h0M151.6 470.7h0M153.3 477.0h0M149.2 468.0h0M152.2 482.7h0M145.8 461.1h0M151.9 473.3h0M156.1 466.8h0M140.4 453.6h0M153.7 466.3h0M174.9 470.6h0M160.6 474.7h0M146.4 459.5h0M152.1 478.3h0M166.6 463.9h0M142.7 474.5h0M167.7 460.4h0M173.2 462.6h0M164.0 466.6h0M152.5 463.8h0M163.4 472.3h0M164.7 466.0h0M146.9 482.9h0M174.4 466.7h0M143.7 478.4h0M157.4 468.4h0M165.2 470.4h0M157.2 481.8h0M135.7 472.5h0M145.4 468.5h0M154.2 469.8h0M130.1 472.8h0M181.1 465.1h0M165.7 472.4h0M159.2 464.5h0M162.8 469.9h0M171.6 473.8h0M148.4 447.7h0M172.3 471.4h0M157.9 463.8h0M183.0 477.3h0M157.0 465.4h0M162.2 477.5h0M161.6 474.6h0M158.8 470.5h0M142.3 468.9h0M156.6 467.5h0M153.4 470.1h0M149.7 466.6h0M141.8 484.1h0M146.3 459.6h0M150.2 465.1h0M144.4 451.0h0M173.8 475.1h0M151.9 471.9h0M144.0 456.7h0M159.6 472.0h0M148.6 468.0h0M122.6 467.1h0M167.5 469.2h0M158.0 472.0h0M133.3 459.0h0M142.2 469.7h0M149.2 454.8h0M165.7 466.7h0M166.8 482.0h0M138.0 459.1h0M167.7 477.8h0M160.3 470.5h0M163.6 472.6h0M142.1 473.2h0M166.8 465.2h0M146.0 464.6h0M149.6 471.7h0M164.5 468.2h0M152.7 455.6h0M151.4 461.1h0M150.0 470.4h0M157.8 492.4h0M146.5 464.3h0M143.5 466.2h0M152.9 475.0h0M134.7 474.3h0M163.0 464.3h0M148.5 469.4h0M161.7 466.9h0M154.3 468.1h0M144.2 469.9h0M162.3 468.4h0M143.5 468.0h0M154.8 470.2h0M151.4 473.8h0M167.8 473.7h0M158.5 476.5h0M155.5 466.9h0M140.3 468.1h0M169.3 461.4h0M164.5 459.2h0M159.2 480.7h0M156.5 459.9h0M159.1 467.0h0M164.7 464.4h0M137.0 464.7h0M162.4 475.1h0M159.0 468.2h0M163.5 466.7h0M151.0 469.6h0M167.9 464.6h0M161.4 463.6h0M147.9 469.2h0M141.4 462.1h0M142.9 463.9h0M146.0 484.1h0M162.6 468.5h0M141.3 451.7h0M160.8 463.7h0M167.4 465.3h0M141.7 463.6h0M139.3 458.3h0M163.7 464.4h0M163.5 464.2h0M153.4 464.2h0M150.0 463.5h0M172.3 467.6h0M134.6 479.6h0M169.6 475.7h0M154.8 467.0h0M150.7 468.9h0M161.0 468.0h0M146.9 461.4h0M174.1 479.6h0M142.4 463.6h0M155.5 472.0h0M154.7 469.7h0M159.9 475.8h0M141.6 475.5h0M160.7 471.7h0M139.4 466.5h0" stroke="#E0307A" stroke-width="1.00" stroke-linecap="round" opacity="0.7" fill="none"/>
<path d="M133.7 471.0h0M138.4 471.4h0M128.5 475.8h0M135.3 473.3h0M134.9 460.6h0M148.0 471.1h0M138.7 462.4h0M133.8 474.7h0M137.2 479.6h0M140.9 457.7h0M127.3 475.0h0M137.9 464.0h0M133.5 461.7h0M143.9 464.8h0M128.1 473.1h0M134.5 468.8h0M133.0 465.7h0M125.6 470.2h0M131.5 463.1h0M136.5 475.9h0M124.2 465.0h0M137.7 473.9h0M130.4 468.5h0M136.9 473.2h0M131.8 464.6h0M132.4 474.8h0M140.3 462.6h0M134.2 467.7h0M130.4 465.2h0M139.2 472.0h0M131.5 461.0h0M134.3 454.7h0M136.5 467.0h0M128.3 464.3h0M131.6 464.0h0M130.6 476.6h0M130.1 471.9h0M136.0 477.2h0M134.6 466.1h0M135.3 451.6h0M146.9 464.4h0M133.3 457.4h0M134.2 478.4h0M131.1 469.4h0M140.1 473.3h0M132.9 452.7h0M136.9 470.4h0M133.3 462.8h0M143.7 454.0h0M132.4 461.4h0M127.1 460.8h0M130.9 475.6h0M126.2 455.6h0M136.2 454.3h0M124.9 461.3h0M128.9 458.6h0M134.1 469.5h0M131.7 464.0h0M138.5 464.9h0M138.6 461.6h0" stroke="#E0307A" stroke-width="0.90" stroke-linecap="round" opacity="0.6" fill="none"/>
<path d="M66.6 497.0h0M40.4 532.9h0M55.2 463.2h0M57.5 480.0h0M42.9 471.1h0M51.6 500.1h0M35.6 483.8h0M55.3 454.6h0M61.7 465.3h0M60.3 475.3h0M76.5 461.8h0M83.1 413.9h0M85.2 495.7h0M81.6 474.4h0M63.7 449.1h0M78.4 446.1h0M48.6 470.3h0M63.0 477.4h0M43.5 463.1h0M66.6 495.0h0M70.4 478.9h0M56.1 459.0h0M52.6 468.3h0M67.1 459.8h0M88.5 449.4h0M71.1 466.1h0M57.8 462.4h0M81.2 464.1h0M67.4 472.8h0M70.2 482.5h0M82.8 455.1h0M48.3 505.6h0M77.5 471.8h0M55.7 475.6h0M77.9 454.4h0M80.0 469.1h0M54.7 462.1h0M30.5 477.0h0M41.4 458.7h0M47.2 475.2h0M69.8 471.1h0M62.4 478.9h0M82.2 482.3h0M81.6 469.0h0M64.7 456.8h0M68.0 452.5h0M66.3 457.2h0M54.8 495.6h0M61.8 486.8h0M56.4 431.6h0M80.3 466.6h0M50.7 490.0h0M43.9 454.9h0M75.7 455.9h0M75.5 464.0h0M56.8 471.8h0M52.8 492.6h0M75.0 471.7h0M68.2 481.6h0M83.2 437.4h0M74.0 489.3h0M55.4 470.6h0M54.9 496.0h0M43.8 482.9h0M77.7 482.2h0M53.1 460.8h0M30.2 449.0h0M75.0 450.7h0M36.9 465.2h0M39.0 479.9h0M47.6 490.1h0M58.1 441.0h0M49.0 456.9h0M48.0 496.0h0M45.8 477.9h0M51.6 482.6h0M39.8 437.9h0M66.9 500.0h0M40.5 463.9h0M52.7 451.0h0M73.3 471.4h0M40.4 465.9h0M78.4 455.7h0M52.6 453.2h0M62.0 458.9h0M72.2 453.1h0M39.4 479.7h0M15.5 450.7h0M63.7 475.5h0M51.7 461.2h0M67.0 547.6h0M48.5 466.7h0M53.4 481.8h0M59.9 481.8h0M82.6 464.7h0M55.7 478.2h0M89.1 462.9h0M83.4 494.9h0M21.5 449.8h0M46.1 478.6h0M78.3 471.5h0M62.0 515.3h0M64.7 515.0h0M47.3 504.5h0M52.7 420.1h0M48.2 460.6h0M59.2 486.0h0M69.4 481.2h0M49.3 507.4h0M76.5 471.1h0M51.8 469.4h0M56.7 455.9h0M59.6 456.6h0M68.8 456.8h0M66.6 477.0h0M62.1 481.2h0M45.4 523.8h0M50.1 485.6h0M60.1 461.4h0M84.1 493.2h0M56.0 482.1h0M69.4 503.2h0M74.0 466.9h0M56.3 446.2h0M63.5 488.3h0M54.4 484.1h0M61.7 460.8h0M42.8 493.5h0M95.2 481.7h0M44.7 448.9h0M63.3 483.9h0M81.1 420.2h0M85.7 473.8h0M61.7 478.4h0M54.9 464.4h0M74.6 434.3h0M58.2 482.0h0M36.8 467.0h0M81.2 478.1h0M69.7 485.0h0M62.9 477.8h0M48.5 466.0h0M85.7 444.8h0M57.5 444.0h0M52.4 454.2h0M42.7 475.4h0M46.6 481.3h0M85.1 417.0h0M57.5 426.7h0M58.1 478.1h0" stroke="#f090b8" stroke-width="1.00" stroke-linecap="round" opacity="0.5" fill="none"/>
<path d="M149.6,489.7 C149.6,486.4 150.8,483.6 152.8,482.0 C154.8,480.4 158.8,480.4 161.6,480.4 C164.3,480.4 167.6,480.4 169.3,482.0 C171.0,483.6 171.7,487.7 172.0,490.0 C172.3,492.3 172.4,494.4 171.0,496.0 C169.6,497.6 166.8,498.6 163.8,499.5 C160.8,500.4 155.2,503.1 152.8,501.5 C150.4,499.9 149.6,492.9 149.6,489.7Z" fill="#f2a6cc"/>
<path d="M152.8,482 C158,480 165,480 169.3,482" stroke="#e04a90" stroke-width="1.6" fill="none"/>
<path d="M139.7,513.2 C141.9,513.5 150.6,512.7 155.0,511.6 C159.4,510.5 169.5,507.0 172.6,505.0 C175.7,503.0 177.7,498.5 178.5,496.3 C179.3,494.1 178.7,489.6 178.5,488.6 C178.3,487.6 178.1,488.1 177.0,489.0 C175.9,489.9 173.2,493.6 170.4,495.2 C167.6,496.8 159.9,499.4 156.1,500.7 C152.3,502.0 144.2,503.9 141.9,505.0 C139.6,506.1 138.8,507.9 138.5,509.0 C138.2,510.1 137.5,512.9 139.7,513.2Z" fill="#e2338a"/>
<path d="M141,510 C152,507 165,503 176,492" stroke="#c80a62" stroke-width="1.4" fill="none"/>
<path d="M159.6 499.8h0M159.2 485.9h0M170.0 489.6h0M157.2 495.6h0M150.9 494.5h0M169.9 486.1h0M144.6 492.0h0M156.6 488.0h0M139.5 498.4h0M161.1 487.8h0M162.5 493.8h0M159.2 487.7h0M156.2 496.3h0M143.9 489.1h0M165.7 503.6h0M163.2 493.7h0M149.3 492.1h0M155.9 496.2h0M155.9 505.8h0M168.5 483.6h0M148.6 494.1h0M165.8 496.0h0M135.9 486.2h0M168.8 496.9h0M178.5 497.9h0M161.7 501.3h0M154.4 491.5h0M149.8 495.2h0M161.5 498.5h0M169.6 497.0h0M167.8 492.9h0M150.2 497.5h0M166.1 500.4h0M156.6 491.8h0M155.1 495.8h0M157.6 493.2h0M160.0 492.7h0M160.7 491.2h0M145.6 492.6h0M173.1 490.2h0M165.3 500.5h0M153.6 495.3h0M139.7 496.8h0M170.3 494.9h0M142.0 491.3h0M152.0 494.6h0M160.3 492.1h0M155.5 490.1h0M162.6 495.0h0M160.8 491.6h0M161.9 492.6h0M160.4 493.3h0M152.7 488.8h0M143.0 487.5h0M161.7 509.7h0M144.8 490.1h0M157.9 511.2h0M156.3 488.5h0M161.3 504.1h0M135.6 488.4h0" stroke="#e0408a" stroke-width="1.00" stroke-linecap="round" opacity="0.7" fill="none"/>
<path d="M172.4 501.7h0M158.9 503.2h0M167.6 500.8h0M163.1 505.7h0M165.6 506.3h0M161.5 499.9h0M156.7 502.3h0M165.3 504.3h0M161.5 508.2h0M158.9 509.9h0M168.4 500.7h0M154.1 508.5h0M155.0 508.5h0M154.4 504.7h0M170.3 500.5h0M160.8 503.7h0M161.7 510.0h0M164.9 501.1h0M169.6 503.7h0M161.6 508.4h0M156.9 507.8h0M161.8 502.4h0M156.9 501.1h0M171.8 505.5h0M169.7 501.8h0M168.5 501.6h0M162.8 505.0h0M154.1 505.9h0M160.3 502.5h0M152.6 501.2h0M173.7 505.4h0M156.4 507.0h0M151.4 501.6h0M163.6 509.6h0M163.0 505.5h0M177.5 500.5h0M190.6 501.8h0M159.3 501.1h0M147.8 504.3h0M184.5 502.3h0" stroke="#f080b0" stroke-width="1.00" stroke-linecap="round" opacity="0.7" fill="none"/>
<path d="M115.4,409.4 L121.9,422.6 H118 V519.2 H121.9 L115.4,532.6 L109,519.2 H113.1 V422.6 H109Z" fill="#808080"/>
<text x="0.3" y="526.7" font-size="7.2" font-weight="bold" text-anchor="start" fill="#111" >1500 µm</text>
<path d="M10.2,529.3H20.0" stroke="#111" stroke-width="1.1"/>
<text x="89.3" y="553.6" font-size="13.5" font-weight="bold" text-anchor="start" fill="#000" >Combo</text>
<path d="M28.1,588 L73.4,559.3 L74.9,615.7 L53,671.2Z" fill="#f2f2f2"/>
<line x1="84.1" y1="615.9" x2="66.1" y2="671.1" stroke="#dedede" stroke-width="0.4" opacity="1"/>
<line x1="93.3" y1="616.0" x2="79.3" y2="670.9" stroke="#dedede" stroke-width="0.4" opacity="1"/>
<line x1="102.5" y1="616.2" x2="92.4" y2="670.8" stroke="#dedede" stroke-width="0.4" opacity="1"/>
<line x1="111.7" y1="616.3" x2="105.5" y2="670.6" stroke="#dedede" stroke-width="0.4" opacity="1"/>
<line x1="120.9" y1="616.5" x2="118.7" y2="670.5" stroke="#dedede" stroke-width="0.4" opacity="1"/>
<line x1="130.0" y1="616.6" x2="131.8" y2="670.3" stroke="#dedede" stroke-width="0.4" opacity="1"/>
<line x1="139.2" y1="616.8" x2="144.9" y2="670.2" stroke="#dedede" stroke-width="0.4" opacity="1"/>
<line x1="148.4" y1="616.9" x2="158.0" y2="670.0" stroke="#dedede" stroke-width="0.4" opacity="1"/>
<line x1="157.6" y1="617.1" x2="171.2" y2="669.9" stroke="#dedede" stroke-width="0.4" opacity="1"/>
<line x1="69.4" y1="629.6" x2="171.2" y2="630.3" stroke="#dedede" stroke-width="0.4" opacity="1"/>
<line x1="64.0" y1="643.5" x2="175.6" y2="643.5" stroke="#dedede" stroke-width="0.4" opacity="1"/>
<line x1="58.5" y1="657.3" x2="179.9" y2="656.6" stroke="#dedede" stroke-width="0.4" opacity="1"/>
<line x1="177.6" y1="572.1" x2="170.3" y2="627.7" stroke="#e2e2e2" stroke-width="0.4" opacity="1"/>
<line x1="185.5" y1="578.3" x2="173.8" y2="638.2" stroke="#e2e2e2" stroke-width="0.4" opacity="1"/>
<line x1="193.4" y1="584.4" x2="177.3" y2="648.7" stroke="#e2e2e2" stroke-width="0.4" opacity="1"/>
<line x1="201.3" y1="590.6" x2="180.8" y2="659.2" stroke="#e2e2e2" stroke-width="0.4" opacity="1"/>
<line x1="169.3" y1="573.3" x2="205.6" y2="607.1" stroke="#e2e2e2" stroke-width="0.4" opacity="1"/>
<line x1="168.9" y1="580.6" x2="202.1" y2="617.6" stroke="#e2e2e2" stroke-width="0.4" opacity="1"/>
<line x1="168.5" y1="587.9" x2="198.5" y2="628.0" stroke="#e2e2e2" stroke-width="0.4" opacity="1"/>
<line x1="168.0" y1="595.3" x2="195.0" y2="638.4" stroke="#e2e2e2" stroke-width="0.4" opacity="1"/>
<line x1="167.6" y1="602.6" x2="191.4" y2="648.8" stroke="#e2e2e2" stroke-width="0.4" opacity="1"/>
<line x1="167.2" y1="609.9" x2="187.9" y2="659.3" stroke="#e2e2e2" stroke-width="0.4" opacity="1"/>
<path d="M66.1,601.0 C66.6,595.7 67.8,591.6 70.5,588.0 C73.2,584.4 77.8,581.4 82.2,579.2 C86.6,577.0 91.0,575.8 96.8,574.8 C102.6,573.8 110.4,573.4 117.2,573.4 C124.0,573.4 131.8,573.8 137.6,574.8 C143.4,575.8 148.3,577.0 152.2,579.2 C156.1,581.4 158.6,584.6 161.0,588.0 C163.4,591.4 165.6,595.2 166.8,599.6 C168.0,604.0 168.8,609.3 168.3,614.2 C167.8,619.1 166.6,624.9 163.9,628.8 C161.2,632.7 157.5,635.2 152.2,637.6 C146.8,640.0 138.6,642.4 131.8,643.4 C125.0,644.4 118.2,644.1 111.4,643.4 C104.6,642.7 96.8,640.9 90.9,639.0 C85.1,637.1 80.2,635.0 76.3,631.8 C72.4,628.6 69.3,625.1 67.6,620.0 C65.9,614.9 65.6,606.3 66.1,601.0Z" fill="#e5e5e5" filter="url(#bl1)"/>
<path d="M66.1,601.0 C66.6,595.7 67.8,591.6 70.5,588.0 C73.2,584.4 77.8,581.4 82.2,579.2 C86.6,577.0 91.0,575.8 96.8,574.8 C102.6,573.8 110.4,573.4 117.2,573.4 C124.0,573.4 131.8,573.8 137.6,574.8 C143.4,575.8 148.3,577.0 152.2,579.2 C156.1,581.4 158.6,584.6 161.0,588.0 C163.4,591.4 165.6,595.2 166.8,599.6 C168.0,604.0 168.8,609.3 168.3,614.2 C167.8,619.1 166.6,624.9 163.9,628.8 C161.2,632.7 157.5,635.2 152.2,637.6 C146.8,640.0 138.6,642.4 131.8,643.4 C125.0,644.4 118.2,644.1 111.4,643.4 C104.6,642.7 96.8,640.9 90.9,639.0 C85.1,637.1 80.2,635.0 76.3,631.8 C72.4,628.6 69.3,625.1 67.6,620.0 C65.9,614.9 65.6,606.3 66.1,601.0Z" fill="none" stroke="#d2d2d2" stroke-width="2" filter="url(#bl1)" opacity="1"/>
<ellipse cx="112" cy="610" rx="38" ry="24" fill="#e0e0e0" filter="url(#bl3)"/>
<path d="M110.6 587.7h0M129.0 579.6h0M94.3 606.9h0M161.2 593.9h0M119.5 611.8h0M119.3 580.7h0M73.3 611.2h0M67.9 613.2h0M116.9 636.2h0M113.6 618.4h0M129.3 640.4h0M154.2 606.3h0M78.4 619.2h0M106.4 640.8h0M131.7 581.9h0M125.2 625.3h0M83.9 602.1h0M110.1 580.1h0M83.0 591.3h0" stroke="#888" stroke-width="1.20" stroke-linecap="round" opacity="0.18" fill="none"/>
<path d="M109.3 629.0h0M129.6 631.6h0M79.9 587.4h0M105.0 578.3h0M81.0 612.3h0M115.6 605.6h0M135.2 618.7h0M96.9 631.3h0M136.5 604.3h0" stroke="#888" stroke-width="1.80" stroke-linecap="round" opacity="0.18" fill="none"/>
<path d="M79.9 610.5h0M118.8 603.3h0M141.6 598.3h0M91.5 594.2h0M87.0 628.1h0M147.0 613.9h0M140.7 580.6h0M125.4 600.2h0M74.1 599.1h0M131.4 603.0h0M108.6 629.9h0M158.4 607.1h0M119.7 623.6h0M104.3 616.2h0M90.8 619.4h0M92.4 613.1h0M121.3 614.6h0M112.1 583.6h0M130.5 587.5h0M144.7 626.9h0M158.6 616.7h0M106.5 594.1h0" stroke="#888" stroke-width="1.60" stroke-linecap="round" opacity="0.18" fill="none"/>
<path d="M134.3 605.8h0M125.3 591.3h0M163.8 616.7h0M132.8 581.6h0M107.7 595.9h0M112.4 583.5h0M134.4 628.9h0M139.5 584.2h0M113.5 611.7h0M116.1 577.7h0M85.9 600.1h0M112.0 583.5h0M105.7 594.8h0M131.4 587.0h0M97.5 621.1h0M118.1 629.5h0M150.6 619.6h0M123.9 577.2h0M89.1 596.2h0" stroke="#888" stroke-width="0.80" stroke-linecap="round" opacity="0.18" fill="none"/>
<path d="M115.8 577.6h0M94.5 583.6h0M122.9 619.3h0M148.7 630.0h0M85.9 603.4h0M130.2 583.8h0M93.7 604.7h0M78.6 619.5h0M90.9 600.0h0M89.9 602.0h0M121.6 634.8h0M85.0 616.6h0M133.9 581.4h0M86.1 612.0h0M112.6 635.1h0M115.9 623.6h0M145.5 604.8h0M89.5 591.5h0M104.8 629.6h0M111.1 618.9h0M99.9 587.3h0M140.8 578.6h0" stroke="#888" stroke-width="1.40" stroke-linecap="round" opacity="0.18" fill="none"/>
<path d="M107.1 601.0h0M117.3 585.0h0M142.4 585.0h0M143.8 614.2h0M156.0 614.2h0M88.0 613.8h0M160.4 594.4h0M126.0 576.6h0M164.4 613.1h0M89.6 619.5h0M102.3 628.6h0M122.2 614.6h0M107.1 615.8h0M86.8 585.3h0M82.7 610.7h0M130.6 583.9h0M136.5 596.7h0M101.7 637.8h0M143.7 617.4h0" stroke="#888" stroke-width="1.00" stroke-linecap="round" opacity="0.18" fill="none"/>
<path d="M128.0 590.9h0M134.8 639.7h0M141.9 583.7h0M140.1 635.7h0M79.9 601.5h0M72.2 607.0h0M156.9 594.4h0M105.0 623.1h0M125.5 615.9h0M148.2 626.5h0" stroke="#888" stroke-width="0.60" stroke-linecap="round" opacity="0.18" fill="none"/>
<line x1="73.4" y1="559.3" x2="169.7" y2="566" stroke="#6a6a6a" stroke-width="0.5" stroke-dasharray="1.6,0.9" opacity="1"/>
<line x1="73.4" y1="559.3" x2="28.1" y2="588" stroke="#6a6a6a" stroke-width="0.5" stroke-dasharray="1.6,0.9" opacity="1"/>
<line x1="169.7" y1="566" x2="209.2" y2="596.7" stroke="#6a6a6a" stroke-width="0.5" stroke-dasharray="1.6,0.9" opacity="1"/>
<line x1="28.1" y1="588" x2="209.2" y2="596.7" stroke="#6a6a6a" stroke-width="0.5" stroke-dasharray="1.6,0.9" opacity="1"/>
<line x1="28.1" y1="588" x2="53" y2="671.2" stroke="#6a6a6a" stroke-width="0.5" stroke-dasharray="1.6,0.9" opacity="1"/>
<line x1="209.2" y1="596.7" x2="184.3" y2="669.7" stroke="#6a6a6a" stroke-width="0.5" stroke-dasharray="1.6,0.9" opacity="1"/>
<line x1="53" y1="671.2" x2="184.3" y2="669.7" stroke="#6a6a6a" stroke-width="0.5" stroke-dasharray="1.6,0.9" opacity="1"/>
<line x1="73.4" y1="559.3" x2="74.9" y2="615.7" stroke="#6a6a6a" stroke-width="0.5" stroke-dasharray="1.6,0.9" opacity="1"/>
<line x1="169.7" y1="566" x2="166.8" y2="617.2" stroke="#6a6a6a" stroke-width="0.5" stroke-dasharray="1.6,0.9" opacity="1"/>
<line x1="74.9" y1="615.7" x2="166.8" y2="617.2" stroke="#6a6a6a" stroke-width="0.5" stroke-dasharray="1.6,0.9" opacity="1"/>
<line x1="74.9" y1="615.7" x2="53" y2="671.2" stroke="#6a6a6a" stroke-width="0.5" stroke-dasharray="1.6,0.9" opacity="1"/>
<line x1="166.8" y1="617.2" x2="184.3" y2="669.7" stroke="#6a6a6a" stroke-width="0.5" stroke-dasharray="1.6,0.9" opacity="1"/>
<path d="M124.9 593.2h0M119.0 594.1h0M114.6 596.4h0M125.4 591.5h0M121.5 589.9h0M115.7 593.1h0M117.2 594.1h0M118.6 593.7h0M116.5 593.6h0M114.8 596.8h0M117.2 595.4h0M117.4 592.7h0M116.3 590.5h0M125.3 593.8h0M117.5 592.1h0M122.1 592.4h0M115.2 592.0h0M123.1 593.6h0M116.4 591.8h0M122.1 593.6h0M115.7 594.7h0M120.5 591.1h0M121.6 595.1h0M116.0 590.5h0M121.4 592.3h0" stroke="#E0307A" stroke-width="1.10" stroke-linecap="round" opacity="1.0" fill="none"/>
<path d="M102.7 602.2h0M102.6 605.4h0M101.4 604.5h0M104.7 606.0h0M104.1 603.8h0M102.7 602.7h0M101.7 607.8h0M102.8 600.1h0M104.2 607.3h0M103.4 602.1h0M101.4 604.9h0M102.6 601.1h0" stroke="#E0307A" stroke-width="1.10" stroke-linecap="round" opacity="1.0" fill="none"/>
<path d="M117.8 617.3h0M118.2 614.0h0M114.2 616.9h0M115.3 623.3h0M112.2 624.9h0M114.0 619.6h0M119.0 618.9h0M120.3 620.4h0M115.7 618.3h0M119.4 620.8h0M114.6 618.3h0M114.1 620.7h0M113.9 623.3h0M115.9 619.2h0M117.4 625.1h0M109.9 622.0h0M119.2 621.4h0M118.5 616.6h0M113.8 623.9h0M115.8 621.2h0M117.9 622.1h0M117.4 619.6h0M115.2 624.7h0M114.6 616.9h0M115.0 623.6h0M121.3 621.4h0M114.2 622.7h0M116.9 624.4h0M117.6 623.2h0M117.5 622.2h0" stroke="#E0307A" stroke-width="1.10" stroke-linecap="round" opacity="1.0" fill="none"/>
<path d="M122.2 614.8h0M127.2 616.9h0M125.9 615.6h0M123.8 615.5h0M123.4 616.6h0M123.4 613.9h0M120.9 617.2h0M122.6 613.8h0" stroke="#E0307A" stroke-width="1.10" stroke-linecap="round" opacity="1.0" fill="none"/>
<text x="18.6" y="673.8" font-size="7.2" font-weight="bold" text-anchor="start" fill="#111" >1500 µm</text>
<path d="M28.5,676.4H38.3" stroke="#111" stroke-width="1.1"/>
<circle cx="123.2" cy="682.4" r="3.5" fill="#E040A0"/>
<text x="129.6" y="687.5" font-size="10.4" text-anchor="start" fill="#222" >BRAF-V600E</text>
<text x="401.5" y="12.3" font-size="11" font-weight="bold" text-anchor="start" fill="#000" >B</text>
<path d="M465.7,43.5V207.8H661.5" stroke="#000" stroke-width="1" fill="none"/>
<path d="M462.7,207.8H465.7" stroke="#000" stroke-width="1"/>
<text x="456.6" y="211.4" font-size="10.3" font-weight="bold" text-anchor="end" fill="#000" >0</text>
<path d="M462.7,184.4H465.7" stroke="#000" stroke-width="1"/>
<text x="456.6" y="187.97" font-size="10.3" font-weight="bold" text-anchor="end" fill="#000" >100</text>
<path d="M462.7,160.9H465.7" stroke="#000" stroke-width="1"/>
<text x="456.6" y="164.54" font-size="10.3" font-weight="bold" text-anchor="end" fill="#000" >200</text>
<path d="M462.7,137.5H465.7" stroke="#000" stroke-width="1"/>
<text x="456.6" y="141.11" font-size="10.3" font-weight="bold" text-anchor="end" fill="#000" >300</text>
<path d="M462.7,114.1H465.7" stroke="#000" stroke-width="1"/>
<text x="456.6" y="117.68" font-size="10.3" font-weight="bold" text-anchor="end" fill="#000" >400</text>
<path d="M462.7,90.7H465.7" stroke="#000" stroke-width="1"/>
<text x="456.6" y="94.25" font-size="10.3" font-weight="bold" text-anchor="end" fill="#000" >500</text>
<path d="M462.7,67.2H465.7" stroke="#000" stroke-width="1"/>
<text x="456.6" y="70.82000000000002" font-size="10.3" font-weight="bold" text-anchor="end" fill="#000" >600</text>
<path d="M462.7,43.8H465.7" stroke="#000" stroke-width="1"/>
<text x="456.6" y="47.39000000000002" font-size="10.3" font-weight="bold" text-anchor="end" fill="#000" >700</text>
<path d="M465.7,207.8V210.8" stroke="#000" stroke-width="1"/>
<text x="465.7" y="224.8" font-size="10.3" font-weight="bold" text-anchor="middle" fill="#000" >5</text>
<path d="M487.4,207.8V210.8" stroke="#000" stroke-width="1"/>
<text x="487.375" y="224.8" font-size="10.3" font-weight="bold" text-anchor="middle" fill="#000" >15</text>
<path d="M509.1,207.8V210.8" stroke="#000" stroke-width="1"/>
<text x="509.05" y="224.8" font-size="10.3" font-weight="bold" text-anchor="middle" fill="#000" >25</text>
<path d="M530.7,207.8V210.8" stroke="#000" stroke-width="1"/>
<text x="530.725" y="224.8" font-size="10.3" font-weight="bold" text-anchor="middle" fill="#000" >35</text>
<path d="M552.4,207.8V210.8" stroke="#000" stroke-width="1"/>
<text x="552.4" y="224.8" font-size="10.3" font-weight="bold" text-anchor="middle" fill="#000" >45</text>
<path d="M574.1,207.8V210.8" stroke="#000" stroke-width="1"/>
<text x="574.075" y="224.8" font-size="10.3" font-weight="bold" text-anchor="middle" fill="#000" >55</text>
<path d="M595.8,207.8V210.8" stroke="#000" stroke-width="1"/>
<text x="595.75" y="224.8" font-size="10.3" font-weight="bold" text-anchor="middle" fill="#000" >65</text>
<path d="M617.4,207.8V210.8" stroke="#000" stroke-width="1"/>
<text x="617.425" y="224.8" font-size="10.3" font-weight="bold" text-anchor="middle" fill="#000" >75</text>
<path d="M639.1,207.8V210.8" stroke="#000" stroke-width="1"/>
<text x="639.1" y="224.8" font-size="10.3" font-weight="bold" text-anchor="middle" fill="#000" >85</text>
<path d="M660.8,207.8V210.8" stroke="#000" stroke-width="1"/>
<text x="660.775" y="224.8" font-size="10.3" font-weight="bold" text-anchor="middle" fill="#000" >95</text>
<text x="558.5" y="242.6" font-size="11.5" font-weight="bold" text-anchor="middle" fill="#000" >Days</text>
<text x="0" y="0" font-size="12.4" font-weight="bold" text-anchor="middle" fill="#000" transform="translate(429.4,110.6) rotate(-90)">Tumor volume (mm3)</text>
<path d="M484,41.2H509" stroke="#000" stroke-width="1.2"/>
<path d="M496.6,39.0 L498.8,41.2 L496.6,43.4 L494.4,41.2Z" fill="#000"/>
<text x="511.5" y="44.900000000000006" font-size="10.5" font-weight="bold" text-anchor="start" fill="#000" >Vehicle</text>
<path d="M484,53.8H509" stroke="#CC44CC" stroke-width="1.2"/>
<rect x="494.6" y="51.8" width="4" height="4" fill="#CC44CC"/>
<text x="511.5" y="57.5" font-size="10.5" font-weight="bold" text-anchor="start" fill="#000" >Osim</text>
<path d="M484,67.2H509" stroke="#00B050" stroke-width="1.2"/>
<path d="M496.6,64.7 L498.9,69.5 L494.4,69.5Z" fill="#00B050"/>
<text x="511.5" y="70.9" font-size="10.5" font-weight="bold" text-anchor="start" fill="#000" >Soraf</text>
<path d="M484,80.6H509" stroke="#2F5597" stroke-width="1.2"/>
<circle cx="496.6" cy="80.6" r="2.2" fill="#2F5597"/>
<text x="511.5" y="84.3" font-size="10.5" font-weight="bold" text-anchor="start" fill="#000" >Combo</text>
<text x="627.8" y="185.7" font-size="10.4" font-weight="bold" text-anchor="start" fill="#000" >p=1.3 x 10</text>
<text x="678" y="181.2" font-size="7" font-weight="bold" text-anchor="start" fill="#000" >-5</text>
<path d="M484.3,205.3V209.3M481.7,205.3h5.2M481.7,209.3h5.2" stroke="#A6A6A6" stroke-width="0.9" fill="none"/>
<path d="M501.8,199.4V205.4M499.2,199.4h5.2M499.2,205.4h5.2" stroke="#A6A6A6" stroke-width="0.9" fill="none"/>
<path d="M514.8,191.6V199.6M512.2,191.6h5.2M512.2,199.6h5.2" stroke="#A6A6A6" stroke-width="0.9" fill="none"/>
<path d="M519.2,185.0V195.0M516.6,185.0h5.2M516.6,195.0h5.2" stroke="#A6A6A6" stroke-width="0.9" fill="none"/>
<path d="M527.3,177.7V187.7M524.7,177.7h5.2M524.7,187.7h5.2" stroke="#A6A6A6" stroke-width="0.9" fill="none"/>
<path d="M533.7,166.9V178.9M531.1,166.9h5.2M531.1,178.9h5.2" stroke="#A6A6A6" stroke-width="0.9" fill="none"/>
<path d="M544.3,157.0V171.0M541.7,157.0h5.2M541.7,171.0h5.2" stroke="#A6A6A6" stroke-width="0.9" fill="none"/>
<path d="M548.8,143.5V159.5M546.2,143.5h5.2M546.2,159.5h5.2" stroke="#A6A6A6" stroke-width="0.9" fill="none"/>
<path d="M557.2,128.0V146.0M554.6,128.0h5.2M554.6,146.0h5.2" stroke="#A6A6A6" stroke-width="0.9" fill="none"/>
<path d="M563.7,117.2V133.2M561.1,117.2h5.2M561.1,133.2h5.2" stroke="#A6A6A6" stroke-width="0.9" fill="none"/>
<path d="M572.6,97.7V117.7M570.0,97.7h5.2M570.0,117.7h5.2" stroke="#A6A6A6" stroke-width="0.9" fill="none"/>
<path d="M577.0,46.2V102.2M574.4,46.2h5.2M574.4,102.2h5.2" stroke="#A6A6A6" stroke-width="0.9" fill="none"/>
<path d="M484.3,205.1V209.1M481.7,205.1h5.2M481.7,209.1h5.2" stroke="#A6A6A6" stroke-width="0.9" fill="none"/>
<path d="M501.8,200.0V206.0M499.2,200.0h5.2M499.2,206.0h5.2" stroke="#A6A6A6" stroke-width="0.9" fill="none"/>
<path d="M514.8,195.0V203.0M512.2,195.0h5.2M512.2,203.0h5.2" stroke="#A6A6A6" stroke-width="0.9" fill="none"/>
<path d="M519.2,191.4V201.4M516.6,191.4h5.2M516.6,201.4h5.2" stroke="#A6A6A6" stroke-width="0.9" fill="none"/>
<path d="M527.3,194.7V204.7M524.7,194.7h5.2M524.7,204.7h5.2" stroke="#A6A6A6" stroke-width="0.9" fill="none"/>
<path d="M533.7,194.5V206.5M531.1,194.5h5.2M531.1,206.5h5.2" stroke="#A6A6A6" stroke-width="0.9" fill="none"/>
<path d="M544.3,191.0V205.0M541.7,191.0h5.2M541.7,205.0h5.2" stroke="#A6A6A6" stroke-width="0.9" fill="none"/>
<path d="M548.8,189.9V203.9M546.2,189.9h5.2M546.2,203.9h5.2" stroke="#A6A6A6" stroke-width="0.9" fill="none"/>
<path d="M557.2,190.8V202.8M554.6,190.8h5.2M554.6,202.8h5.2" stroke="#A6A6A6" stroke-width="0.9" fill="none"/>
<path d="M565.2,190.2V202.2M562.6,190.2h5.2M562.6,202.2h5.2" stroke="#A6A6A6" stroke-width="0.9" fill="none"/>
<path d="M572.6,190.2V202.2M570.0,190.2h5.2M570.0,202.2h5.2" stroke="#A6A6A6" stroke-width="0.9" fill="none"/>
<path d="M577.0,186.4V198.4M574.4,186.4h5.2M574.4,198.4h5.2" stroke="#A6A6A6" stroke-width="0.9" fill="none"/>
<path d="M585.9,182.8V194.8M583.3,182.8h5.2M583.3,194.8h5.2" stroke="#A6A6A6" stroke-width="0.9" fill="none"/>
<path d="M592.7,174.8V186.8M590.1,174.8h5.2M590.1,186.8h5.2" stroke="#A6A6A6" stroke-width="0.9" fill="none"/>
<path d="M600.7,178.5V188.5M598.1,178.5h5.2M598.1,188.5h5.2" stroke="#A6A6A6" stroke-width="0.9" fill="none"/>
<path d="M607.5,180.3V190.3M604.9,180.3h5.2M604.9,190.3h5.2" stroke="#A6A6A6" stroke-width="0.9" fill="none"/>
<path d="M616.1,168.6V180.6M613.5,168.6h5.2M613.5,180.6h5.2" stroke="#A6A6A6" stroke-width="0.9" fill="none"/>
<path d="M622.9,153.0V169.0M620.3,153.0h5.2M620.3,169.0h5.2" stroke="#A6A6A6" stroke-width="0.9" fill="none"/>
<path d="M630.9,153.2V171.2M628.3,153.2h5.2M628.3,171.2h5.2" stroke="#A6A6A6" stroke-width="0.9" fill="none"/>
<path d="M637.7,151.2V167.2M635.1,151.2h5.2M635.1,167.2h5.2" stroke="#A6A6A6" stroke-width="0.9" fill="none"/>
<path d="M646.0,148.3V168.3M643.4,148.3h5.2M643.4,168.3h5.2" stroke="#A6A6A6" stroke-width="0.9" fill="none"/>
<path d="M652.6,140.1V164.1M650.0,140.1h5.2M650.0,164.1h5.2" stroke="#A6A6A6" stroke-width="0.9" fill="none"/>
<path d="M484.3,206.8V208.8M481.7,206.8h5.2M481.7,208.8h5.2" stroke="#A6A6A6" stroke-width="0.9" fill="none"/>
<path d="M501.8,204.2V208.2M499.2,204.2h5.2M499.2,208.2h5.2" stroke="#A6A6A6" stroke-width="0.9" fill="none"/>
<path d="M514.8,198.3V204.3M512.2,198.3h5.2M512.2,204.3h5.2" stroke="#A6A6A6" stroke-width="0.9" fill="none"/>
<path d="M519.2,195.2V203.2M516.6,195.2h5.2M516.6,203.2h5.2" stroke="#A6A6A6" stroke-width="0.9" fill="none"/>
<path d="M527.3,191.0V201.0M524.7,191.0h5.2M524.7,201.0h5.2" stroke="#A6A6A6" stroke-width="0.9" fill="none"/>
<path d="M533.7,189.3V201.3M531.1,189.3h5.2M531.1,201.3h5.2" stroke="#A6A6A6" stroke-width="0.9" fill="none"/>
<path d="M544.3,188.3V200.3M541.7,188.3h5.2M541.7,200.3h5.2" stroke="#A6A6A6" stroke-width="0.9" fill="none"/>
<path d="M548.9,184.2V198.2M546.3,184.2h5.2M546.3,198.2h5.2" stroke="#A6A6A6" stroke-width="0.9" fill="none"/>
<path d="M557.8,180.2V196.2M555.2,180.2h5.2M555.2,196.2h5.2" stroke="#A6A6A6" stroke-width="0.9" fill="none"/>
<path d="M563.7,178.5V194.5M561.1,178.5h5.2M561.1,194.5h5.2" stroke="#A6A6A6" stroke-width="0.9" fill="none"/>
<path d="M572.6,168.4V184.4M570.0,168.4h5.2M570.0,184.4h5.2" stroke="#A6A6A6" stroke-width="0.9" fill="none"/>
<path d="M577.0,159.1V177.1M574.4,159.1h5.2M574.4,177.1h5.2" stroke="#A6A6A6" stroke-width="0.9" fill="none"/>
<path d="M585.9,144.3V156.3M583.3,144.3h5.2M583.3,156.3h5.2" stroke="#A6A6A6" stroke-width="0.9" fill="none"/>
<path d="M592.7,135.1V143.1M590.1,135.1h5.2M590.1,143.1h5.2" stroke="#A6A6A6" stroke-width="0.9" fill="none"/>
<path d="M484.3,205.0V209.0M481.7,205.0h5.2M481.7,209.0h5.2" stroke="#A6A6A6" stroke-width="0.9" fill="none"/>
<path d="M501.8,200.4V204.4M499.2,200.4h5.2M499.2,204.4h5.2" stroke="#A6A6A6" stroke-width="0.9" fill="none"/>
<path d="M514.8,193.0V199.0M512.2,193.0h5.2M512.2,199.0h5.2" stroke="#A6A6A6" stroke-width="0.9" fill="none"/>
<path d="M519.2,188.0V196.0M516.6,188.0h5.2M516.6,196.0h5.2" stroke="#A6A6A6" stroke-width="0.9" fill="none"/>
<path d="M527.3,195.9V201.9M524.7,195.9h5.2M524.7,201.9h5.2" stroke="#A6A6A6" stroke-width="0.9" fill="none"/>
<path d="M533.7,199.4V205.4M531.1,199.4h5.2M531.1,205.4h5.2" stroke="#A6A6A6" stroke-width="0.9" fill="none"/>
<path d="M544.3,204.2V207.2M541.7,204.2h5.2M541.7,207.2h5.2" stroke="#A6A6A6" stroke-width="0.9" fill="none"/>
<path d="M548.8,204.2V207.2M546.2,204.2h5.2M546.2,207.2h5.2" stroke="#A6A6A6" stroke-width="0.9" fill="none"/>
<path d="M553.0,204.2V207.2M550.4,204.2h5.2M550.4,207.2h5.2" stroke="#A6A6A6" stroke-width="0.9" fill="none"/>
<path d="M557.2,204.2V207.2M554.6,204.2h5.2M554.6,207.2h5.2" stroke="#A6A6A6" stroke-width="0.9" fill="none"/>
<path d="M562.0,204.4V207.4M559.4,204.4h5.2M559.4,207.4h5.2" stroke="#A6A6A6" stroke-width="0.9" fill="none"/>
<path d="M566.0,204.2V207.2M563.4,204.2h5.2M563.4,207.2h5.2" stroke="#A6A6A6" stroke-width="0.9" fill="none"/>
<path d="M571.0,204.4V207.4M568.4,204.4h5.2M568.4,207.4h5.2" stroke="#A6A6A6" stroke-width="0.9" fill="none"/>
<path d="M576.0,203.8V206.8M573.4,203.8h5.2M573.4,206.8h5.2" stroke="#A6A6A6" stroke-width="0.9" fill="none"/>
<path d="M580.0,204.3V207.3M577.4,204.3h5.2M577.4,207.3h5.2" stroke="#A6A6A6" stroke-width="0.9" fill="none"/>
<path d="M586.0,204.0V207.0M583.4,204.0h5.2M583.4,207.0h5.2" stroke="#A6A6A6" stroke-width="0.9" fill="none"/>
<path d="M590.0,203.3V206.3M587.4,203.3h5.2M587.4,206.3h5.2" stroke="#A6A6A6" stroke-width="0.9" fill="none"/>
<path d="M594.0,203.7V206.7M591.4,203.7h5.2M591.4,206.7h5.2" stroke="#A6A6A6" stroke-width="0.9" fill="none"/>
<path d="M600.0,203.5V206.5M597.4,203.5h5.2M597.4,206.5h5.2" stroke="#A6A6A6" stroke-width="0.9" fill="none"/>
<path d="M604.0,203.4V206.4M601.4,203.4h5.2M601.4,206.4h5.2" stroke="#A6A6A6" stroke-width="0.9" fill="none"/>
<path d="M608.0,203.7V206.7M605.4,203.7h5.2M605.4,206.7h5.2" stroke="#A6A6A6" stroke-width="0.9" fill="none"/>
<path d="M613.0,203.5V206.5M610.4,203.5h5.2M610.4,206.5h5.2" stroke="#A6A6A6" stroke-width="0.9" fill="none"/>
<path d="M617.0,203.7V206.7M614.4,203.7h5.2M614.4,206.7h5.2" stroke="#A6A6A6" stroke-width="0.9" fill="none"/>
<path d="M622.0,203.9V206.9M619.4,203.9h5.2M619.4,206.9h5.2" stroke="#A6A6A6" stroke-width="0.9" fill="none"/>
<path d="M627.0,203.7V206.7M624.4,203.7h5.2M624.4,206.7h5.2" stroke="#A6A6A6" stroke-width="0.9" fill="none"/>
<path d="M633.0,203.6V206.6M630.4,203.6h5.2M630.4,206.6h5.2" stroke="#A6A6A6" stroke-width="0.9" fill="none"/>
<path d="M637.0,203.5V206.5M634.4,203.5h5.2M634.4,206.5h5.2" stroke="#A6A6A6" stroke-width="0.9" fill="none"/>
<path d="M641.0,203.4V206.4M638.4,203.4h5.2M638.4,206.4h5.2" stroke="#A6A6A6" stroke-width="0.9" fill="none"/>
<path d="M646.0,203.1V206.1M643.4,203.1h5.2M643.4,206.1h5.2" stroke="#A6A6A6" stroke-width="0.9" fill="none"/>
<path d="M649.0,202.5V205.5M646.4,202.5h5.2M646.4,205.5h5.2" stroke="#A6A6A6" stroke-width="0.9" fill="none"/>
<path d="M652.6,200.2V206.2M650.0,200.2h5.2M650.0,206.2h5.2" stroke="#A6A6A6" stroke-width="0.9" fill="none"/>
<polyline points="466.0,208.0 484.3,207.8 501.8,206.2 514.8,201.3 519.2,199.2 527.3,196.0 533.7,195.3 544.3,194.3 548.9,191.2 557.8,188.2 563.7,186.5 572.6,176.4 577.0,168.1 585.9,150.3 592.7,139.1" fill="none" stroke="#00B050" stroke-width="1.2" stroke-linejoin="round"/>
<path d="M484.3,205.1 L486.7,210.2 L481.9,210.2Z" fill="#00B050"/>
<path d="M501.8,203.5 L504.2,208.6 L499.4,208.6Z" fill="#00B050"/>
<path d="M514.8,198.6 L517.2,203.7 L512.4,203.7Z" fill="#00B050"/>
<path d="M519.2,196.5 L521.6,201.6 L516.8,201.6Z" fill="#00B050"/>
<path d="M527.3,193.3 L529.7,198.4 L524.9,198.4Z" fill="#00B050"/>
<path d="M533.7,192.6 L536.1,197.7 L531.3,197.7Z" fill="#00B050"/>
<path d="M544.3,191.6 L546.7,196.7 L541.9,196.7Z" fill="#00B050"/>
<path d="M548.9,188.5 L551.3,193.6 L546.5,193.6Z" fill="#00B050"/>
<path d="M557.8,185.5 L560.2,190.6 L555.4,190.6Z" fill="#00B050"/>
<path d="M563.7,183.8 L566.1,188.9 L561.3,188.9Z" fill="#00B050"/>
<path d="M572.6,173.7 L575.0,178.8 L570.2,178.8Z" fill="#00B050"/>
<path d="M577.0,165.4 L579.4,170.5 L574.6,170.5Z" fill="#00B050"/>
<path d="M585.9,147.6 L588.3,152.7 L583.5,152.7Z" fill="#00B050"/>
<path d="M592.7,136.4 L595.1,141.5 L590.3,141.5Z" fill="#00B050"/>
<polyline points="466.0,208.0 484.3,207.1 501.8,203.0 514.8,199.0 519.2,196.4 527.3,199.7 533.7,200.5 544.3,198.0 548.8,196.9 557.2,196.8 565.2,196.2 572.6,196.2 577.0,192.4 585.9,188.8 592.7,180.8 600.7,183.5 607.5,185.3 616.1,174.6 622.9,161.0 630.9,162.2 637.7,159.2 646.0,158.3 652.6,152.1" fill="none" stroke="#CC44CC" stroke-width="1.2" stroke-linejoin="round"/>
<rect x="482.2" y="204.9" width="4.3" height="4.3" fill="#CC44CC"/>
<rect x="499.7" y="200.8" width="4.3" height="4.3" fill="#CC44CC"/>
<rect x="512.6" y="196.8" width="4.3" height="4.3" fill="#CC44CC"/>
<rect x="517.1" y="194.2" width="4.3" height="4.3" fill="#CC44CC"/>
<rect x="525.1" y="197.5" width="4.3" height="4.3" fill="#CC44CC"/>
<rect x="531.6" y="198.3" width="4.3" height="4.3" fill="#CC44CC"/>
<rect x="542.1" y="195.8" width="4.3" height="4.3" fill="#CC44CC"/>
<rect x="546.6" y="194.8" width="4.3" height="4.3" fill="#CC44CC"/>
<rect x="555.1" y="194.7" width="4.3" height="4.3" fill="#CC44CC"/>
<rect x="563.1" y="194.0" width="4.3" height="4.3" fill="#CC44CC"/>
<rect x="570.5" y="194.0" width="4.3" height="4.3" fill="#CC44CC"/>
<rect x="574.9" y="190.2" width="4.3" height="4.3" fill="#CC44CC"/>
<rect x="583.8" y="186.7" width="4.3" height="4.3" fill="#CC44CC"/>
<rect x="590.6" y="178.7" width="4.3" height="4.3" fill="#CC44CC"/>
<rect x="598.6" y="181.3" width="4.3" height="4.3" fill="#CC44CC"/>
<rect x="605.4" y="183.2" width="4.3" height="4.3" fill="#CC44CC"/>
<rect x="614.0" y="172.4" width="4.3" height="4.3" fill="#CC44CC"/>
<rect x="620.8" y="158.8" width="4.3" height="4.3" fill="#CC44CC"/>
<rect x="628.8" y="160.0" width="4.3" height="4.3" fill="#CC44CC"/>
<rect x="635.6" y="157.0" width="4.3" height="4.3" fill="#CC44CC"/>
<rect x="643.9" y="156.2" width="4.3" height="4.3" fill="#CC44CC"/>
<rect x="650.5" y="149.9" width="4.3" height="4.3" fill="#CC44CC"/>
<polyline points="466.0,208.0 484.3,207.0 501.8,202.4 514.8,196.0 519.2,192.0 527.3,198.9 533.7,202.4 544.3,205.7 548.8,205.7 553.0,205.7 557.2,205.7 562.0,205.9 566.0,205.7 571.0,205.9 576.0,205.3 580.0,205.8 586.0,205.5 590.0,204.8 594.0,205.2 600.0,205.0 604.0,204.9 608.0,205.2 613.0,205.0 617.0,205.2 622.0,205.4 627.0,205.2 633.0,205.1 637.0,205.0 641.0,204.9 646.0,204.6 649.0,204.0 652.6,203.2" fill="none" stroke="#2F5597" stroke-width="1.2" stroke-linejoin="round"/>
<circle cx="484.3" cy="207.0" r="2.1" fill="#2F5597"/>
<circle cx="501.8" cy="202.4" r="2.1" fill="#2F5597"/>
<circle cx="514.8" cy="196.0" r="2.1" fill="#2F5597"/>
<circle cx="519.2" cy="192.0" r="2.1" fill="#2F5597"/>
<circle cx="527.3" cy="198.9" r="2.1" fill="#2F5597"/>
<circle cx="533.7" cy="202.4" r="2.1" fill="#2F5597"/>
<circle cx="544.3" cy="205.7" r="2.1" fill="#2F5597"/>
<circle cx="548.8" cy="205.7" r="2.1" fill="#2F5597"/>
<circle cx="553.0" cy="205.7" r="2.1" fill="#2F5597"/>
<circle cx="557.2" cy="205.7" r="2.1" fill="#2F5597"/>
<circle cx="562.0" cy="205.9" r="2.1" fill="#2F5597"/>
<circle cx="566.0" cy="205.7" r="2.1" fill="#2F5597"/>
<circle cx="571.0" cy="205.9" r="2.1" fill="#2F5597"/>
<circle cx="576.0" cy="205.3" r="2.1" fill="#2F5597"/>
<circle cx="580.0" cy="205.8" r="2.1" fill="#2F5597"/>
<circle cx="586.0" cy="205.5" r="2.1" fill="#2F5597"/>
<circle cx="590.0" cy="204.8" r="2.1" fill="#2F5597"/>
<circle cx="594.0" cy="205.2" r="2.1" fill="#2F5597"/>
<circle cx="600.0" cy="205.0" r="2.1" fill="#2F5597"/>
<circle cx="604.0" cy="204.9" r="2.1" fill="#2F5597"/>
<circle cx="608.0" cy="205.2" r="2.1" fill="#2F5597"/>
<circle cx="613.0" cy="205.0" r="2.1" fill="#2F5597"/>
<circle cx="617.0" cy="205.2" r="2.1" fill="#2F5597"/>
<circle cx="622.0" cy="205.4" r="2.1" fill="#2F5597"/>
<circle cx="627.0" cy="205.2" r="2.1" fill="#2F5597"/>
<circle cx="633.0" cy="205.1" r="2.1" fill="#2F5597"/>
<circle cx="637.0" cy="205.0" r="2.1" fill="#2F5597"/>
<circle cx="641.0" cy="204.9" r="2.1" fill="#2F5597"/>
<circle cx="646.0" cy="204.6" r="2.1" fill="#2F5597"/>
<circle cx="649.0" cy="204.0" r="2.1" fill="#2F5597"/>
<circle cx="652.6" cy="203.2" r="2.1" fill="#2F5597"/>
<polyline points="466.0,208.0 484.3,207.3 501.8,202.4 514.8,195.6 519.2,190.0 527.3,182.7 533.7,172.9 544.3,164.0 548.8,151.5 557.2,137.0 563.7,125.2 572.6,107.7 577.0,74.2" fill="none" stroke="#000" stroke-width="1.2" stroke-linejoin="round"/>
<path d="M484.3,204.9 L486.7,207.3 L484.3,209.7 L481.9,207.3Z" fill="#000"/>
<path d="M501.8,200.0 L504.2,202.4 L501.8,204.8 L499.4,202.4Z" fill="#000"/>
<path d="M514.8,193.2 L517.2,195.6 L514.8,198.0 L512.4,195.6Z" fill="#000"/>
<path d="M519.2,187.6 L521.6,190.0 L519.2,192.4 L516.8,190.0Z" fill="#000"/>
<path d="M527.3,180.3 L529.7,182.7 L527.3,185.1 L524.9,182.7Z" fill="#000"/>
<path d="M533.7,170.5 L536.1,172.9 L533.7,175.3 L531.3,172.9Z" fill="#000"/>
<path d="M544.3,161.6 L546.7,164.0 L544.3,166.4 L541.9,164.0Z" fill="#000"/>
<path d="M548.8,149.1 L551.2,151.5 L548.8,153.9 L546.4,151.5Z" fill="#000"/>
<path d="M557.2,134.6 L559.6,137.0 L557.2,139.4 L554.8,137.0Z" fill="#000"/>
<path d="M563.7,122.8 L566.1,125.2 L563.7,127.6 L561.3,125.2Z" fill="#000"/>
<path d="M572.6,105.3 L575.0,107.7 L572.6,110.1 L570.2,107.7Z" fill="#000"/>
<path d="M577.0,71.8 L579.4,74.2 L577.0,76.6 L574.6,74.2Z" fill="#000"/>
<path d="M510.2,154.3H513.7V168.5H516V168.5L511.95,173.2L507.9,168.5H510.2Z" fill="#000"/>
<text x="228.3" y="250.3" font-size="11" font-weight="bold" text-anchor="start" fill="#000" >D</text>
<path d="M263.3,266.6V444.8H632" stroke="#000" stroke-width="1" fill="none"/>
<path d="M260.3,444.8H263.3" stroke="#000" stroke-width="1"/>
<text x="254.6" y="448.6" font-size="10.4" font-weight="bold" text-anchor="end" fill="#000" >0</text>
<path d="M260.3,423.8H263.3" stroke="#000" stroke-width="1"/>
<text x="254.6" y="427.57" font-size="10.4" font-weight="bold" text-anchor="end" fill="#000" >100</text>
<path d="M260.3,402.7H263.3" stroke="#000" stroke-width="1"/>
<text x="254.6" y="406.54" font-size="10.4" font-weight="bold" text-anchor="end" fill="#000" >200</text>
<path d="M260.3,381.7H263.3" stroke="#000" stroke-width="1"/>
<text x="254.6" y="385.51000000000005" font-size="10.4" font-weight="bold" text-anchor="end" fill="#000" >300</text>
<path d="M260.3,360.7H263.3" stroke="#000" stroke-width="1"/>
<text x="254.6" y="364.48" font-size="10.4" font-weight="bold" text-anchor="end" fill="#000" >400</text>
<path d="M260.3,339.6H263.3" stroke="#000" stroke-width="1"/>
<text x="254.6" y="343.45" font-size="10.4" font-weight="bold" text-anchor="end" fill="#000" >500</text>
<path d="M260.3,318.6H263.3" stroke="#000" stroke-width="1"/>
<text x="254.6" y="322.42" font-size="10.4" font-weight="bold" text-anchor="end" fill="#000" >600</text>
<path d="M260.3,297.6H263.3" stroke="#000" stroke-width="1"/>
<text x="254.6" y="301.39000000000004" font-size="10.4" font-weight="bold" text-anchor="end" fill="#000" >700</text>
<path d="M260.3,276.6H263.3" stroke="#000" stroke-width="1"/>
<text x="254.6" y="280.36" font-size="10.4" font-weight="bold" text-anchor="end" fill="#000" >800</text>
<path d="M263.3,444.8V447.8" stroke="#000" stroke-width="1"/>
<text x="263.3" y="461" font-size="10.3" font-weight="bold" text-anchor="middle" fill="#000" >0</text>
<path d="M300.1,444.8V447.8" stroke="#000" stroke-width="1"/>
<text x="300.12" y="461" font-size="10.3" font-weight="bold" text-anchor="middle" fill="#000" >20</text>
<path d="M336.9,444.8V447.8" stroke="#000" stroke-width="1"/>
<text x="336.94" y="461" font-size="10.3" font-weight="bold" text-anchor="middle" fill="#000" >40</text>
<path d="M373.8,444.8V447.8" stroke="#000" stroke-width="1"/>
<text x="373.76" y="461" font-size="10.3" font-weight="bold" text-anchor="middle" fill="#000" >60</text>
<path d="M410.6,444.8V447.8" stroke="#000" stroke-width="1"/>
<text x="410.58000000000004" y="461" font-size="10.3" font-weight="bold" text-anchor="middle" fill="#000" >80</text>
<path d="M447.4,444.8V447.8" stroke="#000" stroke-width="1"/>
<text x="447.4" y="461" font-size="10.3" font-weight="bold" text-anchor="middle" fill="#000" >100</text>
<path d="M484.2,444.8V447.8" stroke="#000" stroke-width="1"/>
<text x="484.22" y="461" font-size="10.3" font-weight="bold" text-anchor="middle" fill="#000" >120</text>
<path d="M521.0,444.8V447.8" stroke="#000" stroke-width="1"/>
<text x="521.04" y="461" font-size="10.3" font-weight="bold" text-anchor="middle" fill="#000" >140</text>
<path d="M557.9,444.8V447.8" stroke="#000" stroke-width="1"/>
<text x="557.86" y="461" font-size="10.3" font-weight="bold" text-anchor="middle" fill="#000" >160</text>
<path d="M594.7,444.8V447.8" stroke="#000" stroke-width="1"/>
<text x="594.6800000000001" y="461" font-size="10.3" font-weight="bold" text-anchor="middle" fill="#000" >180</text>
<path d="M631.5,444.8V447.8" stroke="#000" stroke-width="1"/>
<text x="631.5" y="461" font-size="10.3" font-weight="bold" text-anchor="middle" fill="#000" >200</text>
<text x="451.5" y="477.4" font-size="11.5" font-weight="bold" text-anchor="middle" fill="#000" >Days</text>
<text x="0" y="0" font-size="12.4" font-weight="bold" text-anchor="middle" fill="#000" transform="translate(228.6,347.3) rotate(-90)">Tumor volume (mm3)</text>
<path d="M276.8,262.9H297.7" stroke="#000" stroke-width="1.3"/>
<circle cx="287.3" cy="262.9" r="2.3" fill="#000"/>
<text x="300.4" y="266.7" font-size="10.8" font-weight="bold" text-anchor="start" fill="#000" >Vehicle</text>
<path d="M276.8,275.3H297.7" stroke="#CC44CC" stroke-width="1.3"/>
<circle cx="287.3" cy="275.3" r="2.3" fill="#CC44CC"/>
<text x="300.4" y="279.1" font-size="10.8" font-weight="bold" text-anchor="start" fill="#000" >Osim</text>
<path d="M276.8,288.0H297.7" stroke="#00B050" stroke-width="1.3"/>
<circle cx="287.3" cy="288.0" r="2.3" fill="#00B050"/>
<text x="300.4" y="291.8" font-size="10.8" font-weight="bold" text-anchor="start" fill="#000" >Soraf</text>
<path d="M276.8,300.9H297.7" stroke="#2F5597" stroke-width="1.3"/>
<circle cx="287.3" cy="300.9" r="2.3" fill="#2F5597"/>
<text x="300.4" y="304.7" font-size="10.8" font-weight="bold" text-anchor="start" fill="#000" >Combo</text>
<text x="449.4" y="350.8" font-size="10.3" font-weight="bold" text-anchor="start" fill="#000" >p=0.0046</text>
<path d="M282.3,439.3V441.9M279.1,439.3h6.4M279.1,441.9h6.4" stroke="#111" stroke-width="0.8" fill="none"/>
<path d="M287.9,437.6V440.4M284.7,437.6h6.4M284.7,440.4h6.4" stroke="#111" stroke-width="0.8" fill="none"/>
<path d="M291.3,435.1V438.3M288.1,435.1h6.4M288.1,438.3h6.4" stroke="#111" stroke-width="0.8" fill="none"/>
<path d="M295.2,430.9V434.7M292.0,430.9h6.4M292.0,434.7h6.4" stroke="#111" stroke-width="0.8" fill="none"/>
<path d="M300.3,426.4V430.8M297.1,426.4h6.4M297.1,430.8h6.4" stroke="#111" stroke-width="0.8" fill="none"/>
<path d="M304.5,421.7V426.9M301.3,421.7h6.4M301.3,426.9h6.4" stroke="#111" stroke-width="0.8" fill="none"/>
<path d="M308.3,415.8V421.8M305.1,415.8h6.4M305.1,421.8h6.4" stroke="#111" stroke-width="0.8" fill="none"/>
<path d="M313.5,399.4V407.8M310.3,399.4h6.4M310.3,407.8h6.4" stroke="#111" stroke-width="0.8" fill="none"/>
<path d="M317.0,394.3V403.5M313.8,394.3h6.4M313.8,403.5h6.4" stroke="#111" stroke-width="0.8" fill="none"/>
<path d="M320.5,388.5V398.5M317.3,388.5h6.4M317.3,398.5h6.4" stroke="#111" stroke-width="0.8" fill="none"/>
<path d="M326.2,375.9V387.9M323.0,375.9h6.4M323.0,387.9h6.4" stroke="#111" stroke-width="0.8" fill="none"/>
<path d="M333.4,353.9V369.1M330.2,353.9h6.4M330.2,369.1h6.4" stroke="#111" stroke-width="0.8" fill="none"/>
<path d="M338.9,346.3V362.7M335.7,346.3h6.4M335.7,362.7h6.4" stroke="#111" stroke-width="0.8" fill="none"/>
<path d="M342.7,337.9V355.5M339.5,337.9h6.4M339.5,355.5h6.4" stroke="#111" stroke-width="0.8" fill="none"/>
<path d="M346.5,314.4V335.4M343.3,314.4h6.4M343.3,335.4h6.4" stroke="#111" stroke-width="0.8" fill="none"/>
<path d="M351.8,321.9V341.9M348.6,321.9h6.4M348.6,341.9h6.4" stroke="#111" stroke-width="0.8" fill="none"/>
<path d="M355.4,316.2V337.0M352.2,316.2h6.4M352.2,337.0h6.4" stroke="#111" stroke-width="0.8" fill="none"/>
<path d="M358.6,314.4V335.4M355.4,314.4h6.4M355.4,335.4h6.4" stroke="#111" stroke-width="0.8" fill="none"/>
<path d="M364.9,306.6V328.8M361.7,306.6h6.4M361.7,328.8h6.4" stroke="#111" stroke-width="0.8" fill="none"/>
<path d="M368.5,297.4V321.0M365.3,297.4h6.4M365.3,321.0h6.4" stroke="#111" stroke-width="0.8" fill="none"/>
<path d="M372.4,294.7V318.7M369.2,294.7h6.4M369.2,318.7h6.4" stroke="#111" stroke-width="0.8" fill="none"/>
<path d="M282.0,438.4V444.8M278.8,438.4h6.4M278.8,444.8h6.4" stroke="#111" stroke-width="0.8" fill="none"/>
<path d="M287.6,436.7V443.3M284.4,436.7h6.4M284.4,443.3h6.4" stroke="#111" stroke-width="0.8" fill="none"/>
<path d="M291.0,434.2V441.2M287.8,434.2h6.4M287.8,441.2h6.4" stroke="#111" stroke-width="0.8" fill="none"/>
<path d="M294.9,429.9V437.7M291.7,429.9h6.4M291.7,437.7h6.4" stroke="#111" stroke-width="0.8" fill="none"/>
<path d="M300.0,425.4V433.8M296.8,425.4h6.4M296.8,433.8h6.4" stroke="#111" stroke-width="0.8" fill="none"/>
<path d="M304.2,420.7V429.9M301.0,420.7h6.4M301.0,429.9h6.4" stroke="#111" stroke-width="0.8" fill="none"/>
<path d="M308.0,414.7V424.9M304.8,414.7h6.4M304.8,424.9h6.4" stroke="#111" stroke-width="0.8" fill="none"/>
<path d="M312.7,403.9V415.7M309.5,403.9h6.4M309.5,415.7h6.4" stroke="#111" stroke-width="0.8" fill="none"/>
<path d="M316.6,401.3V413.5M313.4,401.3h6.4M313.4,413.5h6.4" stroke="#111" stroke-width="0.8" fill="none"/>
<path d="M320.8,390.8V404.6M317.6,390.8h6.4M317.6,404.6h6.4" stroke="#111" stroke-width="0.8" fill="none"/>
<path d="M326.2,388.4V402.6M323.0,388.4h6.4M323.0,402.6h6.4" stroke="#111" stroke-width="0.8" fill="none"/>
<path d="M333.4,378.1V393.9M330.2,378.1h6.4M330.2,393.9h6.4" stroke="#111" stroke-width="0.8" fill="none"/>
<path d="M338.9,366.5V384.1M335.7,366.5h6.4M335.7,384.1h6.4" stroke="#111" stroke-width="0.8" fill="none"/>
<path d="M342.7,357.2V376.4M339.5,357.2h6.4M339.5,376.4h6.4" stroke="#111" stroke-width="0.8" fill="none"/>
<path d="M346.5,348.6V369.0M343.3,348.6h6.4M343.3,369.0h6.4" stroke="#111" stroke-width="0.8" fill="none"/>
<path d="M351.8,354.5V374.1M348.6,354.5h6.4M348.6,374.1h6.4" stroke="#111" stroke-width="0.8" fill="none"/>
<path d="M355.4,348.8V369.2M352.2,348.8h6.4M352.2,369.2h6.4" stroke="#111" stroke-width="0.8" fill="none"/>
<path d="M359.2,346.3V367.1M356.0,346.3h6.4M356.0,367.1h6.4" stroke="#111" stroke-width="0.8" fill="none"/>
<path d="M364.9,349.2V369.6M361.7,349.2h6.4M361.7,369.6h6.4" stroke="#111" stroke-width="0.8" fill="none"/>
<path d="M368.1,338.9V360.9M364.9,338.9h6.4M364.9,360.9h6.4" stroke="#111" stroke-width="0.8" fill="none"/>
<path d="M372.4,336.6V359.0M369.2,336.6h6.4M369.2,359.0h6.4" stroke="#111" stroke-width="0.8" fill="none"/>
<path d="M377.6,325.1V349.3M374.4,325.1h6.4M374.4,349.3h6.4" stroke="#111" stroke-width="0.8" fill="none"/>
<path d="M381.9,321.6V346.4M378.7,321.6h6.4M378.7,346.4h6.4" stroke="#111" stroke-width="0.8" fill="none"/>
<path d="M385.5,320.0V345.0M382.3,320.0h6.4M382.3,345.0h6.4" stroke="#111" stroke-width="0.8" fill="none"/>
<path d="M390.8,309.7V336.3M387.6,309.7h6.4M387.6,336.3h6.4" stroke="#111" stroke-width="0.8" fill="none"/>
<path d="M394.2,326.2V350.2M391.0,326.2h6.4M391.0,350.2h6.4" stroke="#111" stroke-width="0.8" fill="none"/>
<path d="M397.8,298.2V326.6M394.6,298.2h6.4M394.6,326.6h6.4" stroke="#111" stroke-width="0.8" fill="none"/>
<path d="M403.5,271.6V301.6M400.3,271.6h6.4M400.3,301.6h6.4" stroke="#111" stroke-width="0.8" fill="none"/>
<path d="M281.5,438.7V441.5M278.3,438.7h6.4M278.3,441.5h6.4" stroke="#111" stroke-width="0.8" fill="none"/>
<path d="M287.1,437.0V440.0M283.9,437.0h6.4M283.9,440.0h6.4" stroke="#111" stroke-width="0.8" fill="none"/>
<path d="M290.5,434.5V437.9M287.3,434.5h6.4M287.3,437.9h6.4" stroke="#111" stroke-width="0.8" fill="none"/>
<path d="M294.4,430.2V434.4M291.2,430.2h6.4M291.2,434.4h6.4" stroke="#111" stroke-width="0.8" fill="none"/>
<path d="M299.5,425.7V430.5M296.3,425.7h6.4M296.3,430.5h6.4" stroke="#111" stroke-width="0.8" fill="none"/>
<path d="M303.7,421.0V426.6M300.5,421.0h6.4M300.5,426.6h6.4" stroke="#111" stroke-width="0.8" fill="none"/>
<path d="M307.5,415.0V421.6M304.3,415.0h6.4M304.3,421.6h6.4" stroke="#111" stroke-width="0.8" fill="none"/>
<path d="M312.7,402.0V410.8M309.5,402.0h6.4M309.5,410.8h6.4" stroke="#111" stroke-width="0.8" fill="none"/>
<path d="M320.5,404.0V412.4M317.3,404.0h6.4M317.3,412.4h6.4" stroke="#111" stroke-width="0.8" fill="none"/>
<path d="M326.2,398.1V407.5M323.0,398.1h6.4M323.0,407.5h6.4" stroke="#111" stroke-width="0.8" fill="none"/>
<path d="M333.4,396.2V406.0M330.2,396.2h6.4M330.2,406.0h6.4" stroke="#111" stroke-width="0.8" fill="none"/>
<path d="M338.9,386.1V397.5M335.7,386.1h6.4M335.7,397.5h6.4" stroke="#111" stroke-width="0.8" fill="none"/>
<path d="M342.7,376.8V389.8M339.5,376.8h6.4M339.5,389.8h6.4" stroke="#111" stroke-width="0.8" fill="none"/>
<path d="M346.5,360.1V375.7M343.3,360.1h6.4M343.3,375.7h6.4" stroke="#111" stroke-width="0.8" fill="none"/>
<path d="M351.8,374.5V387.9M348.6,374.5h6.4M348.6,387.9h6.4" stroke="#111" stroke-width="0.8" fill="none"/>
<path d="M355.4,372.7V386.3M352.2,372.7h6.4M352.2,386.3h6.4" stroke="#111" stroke-width="0.8" fill="none"/>
<path d="M359.2,377.4V390.2M356.0,377.4h6.4M356.0,390.2h6.4" stroke="#111" stroke-width="0.8" fill="none"/>
<path d="M364.9,370.8V384.8M361.7,370.8h6.4M361.7,384.8h6.4" stroke="#111" stroke-width="0.8" fill="none"/>
<path d="M368.1,362.3V377.7M364.9,362.3h6.4M364.9,377.7h6.4" stroke="#111" stroke-width="0.8" fill="none"/>
<path d="M372.4,368.1V382.5M369.2,368.1h6.4M369.2,382.5h6.4" stroke="#111" stroke-width="0.8" fill="none"/>
<path d="M377.6,357.8V373.8M374.4,357.8h6.4M374.4,373.8h6.4" stroke="#111" stroke-width="0.8" fill="none"/>
<path d="M381.9,354.9V371.5M378.7,354.9h6.4M378.7,371.5h6.4" stroke="#111" stroke-width="0.8" fill="none"/>
<path d="M385.5,356.1V372.5M382.3,356.1h6.4M382.3,372.5h6.4" stroke="#111" stroke-width="0.8" fill="none"/>
<path d="M390.8,353.8V370.6M387.6,353.8h6.4M387.6,370.6h6.4" stroke="#111" stroke-width="0.8" fill="none"/>
<path d="M394.2,362.3V377.7M391.0,362.3h6.4M391.0,377.7h6.4" stroke="#111" stroke-width="0.8" fill="none"/>
<path d="M397.8,356.1V372.5M394.6,356.1h6.4M394.6,372.5h6.4" stroke="#111" stroke-width="0.8" fill="none"/>
<path d="M403.5,345.4V363.6M400.3,345.4h6.4M400.3,363.6h6.4" stroke="#111" stroke-width="0.8" fill="none"/>
<path d="M407.3,343.9V362.3M404.1,343.9h6.4M404.1,362.3h6.4" stroke="#111" stroke-width="0.8" fill="none"/>
<path d="M411.1,330.0V350.6M407.9,330.0h6.4M407.9,350.6h6.4" stroke="#111" stroke-width="0.8" fill="none"/>
<path d="M416.3,326.7V347.9M413.1,326.7h6.4M413.1,347.9h6.4" stroke="#111" stroke-width="0.8" fill="none"/>
<path d="M420.2,323.6V345.4M417.0,323.6h6.4M417.0,345.4h6.4" stroke="#111" stroke-width="0.8" fill="none"/>
<path d="M423.8,336.8V356.4M420.6,336.8h6.4M420.6,356.4h6.4" stroke="#111" stroke-width="0.8" fill="none"/>
<path d="M429.0,325.9V347.3M425.8,325.9h6.4M425.8,347.3h6.4" stroke="#111" stroke-width="0.8" fill="none"/>
<path d="M432.8,322.0V344.0M429.6,322.0h6.4M429.6,344.0h6.4" stroke="#111" stroke-width="0.8" fill="none"/>
<path d="M436.4,331.7V352.1M433.2,331.7h6.4M433.2,352.1h6.4" stroke="#111" stroke-width="0.8" fill="none"/>
<path d="M441.7,320.2V342.4M438.5,320.2h6.4M438.5,342.4h6.4" stroke="#111" stroke-width="0.8" fill="none"/>
<path d="M446.0,317.9V340.5M442.8,317.9h6.4M442.8,340.5h6.4" stroke="#111" stroke-width="0.8" fill="none"/>
<path d="M449.1,304.6V329.4M445.9,304.6h6.4M445.9,329.4h6.4" stroke="#111" stroke-width="0.8" fill="none"/>
<path d="M454.8,284.7V302.7M451.6,284.7h6.4M451.6,302.7h6.4" stroke="#111" stroke-width="0.8" fill="none"/>
<path d="M281.2,435.9V440.3M278.0,435.9h6.4M278.0,440.3h6.4" stroke="#111" stroke-width="0.8" fill="none"/>
<path d="M286.8,434.2V438.8M283.6,434.2h6.4M283.6,438.8h6.4" stroke="#111" stroke-width="0.8" fill="none"/>
<path d="M290.2,431.8V436.6M287.0,431.8h6.4M287.0,436.6h6.4" stroke="#111" stroke-width="0.8" fill="none"/>
<path d="M294.1,427.8V432.8M290.9,427.8h6.4M290.9,432.8h6.4" stroke="#111" stroke-width="0.8" fill="none"/>
<path d="M299.2,423.4V428.8M296.0,423.4h6.4M296.0,428.8h6.4" stroke="#111" stroke-width="0.8" fill="none"/>
<path d="M303.4,418.9V424.7M300.2,418.9h6.4M300.2,424.7h6.4" stroke="#111" stroke-width="0.8" fill="none"/>
<path d="M307.2,413.2V419.4M304.0,413.2h6.4M304.0,419.4h6.4" stroke="#111" stroke-width="0.8" fill="none"/>
<path d="M313.5,405.6V412.4M310.3,405.6h6.4M310.3,412.4h6.4" stroke="#111" stroke-width="0.8" fill="none"/>
<path d="M317.4,408.0V414.6M314.2,408.0h6.4M314.2,414.6h6.4" stroke="#111" stroke-width="0.8" fill="none"/>
<path d="M320.5,408.7V415.3M317.3,408.7h6.4M317.3,415.3h6.4" stroke="#111" stroke-width="0.8" fill="none"/>
<path d="M326.2,405.6V412.4M323.0,405.6h6.4M323.0,412.4h6.4" stroke="#111" stroke-width="0.8" fill="none"/>
<path d="M333.4,408.0V414.6M330.2,408.0h6.4M330.2,414.6h6.4" stroke="#111" stroke-width="0.8" fill="none"/>
<path d="M338.9,404.7V411.5M335.7,404.7h6.4M335.7,411.5h6.4" stroke="#111" stroke-width="0.8" fill="none"/>
<path d="M342.7,402.5V409.5M339.5,402.5h6.4M339.5,409.5h6.4" stroke="#111" stroke-width="0.8" fill="none"/>
<path d="M346.5,395.9V403.5M343.3,395.9h6.4M343.3,403.5h6.4" stroke="#111" stroke-width="0.8" fill="none"/>
<path d="M351.8,400.3V407.5M348.6,400.3h6.4M348.6,407.5h6.4" stroke="#111" stroke-width="0.8" fill="none"/>
<path d="M355.4,397.0V404.4M352.2,397.0h6.4M352.2,404.4h6.4" stroke="#111" stroke-width="0.8" fill="none"/>
<path d="M359.2,399.7V406.9M356.0,399.7h6.4M356.0,406.9h6.4" stroke="#111" stroke-width="0.8" fill="none"/>
<path d="M364.9,404.2V411.2M361.7,404.2h6.4M361.7,411.2h6.4" stroke="#111" stroke-width="0.8" fill="none"/>
<path d="M368.1,394.8V402.4M364.9,394.8h6.4M364.9,402.4h6.4" stroke="#111" stroke-width="0.8" fill="none"/>
<path d="M372.4,404.7V411.5M369.2,404.7h6.4M369.2,411.5h6.4" stroke="#111" stroke-width="0.8" fill="none"/>
<path d="M377.6,394.8V402.4M374.4,394.8h6.4M374.4,402.4h6.4" stroke="#111" stroke-width="0.8" fill="none"/>
<path d="M381.9,391.5V399.3M378.7,391.5h6.4M378.7,399.3h6.4" stroke="#111" stroke-width="0.8" fill="none"/>
<path d="M385.5,387.1V395.3M382.3,387.1h6.4M382.3,395.3h6.4" stroke="#111" stroke-width="0.8" fill="none"/>
<path d="M390.8,385.9V394.3M387.6,385.9h6.4M387.6,394.3h6.4" stroke="#111" stroke-width="0.8" fill="none"/>
<path d="M394.2,392.6V400.4M391.0,392.6h6.4M391.0,400.4h6.4" stroke="#111" stroke-width="0.8" fill="none"/>
<path d="M397.8,388.1V396.3M394.6,388.1h6.4M394.6,396.3h6.4" stroke="#111" stroke-width="0.8" fill="none"/>
<path d="M403.5,389.3V397.3M400.3,389.3h6.4M400.3,397.3h6.4" stroke="#111" stroke-width="0.8" fill="none"/>
<path d="M407.3,390.4V398.4M404.1,390.4h6.4M404.1,398.4h6.4" stroke="#111" stroke-width="0.8" fill="none"/>
<path d="M411.0,384.3V392.7M407.8,384.3h6.4M407.8,392.7h6.4" stroke="#111" stroke-width="0.8" fill="none"/>
<path d="M416.0,378.0V387.0M412.8,378.0h6.4M412.8,387.0h6.4" stroke="#111" stroke-width="0.8" fill="none"/>
<path d="M420.2,382.1V390.7M417.0,382.1h6.4M417.0,390.7h6.4" stroke="#111" stroke-width="0.8" fill="none"/>
<path d="M423.8,386.0V394.4M420.6,386.0h6.4M420.6,394.4h6.4" stroke="#111" stroke-width="0.8" fill="none"/>
<path d="M429.0,377.0V386.0M425.8,377.0h6.4M425.8,386.0h6.4" stroke="#111" stroke-width="0.8" fill="none"/>
<path d="M432.8,379.8V388.6M429.6,379.8h6.4M429.6,388.6h6.4" stroke="#111" stroke-width="0.8" fill="none"/>
<path d="M436.4,379.8V388.6M433.2,379.8h6.4M433.2,388.6h6.4" stroke="#111" stroke-width="0.8" fill="none"/>
<path d="M441.7,377.6V386.6M438.5,377.6h6.4M438.5,386.6h6.4" stroke="#111" stroke-width="0.8" fill="none"/>
<path d="M446.0,379.4V388.2M442.8,379.4h6.4M442.8,388.2h6.4" stroke="#111" stroke-width="0.8" fill="none"/>
<path d="M449.1,376.6V385.6M445.9,376.6h6.4M445.9,385.6h6.4" stroke="#111" stroke-width="0.8" fill="none"/>
<path d="M454.8,372.8V382.2M451.6,372.8h6.4M451.6,382.2h6.4" stroke="#111" stroke-width="0.8" fill="none"/>
<path d="M459.1,377.6V386.6M455.9,377.6h6.4M455.9,386.6h6.4" stroke="#111" stroke-width="0.8" fill="none"/>
<path d="M462.5,378.8V387.6M459.3,378.8h6.4M459.3,387.6h6.4" stroke="#111" stroke-width="0.8" fill="none"/>
<path d="M467.5,379.8V388.6M464.3,379.8h6.4M464.3,388.6h6.4" stroke="#111" stroke-width="0.8" fill="none"/>
<path d="M472.4,375.9V384.9M469.2,375.9h6.4M469.2,384.9h6.4" stroke="#111" stroke-width="0.8" fill="none"/>
<path d="M475.6,375.9V384.9M472.4,375.9h6.4M472.4,384.9h6.4" stroke="#111" stroke-width="0.8" fill="none"/>
<path d="M480.9,375.0V384.2M477.7,375.0h6.4M477.7,384.2h6.4" stroke="#111" stroke-width="0.8" fill="none"/>
<path d="M484.5,369.9V379.5M481.3,369.9h6.4M481.3,379.5h6.4" stroke="#111" stroke-width="0.8" fill="none"/>
<path d="M488.3,375.4V384.6M485.1,375.4h6.4M485.1,384.6h6.4" stroke="#111" stroke-width="0.8" fill="none"/>
<path d="M493.6,364.0V374.0M490.4,364.0h6.4M490.4,374.0h6.4" stroke="#111" stroke-width="0.8" fill="none"/>
<path d="M497.2,361.2V371.4M494.0,361.2h6.4M494.0,371.4h6.4" stroke="#111" stroke-width="0.8" fill="none"/>
<path d="M501.0,355.7V366.3M497.8,355.7h6.4M497.8,366.3h6.4" stroke="#111" stroke-width="0.8" fill="none"/>
<path d="M506.6,350.8V361.8M503.4,350.8h6.4M503.4,361.8h6.4" stroke="#111" stroke-width="0.8" fill="none"/>
<path d="M509.9,356.9V367.5M506.7,356.9h6.4M506.7,367.5h6.4" stroke="#111" stroke-width="0.8" fill="none"/>
<path d="M513.9,358.4V368.8M510.7,358.4h6.4M510.7,368.8h6.4" stroke="#111" stroke-width="0.8" fill="none"/>
<path d="M519.2,350.2V361.2M516.0,350.2h6.4M516.0,361.2h6.4" stroke="#111" stroke-width="0.8" fill="none"/>
<path d="M523.2,345.5V356.9M520.0,345.5h6.4M520.0,356.9h6.4" stroke="#111" stroke-width="0.8" fill="none"/>
<path d="M526.7,351.2V362.2M523.5,351.2h6.4M523.5,362.2h6.4" stroke="#111" stroke-width="0.8" fill="none"/>
<path d="M531.6,349.5V360.7M528.4,349.5h6.4M528.4,360.7h6.4" stroke="#111" stroke-width="0.8" fill="none"/>
<path d="M536.2,341.3V353.1M533.0,341.3h6.4M533.0,353.1h6.4" stroke="#111" stroke-width="0.8" fill="none"/>
<path d="M540.1,337.3V349.3M536.9,337.3h6.4M536.9,349.3h6.4" stroke="#111" stroke-width="0.8" fill="none"/>
<path d="M545.5,339.4V351.2M542.3,339.4h6.4M542.3,351.2h6.4" stroke="#111" stroke-width="0.8" fill="none"/>
<path d="M548.8,336.4V348.6M545.6,336.4h6.4M545.6,348.6h6.4" stroke="#111" stroke-width="0.8" fill="none"/>
<path d="M552.8,329.7V342.3M549.6,329.7h6.4M549.6,342.3h6.4" stroke="#111" stroke-width="0.8" fill="none"/>
<path d="M557.9,329.1V341.7M554.7,329.1h6.4M554.7,341.7h6.4" stroke="#111" stroke-width="0.8" fill="none"/>
<path d="M561.6,318.8V332.2M558.4,318.8h6.4M558.4,332.2h6.4" stroke="#111" stroke-width="0.8" fill="none"/>
<path d="M565.2,343.0V354.6M562.0,343.0h6.4M562.0,354.6h6.4" stroke="#111" stroke-width="0.8" fill="none"/>
<path d="M571.1,310.1V324.3M567.9,310.1h6.4M567.9,324.3h6.4" stroke="#111" stroke-width="0.8" fill="none"/>
<path d="M574.5,324.2V337.2M571.3,324.2h6.4M571.3,337.2h6.4" stroke="#111" stroke-width="0.8" fill="none"/>
<path d="M578.4,322.5V335.7M575.2,322.5h6.4M575.2,335.7h6.4" stroke="#111" stroke-width="0.8" fill="none"/>
<path d="M583.9,328.2V341.0M580.7,328.2h6.4M580.7,341.0h6.4" stroke="#111" stroke-width="0.8" fill="none"/>
<path d="M587.5,333.1V345.5M584.3,333.1h6.4M584.3,345.5h6.4" stroke="#111" stroke-width="0.8" fill="none"/>
<path d="M590.8,325.0V341.0M587.6,325.0h6.4M587.6,341.0h6.4" stroke="#111" stroke-width="0.8" fill="none"/>
<path d="M596.8,318.3V331.9M593.6,318.3h6.4M593.6,331.9h6.4" stroke="#111" stroke-width="0.8" fill="none"/>
<path d="M600.7,317.9V331.5M597.5,317.9h6.4M597.5,331.5h6.4" stroke="#111" stroke-width="0.8" fill="none"/>
<path d="M604.1,326.1V339.1M600.9,326.1h6.4M600.9,339.1h6.4" stroke="#111" stroke-width="0.8" fill="none"/>
<path d="M609.6,292.1V307.7M606.4,292.1h6.4M606.4,307.7h6.4" stroke="#111" stroke-width="0.8" fill="none"/>
<path d="M613.2,301.9V316.7M610.0,301.9h6.4M610.0,316.7h6.4" stroke="#111" stroke-width="0.8" fill="none"/>
<path d="M616.9,305.0V319.6M613.7,305.0h6.4M613.7,319.6h6.4" stroke="#111" stroke-width="0.8" fill="none"/>
<path d="M622.4,276.8V302.4M619.2,276.8h6.4M619.2,302.4h6.4" stroke="#111" stroke-width="0.8" fill="none"/>
<path d="M626.4,274.2V317.2M623.2,274.2h6.4M623.2,317.2h6.4" stroke="#111" stroke-width="0.8" fill="none"/>
<polyline points="263.3,444.8 281.2,438.1 286.8,436.5 290.2,434.2 294.1,430.3 299.2,426.1 303.4,421.8 307.2,416.3 313.5,409.0 317.4,411.3 320.5,412.0 326.2,409.0 333.4,411.3 338.9,408.1 342.7,406.0 346.5,399.7 351.8,403.9 355.4,400.7 359.2,403.3 364.9,407.7 368.1,398.6 372.4,408.1 377.6,398.6 381.9,395.4 385.5,391.2 390.8,390.1 394.2,396.5 397.8,392.2 403.5,393.3 407.3,394.4 411.0,388.5 416.0,382.5 420.2,386.4 423.8,390.2 429.0,381.5 432.8,384.2 436.4,384.2 441.7,382.1 446.0,383.8 449.1,381.1 454.8,377.5 459.1,382.1 462.5,383.2 467.5,384.2 472.4,380.4 475.6,380.4 480.9,379.6 484.5,374.7 488.3,380.0 493.6,369.0 497.2,366.3 501.0,361.0 506.6,356.3 509.9,362.2 513.9,363.6 519.2,355.7 523.2,351.2 526.7,356.7 531.6,355.1 536.2,347.2 540.1,343.3 545.5,345.3 548.8,342.5 552.8,336.0 557.9,335.4 561.6,325.5 565.2,348.8 571.1,317.2 574.5,330.7 578.4,329.1 583.9,334.6 587.5,339.3 590.8,333.0 596.8,325.1 600.7,324.7 604.1,332.6 609.6,299.9 613.2,309.3 616.9,312.3 622.4,290.0 626.4,295.9" fill="none" stroke="#2F5597" stroke-width="1.3" stroke-linejoin="round"/>
<circle cx="263.3" cy="444.8" r="2.0" fill="#2F5597"/>
<circle cx="281.2" cy="438.1" r="2.0" fill="#2F5597"/>
<circle cx="286.8" cy="436.5" r="2.0" fill="#2F5597"/>
<circle cx="290.2" cy="434.2" r="2.0" fill="#2F5597"/>
<circle cx="294.1" cy="430.3" r="2.0" fill="#2F5597"/>
<circle cx="299.2" cy="426.1" r="2.0" fill="#2F5597"/>
<circle cx="303.4" cy="421.8" r="2.0" fill="#2F5597"/>
<circle cx="307.2" cy="416.3" r="2.0" fill="#2F5597"/>
<circle cx="313.5" cy="409.0" r="2.0" fill="#2F5597"/>
<circle cx="317.4" cy="411.3" r="2.0" fill="#2F5597"/>
<circle cx="320.5" cy="412.0" r="2.0" fill="#2F5597"/>
<circle cx="326.2" cy="409.0" r="2.0" fill="#2F5597"/>
<circle cx="333.4" cy="411.3" r="2.0" fill="#2F5597"/>
<circle cx="338.9" cy="408.1" r="2.0" fill="#2F5597"/>
<circle cx="342.7" cy="406.0" r="2.0" fill="#2F5597"/>
<circle cx="346.5" cy="399.7" r="2.0" fill="#2F5597"/>
<circle cx="351.8" cy="403.9" r="2.0" fill="#2F5597"/>
<circle cx="355.4" cy="400.7" r="2.0" fill="#2F5597"/>
<circle cx="359.2" cy="403.3" r="2.0" fill="#2F5597"/>
<circle cx="364.9" cy="407.7" r="2.0" fill="#2F5597"/>
<circle cx="368.1" cy="398.6" r="2.0" fill="#2F5597"/>
<circle cx="372.4" cy="408.1" r="2.0" fill="#2F5597"/>
<circle cx="377.6" cy="398.6" r="2.0" fill="#2F5597"/>
<circle cx="381.9" cy="395.4" r="2.0" fill="#2F5597"/>
<circle cx="385.5" cy="391.2" r="2.0" fill="#2F5597"/>
<circle cx="390.8" cy="390.1" r="2.0" fill="#2F5597"/>
<circle cx="394.2" cy="396.5" r="2.0" fill="#2F5597"/>
<circle cx="397.8" cy="392.2" r="2.0" fill="#2F5597"/>
<circle cx="403.5" cy="393.3" r="2.0" fill="#2F5597"/>
<circle cx="407.3" cy="394.4" r="2.0" fill="#2F5597"/>
<circle cx="411.0" cy="388.5" r="2.0" fill="#2F5597"/>
<circle cx="416.0" cy="382.5" r="2.0" fill="#2F5597"/>
<circle cx="420.2" cy="386.4" r="2.0" fill="#2F5597"/>
<circle cx="423.8" cy="390.2" r="2.0" fill="#2F5597"/>
<circle cx="429.0" cy="381.5" r="2.0" fill="#2F5597"/>
<circle cx="432.8" cy="384.2" r="2.0" fill="#2F5597"/>
<circle cx="436.4" cy="384.2" r="2.0" fill="#2F5597"/>
<circle cx="441.7" cy="382.1" r="2.0" fill="#2F5597"/>
<circle cx="446.0" cy="383.8" r="2.0" fill="#2F5597"/>
<circle cx="449.1" cy="381.1" r="2.0" fill="#2F5597"/>
<circle cx="454.8" cy="377.5" r="2.0" fill="#2F5597"/>
<circle cx="459.1" cy="382.1" r="2.0" fill="#2F5597"/>
<circle cx="462.5" cy="383.2" r="2.0" fill="#2F5597"/>
<circle cx="467.5" cy="384.2" r="2.0" fill="#2F5597"/>
<circle cx="472.4" cy="380.4" r="2.0" fill="#2F5597"/>
<circle cx="475.6" cy="380.4" r="2.0" fill="#2F5597"/>
<circle cx="480.9" cy="379.6" r="2.0" fill="#2F5597"/>
<circle cx="484.5" cy="374.7" r="2.0" fill="#2F5597"/>
<circle cx="488.3" cy="380.0" r="2.0" fill="#2F5597"/>
<circle cx="493.6" cy="369.0" r="2.0" fill="#2F5597"/>
<circle cx="497.2" cy="366.3" r="2.0" fill="#2F5597"/>
<circle cx="501.0" cy="361.0" r="2.0" fill="#2F5597"/>
<circle cx="506.6" cy="356.3" r="2.0" fill="#2F5597"/>
<circle cx="509.9" cy="362.2" r="2.0" fill="#2F5597"/>
<circle cx="513.9" cy="363.6" r="2.0" fill="#2F5597"/>
<circle cx="519.2" cy="355.7" r="2.0" fill="#2F5597"/>
<circle cx="523.2" cy="351.2" r="2.0" fill="#2F5597"/>
<circle cx="526.7" cy="356.7" r="2.0" fill="#2F5597"/>
<circle cx="531.6" cy="355.1" r="2.0" fill="#2F5597"/>
<circle cx="536.2" cy="347.2" r="2.0" fill="#2F5597"/>
<circle cx="540.1" cy="343.3" r="2.0" fill="#2F5597"/>
<circle cx="545.5" cy="345.3" r="2.0" fill="#2F5597"/>
<circle cx="548.8" cy="342.5" r="2.0" fill="#2F5597"/>
<circle cx="552.8" cy="336.0" r="2.0" fill="#2F5597"/>
<circle cx="557.9" cy="335.4" r="2.0" fill="#2F5597"/>
<circle cx="561.6" cy="325.5" r="2.0" fill="#2F5597"/>
<circle cx="565.2" cy="348.8" r="2.0" fill="#2F5597"/>
<circle cx="571.1" cy="317.2" r="2.0" fill="#2F5597"/>
<circle cx="574.5" cy="330.7" r="2.0" fill="#2F5597"/>
<circle cx="578.4" cy="329.1" r="2.0" fill="#2F5597"/>
<circle cx="583.9" cy="334.6" r="2.0" fill="#2F5597"/>
<circle cx="587.5" cy="339.3" r="2.0" fill="#2F5597"/>
<circle cx="590.8" cy="333.0" r="2.0" fill="#2F5597"/>
<circle cx="596.8" cy="325.1" r="2.0" fill="#2F5597"/>
<circle cx="600.7" cy="324.7" r="2.0" fill="#2F5597"/>
<circle cx="604.1" cy="332.6" r="2.0" fill="#2F5597"/>
<circle cx="609.6" cy="299.9" r="2.0" fill="#2F5597"/>
<circle cx="613.2" cy="309.3" r="2.0" fill="#2F5597"/>
<circle cx="616.9" cy="312.3" r="2.0" fill="#2F5597"/>
<circle cx="622.4" cy="290.0" r="2.0" fill="#2F5597"/>
<circle cx="626.4" cy="295.9" r="2.0" fill="#2F5597"/>
<polyline points="263.3,444.8 281.5,440.1 287.1,438.5 290.5,436.2 294.4,432.3 299.5,428.1 303.7,423.8 307.5,418.3 312.7,406.4 320.5,408.2 326.2,402.8 333.4,401.1 338.9,391.8 342.7,383.3 346.5,367.9 351.8,381.2 355.4,379.5 359.2,383.8 364.9,377.8 368.1,370.0 372.4,375.3 377.6,365.8 381.9,363.2 385.5,364.3 390.8,362.2 394.2,370.0 397.8,364.3 403.5,354.5 407.3,353.1 411.1,340.3 416.3,337.3 420.2,334.5 423.8,346.6 429.0,336.6 432.8,333.0 436.4,341.9 441.7,331.3 446.0,329.2 449.1,317.0 454.8,293.7" fill="none" stroke="#D45ED4" stroke-width="1.3" stroke-linejoin="round"/>
<circle cx="263.3" cy="444.8" r="2.0" fill="#D45ED4"/>
<circle cx="281.5" cy="440.1" r="2.0" fill="#D45ED4"/>
<circle cx="287.1" cy="438.5" r="2.0" fill="#D45ED4"/>
<circle cx="290.5" cy="436.2" r="2.0" fill="#D45ED4"/>
<circle cx="294.4" cy="432.3" r="2.0" fill="#D45ED4"/>
<circle cx="299.5" cy="428.1" r="2.0" fill="#D45ED4"/>
<circle cx="303.7" cy="423.8" r="2.0" fill="#D45ED4"/>
<circle cx="307.5" cy="418.3" r="2.0" fill="#D45ED4"/>
<circle cx="312.7" cy="406.4" r="2.0" fill="#D45ED4"/>
<circle cx="320.5" cy="408.2" r="2.0" fill="#D45ED4"/>
<circle cx="326.2" cy="402.8" r="2.0" fill="#D45ED4"/>
<circle cx="333.4" cy="401.1" r="2.0" fill="#D45ED4"/>
<circle cx="338.9" cy="391.8" r="2.0" fill="#D45ED4"/>
<circle cx="342.7" cy="383.3" r="2.0" fill="#D45ED4"/>
<circle cx="346.5" cy="367.9" r="2.0" fill="#D45ED4"/>
<circle cx="351.8" cy="381.2" r="2.0" fill="#D45ED4"/>
<circle cx="355.4" cy="379.5" r="2.0" fill="#D45ED4"/>
<circle cx="359.2" cy="383.8" r="2.0" fill="#D45ED4"/>
<circle cx="364.9" cy="377.8" r="2.0" fill="#D45ED4"/>
<circle cx="368.1" cy="370.0" r="2.0" fill="#D45ED4"/>
<circle cx="372.4" cy="375.3" r="2.0" fill="#D45ED4"/>
<circle cx="377.6" cy="365.8" r="2.0" fill="#D45ED4"/>
<circle cx="381.9" cy="363.2" r="2.0" fill="#D45ED4"/>
<circle cx="385.5" cy="364.3" r="2.0" fill="#D45ED4"/>
<circle cx="390.8" cy="362.2" r="2.0" fill="#D45ED4"/>
<circle cx="394.2" cy="370.0" r="2.0" fill="#D45ED4"/>
<circle cx="397.8" cy="364.3" r="2.0" fill="#D45ED4"/>
<circle cx="403.5" cy="354.5" r="2.0" fill="#D45ED4"/>
<circle cx="407.3" cy="353.1" r="2.0" fill="#D45ED4"/>
<circle cx="411.1" cy="340.3" r="2.0" fill="#D45ED4"/>
<circle cx="416.3" cy="337.3" r="2.0" fill="#D45ED4"/>
<circle cx="420.2" cy="334.5" r="2.0" fill="#D45ED4"/>
<circle cx="423.8" cy="346.6" r="2.0" fill="#D45ED4"/>
<circle cx="429.0" cy="336.6" r="2.0" fill="#D45ED4"/>
<circle cx="432.8" cy="333.0" r="2.0" fill="#D45ED4"/>
<circle cx="436.4" cy="341.9" r="2.0" fill="#D45ED4"/>
<circle cx="441.7" cy="331.3" r="2.0" fill="#D45ED4"/>
<circle cx="446.0" cy="329.2" r="2.0" fill="#D45ED4"/>
<circle cx="449.1" cy="317.0" r="2.0" fill="#D45ED4"/>
<circle cx="454.8" cy="293.7" r="2.0" fill="#D45ED4"/>
<polyline points="263.3,444.8 282.3,440.6 287.9,439.0 291.3,436.7 295.2,432.8 300.3,428.6 304.5,424.3 308.3,418.8 313.5,403.6 317.0,398.9 320.5,393.5 326.2,381.9 333.4,361.5 338.9,354.5 342.7,346.7 346.5,324.9 351.8,331.9 355.4,326.6 358.6,324.9 364.9,317.7 368.5,309.2 372.4,306.7" fill="none" stroke="#000" stroke-width="1.3" stroke-linejoin="round"/>
<circle cx="263.3" cy="444.8" r="2.0" fill="#000"/>
<circle cx="282.3" cy="440.6" r="2.0" fill="#000"/>
<circle cx="287.9" cy="439.0" r="2.0" fill="#000"/>
<circle cx="291.3" cy="436.7" r="2.0" fill="#000"/>
<circle cx="295.2" cy="432.8" r="2.0" fill="#000"/>
<circle cx="300.3" cy="428.6" r="2.0" fill="#000"/>
<circle cx="304.5" cy="424.3" r="2.0" fill="#000"/>
<circle cx="308.3" cy="418.8" r="2.0" fill="#000"/>
<circle cx="313.5" cy="403.6" r="2.0" fill="#000"/>
<circle cx="317.0" cy="398.9" r="2.0" fill="#000"/>
<circle cx="320.5" cy="393.5" r="2.0" fill="#000"/>
<circle cx="326.2" cy="381.9" r="2.0" fill="#000"/>
<circle cx="333.4" cy="361.5" r="2.0" fill="#000"/>
<circle cx="338.9" cy="354.5" r="2.0" fill="#000"/>
<circle cx="342.7" cy="346.7" r="2.0" fill="#000"/>
<circle cx="346.5" cy="324.9" r="2.0" fill="#000"/>
<circle cx="351.8" cy="331.9" r="2.0" fill="#000"/>
<circle cx="355.4" cy="326.6" r="2.0" fill="#000"/>
<circle cx="358.6" cy="324.9" r="2.0" fill="#000"/>
<circle cx="364.9" cy="317.7" r="2.0" fill="#000"/>
<circle cx="368.5" cy="309.2" r="2.0" fill="#000"/>
<circle cx="372.4" cy="306.7" r="2.0" fill="#000"/>
<polyline points="263.3,444.8 282.0,441.6 287.6,440.0 291.0,437.7 294.9,433.8 300.0,429.6 304.2,425.3 308.0,419.8 312.7,409.8 316.6,407.4 320.8,397.7 326.2,395.5 333.4,386.0 338.9,375.3 342.7,366.8 346.5,358.8 351.8,364.3 355.4,359.0 359.2,356.7 364.9,359.4 368.1,349.9 372.4,347.8 377.6,337.2 381.9,334.0 385.5,332.5 390.8,323.0 394.2,338.2 397.8,312.4 403.5,290.6" fill="none" stroke="#00B050" stroke-width="1.3" stroke-linejoin="round"/>
<circle cx="263.3" cy="444.8" r="2.0" fill="#00B050"/>
<circle cx="282.0" cy="441.6" r="2.0" fill="#00B050"/>
<circle cx="287.6" cy="440.0" r="2.0" fill="#00B050"/>
<circle cx="291.0" cy="437.7" r="2.0" fill="#00B050"/>
<circle cx="294.9" cy="433.8" r="2.0" fill="#00B050"/>
<circle cx="300.0" cy="429.6" r="2.0" fill="#00B050"/>
<circle cx="304.2" cy="425.3" r="2.0" fill="#00B050"/>
<circle cx="308.0" cy="419.8" r="2.0" fill="#00B050"/>
<circle cx="312.7" cy="409.8" r="2.0" fill="#00B050"/>
<circle cx="316.6" cy="407.4" r="2.0" fill="#00B050"/>
<circle cx="320.8" cy="397.7" r="2.0" fill="#00B050"/>
<circle cx="326.2" cy="395.5" r="2.0" fill="#00B050"/>
<circle cx="333.4" cy="386.0" r="2.0" fill="#00B050"/>
<circle cx="338.9" cy="375.3" r="2.0" fill="#00B050"/>
<circle cx="342.7" cy="366.8" r="2.0" fill="#00B050"/>
<circle cx="346.5" cy="358.8" r="2.0" fill="#00B050"/>
<circle cx="351.8" cy="364.3" r="2.0" fill="#00B050"/>
<circle cx="355.4" cy="359.0" r="2.0" fill="#00B050"/>
<circle cx="359.2" cy="356.7" r="2.0" fill="#00B050"/>
<circle cx="364.9" cy="359.4" r="2.0" fill="#00B050"/>
<circle cx="368.1" cy="349.9" r="2.0" fill="#00B050"/>
<circle cx="372.4" cy="347.8" r="2.0" fill="#00B050"/>
<circle cx="377.6" cy="337.2" r="2.0" fill="#00B050"/>
<circle cx="381.9" cy="334.0" r="2.0" fill="#00B050"/>
<circle cx="385.5" cy="332.5" r="2.0" fill="#00B050"/>
<circle cx="390.8" cy="323.0" r="2.0" fill="#00B050"/>
<circle cx="394.2" cy="338.2" r="2.0" fill="#00B050"/>
<circle cx="397.8" cy="312.4" r="2.0" fill="#00B050"/>
<circle cx="403.5" cy="290.6" r="2.0" fill="#00B050"/>
<path d="M312.9,371H316.4V384.5H318.7L314.65,389.3L310.6,384.5H312.9Z" fill="#000"/>
<text x="227" y="505.5" font-size="11" font-weight="bold" text-anchor="start" fill="#000" >E</text>
<path d="M262.3,505.2V676H628" stroke="#000" stroke-width="1" fill="none"/>
<path d="M259.3,676.0H262.3" stroke="#000" stroke-width="1"/>
<text x="253.3" y="679.8" font-size="10.4" font-weight="bold" text-anchor="end" fill="#000" >0,0</text>
<path d="M259.3,643.6H262.3" stroke="#000" stroke-width="1"/>
<text x="253.3" y="647.4" font-size="10.4" font-weight="bold" text-anchor="end" fill="#000" >0,2</text>
<path d="M259.3,611.2H262.3" stroke="#000" stroke-width="1"/>
<text x="253.3" y="615.0" font-size="10.4" font-weight="bold" text-anchor="end" fill="#000" >0,4</text>
<path d="M259.3,578.8H262.3" stroke="#000" stroke-width="1"/>
<text x="253.3" y="582.5999999999999" font-size="10.4" font-weight="bold" text-anchor="end" fill="#000" >0,6</text>
<path d="M259.3,546.4H262.3" stroke="#000" stroke-width="1"/>
<text x="253.3" y="550.1999999999999" font-size="10.4" font-weight="bold" text-anchor="end" fill="#000" >0,8</text>
<path d="M259.3,514.0H262.3" stroke="#000" stroke-width="1"/>
<text x="253.3" y="517.8" font-size="10.4" font-weight="bold" text-anchor="end" fill="#000" >1,0</text>
<path d="M262.3,676V679" stroke="#000" stroke-width="1"/>
<text x="262.3" y="692.4" font-size="10.2" font-weight="bold" text-anchor="middle" fill="#000" >0</text>
<path d="M299.4,676V679" stroke="#000" stroke-width="1"/>
<text x="299.36" y="692.4" font-size="10.2" font-weight="bold" text-anchor="middle" fill="#000" >20</text>
<path d="M336.4,676V679" stroke="#000" stroke-width="1"/>
<text x="336.42" y="692.4" font-size="10.2" font-weight="bold" text-anchor="middle" fill="#000" >40</text>
<path d="M373.5,676V679" stroke="#000" stroke-width="1"/>
<text x="373.48" y="692.4" font-size="10.2" font-weight="bold" text-anchor="middle" fill="#000" >60</text>
<path d="M410.5,676V679" stroke="#000" stroke-width="1"/>
<text x="410.54" y="692.4" font-size="10.2" font-weight="bold" text-anchor="middle" fill="#000" >80</text>
<path d="M447.6,676V679" stroke="#000" stroke-width="1"/>
<text x="447.6" y="692.4" font-size="10.2" font-weight="bold" text-anchor="middle" fill="#000" >100</text>
<path d="M484.7,676V679" stroke="#000" stroke-width="1"/>
<text x="484.66" y="692.4" font-size="10.2" font-weight="bold" text-anchor="middle" fill="#000" >120</text>
<path d="M521.7,676V679" stroke="#000" stroke-width="1"/>
<text x="521.72" y="692.4" font-size="10.2" font-weight="bold" text-anchor="middle" fill="#000" >140</text>
<path d="M558.8,676V679" stroke="#000" stroke-width="1"/>
<text x="558.78" y="692.4" font-size="10.2" font-weight="bold" text-anchor="middle" fill="#000" >160</text>
<path d="M595.8,676V679" stroke="#000" stroke-width="1"/>
<text x="595.84" y="692.4" font-size="10.2" font-weight="bold" text-anchor="middle" fill="#000" >180</text>
<path d="M627.7,676V679" stroke="#000" stroke-width="1"/>
<text x="626.2" y="690.2" font-size="9" font-weight="bold" text-anchor="middle" fill="#000" >200</text>
<text x="443" y="704.3" font-size="11.5" font-weight="bold" text-anchor="middle" fill="#000" >Days</text>
<text x="0" y="0" font-size="12.4" font-weight="bold" text-anchor="middle" fill="#000" transform="translate(229.5,593) rotate(-90)">Survival probability</text>
<path d="M277.3,557H300.8" stroke="#000" stroke-width="1.3"/>
<circle cx="289.0" cy="557.0" r="2.3" fill="#000"/>
<text x="303.0" y="560.8" font-size="10.8" font-weight="bold" text-anchor="start" fill="#000" >Vehicle</text>
<path d="M277.3,570.3H300.8" stroke="#CC44CC" stroke-width="1.3"/>
<circle cx="289.0" cy="570.3" r="2.3" fill="#CC44CC"/>
<text x="303.0" y="574.0999999999999" font-size="10.8" font-weight="bold" text-anchor="start" fill="#000" >Osim</text>
<path d="M277.3,584.3H300.8" stroke="#00B050" stroke-width="1.3"/>
<circle cx="289.0" cy="584.3" r="2.3" fill="#00B050"/>
<text x="303.0" y="588.0999999999999" font-size="10.8" font-weight="bold" text-anchor="start" fill="#000" >Soraf</text>
<path d="M277.3,599H300.8" stroke="#2F5597" stroke-width="1.3"/>
<circle cx="289.0" cy="599.0" r="2.3" fill="#2F5597"/>
<text x="303.0" y="602.8" font-size="10.8" font-weight="bold" text-anchor="start" fill="#000" >Combo</text>
<text x="463.4" y="571.3" font-size="10.5" font-weight="bold" text-anchor="start" fill="#000" >p&lt;5 x 10</text>
<text x="504" y="567.6" font-size="7.6" font-weight="bold" text-anchor="start" fill="#000" >&#8211;15</text>
<polyline points="262.3,514.0 364.9,514.0 368.0,545.8 371.5,611.3 376.8,643.2 381.3,643.2 385.5,643.2 390.0,676.0" fill="none" stroke="#000" stroke-width="1.2" stroke-linejoin="round"/>
<circle cx="368.0" cy="545.8" r="2.2" fill="#000"/>
<circle cx="371.5" cy="611.3" r="2.2" fill="#000"/>
<circle cx="376.8" cy="643.2" r="2.2" fill="#000"/>
<circle cx="381.3" cy="643.2" r="2.2" fill="#000"/>
<circle cx="385.5" cy="643.2" r="2.2" fill="#000"/>
<circle cx="390.0" cy="676.0" r="2.2" fill="#000"/>
<polyline points="262.3,514.0 341.7,514.0 345.6,536.7 350.9,536.7 355.4,536.7 358.6,560.5 363.8,560.5 369.1,560.5 373.3,560.5 377.1,560.5 381.0,560.5 385.2,560.5 389.4,583.3 393.9,583.3 397.1,606.8 403.0,676.0" fill="none" stroke="#00B050" stroke-width="1.2" stroke-linejoin="round"/>
<circle cx="345.6" cy="536.7" r="2.2" fill="#00B050"/>
<circle cx="350.9" cy="536.7" r="2.2" fill="#00B050"/>
<circle cx="355.4" cy="536.7" r="2.2" fill="#00B050"/>
<circle cx="358.6" cy="560.5" r="2.2" fill="#00B050"/>
<circle cx="363.8" cy="560.5" r="2.2" fill="#00B050"/>
<circle cx="369.1" cy="560.5" r="2.2" fill="#00B050"/>
<circle cx="373.3" cy="560.5" r="2.2" fill="#00B050"/>
<circle cx="377.1" cy="560.5" r="2.2" fill="#00B050"/>
<circle cx="381.0" cy="560.5" r="2.2" fill="#00B050"/>
<circle cx="385.2" cy="560.5" r="2.2" fill="#00B050"/>
<circle cx="389.4" cy="583.3" r="2.2" fill="#00B050"/>
<circle cx="393.9" cy="583.3" r="2.2" fill="#00B050"/>
<circle cx="397.1" cy="606.8" r="2.2" fill="#00B050"/>
<circle cx="403.0" cy="676.0" r="2.2" fill="#00B050"/>
<polyline points="262.3,514.0 406.2,514.0 410.4,560.5 415.6,560.5 419.5,589.2 424.0,589.2 428.9,589.2 432.4,618.0 437.0,618.0 441.5,618.0 446.1,618.0 450.0,618.0 455.0,646.7 458.6,676.0" fill="none" stroke="#CC44DD" stroke-width="1.2" stroke-linejoin="round"/>
<circle cx="410.4" cy="560.5" r="2.2" fill="#CC44DD"/>
<circle cx="415.6" cy="560.5" r="2.2" fill="#CC44DD"/>
<circle cx="419.5" cy="589.2" r="2.2" fill="#CC44DD"/>
<circle cx="424.0" cy="589.2" r="2.2" fill="#CC44DD"/>
<circle cx="428.9" cy="589.2" r="2.2" fill="#CC44DD"/>
<circle cx="432.4" cy="618.0" r="2.2" fill="#CC44DD"/>
<circle cx="437.0" cy="618.0" r="2.2" fill="#CC44DD"/>
<circle cx="441.5" cy="618.0" r="2.2" fill="#CC44DD"/>
<circle cx="446.1" cy="618.0" r="2.2" fill="#CC44DD"/>
<circle cx="450.0" cy="618.0" r="2.2" fill="#CC44DD"/>
<circle cx="455.0" cy="646.7" r="2.2" fill="#CC44DD"/>
<circle cx="458.6" cy="676.0" r="2.2" fill="#CC44DD"/>
<polyline points="262.3,514.0 280.7,514.0 284.4,514.0 288.0,514.0 291.7,514.0 297.2,514.0 300.9,514.0 304.6,514.0 310.1,514.0 313.8,514.0 319.3,514.0 323.0,514.0 328.5,514.0 335.8,514.0 339.5,514.0 343.2,514.0 348.7,514.0 352.4,514.0 356.1,514.0 361.6,514.0 367.1,514.0 370.8,514.0 374.4,514.0 380.0,514.0 383.6,514.0 389.2,514.0 394.7,514.0 398.3,514.0 403.9,514.0 407.5,514.0 411.2,514.0 416.7,514.0 420.4,514.0 425.9,514.0 431.4,514.0 435.1,514.0 440.6,514.0 444.3,514.0 449.8,514.0 453.5,514.0 459.0,514.0 464.5,514.0 468.2,514.0 473.7,514.0 477.4,514.0 482.9,514.0 486.6,514.0 492.1,514.0 497.6,514.0 501.3,514.0 506.8,514.0 510.5,514.0 516.0,514.0 521.5,514.0 525.2,514.0 530.7,514.0 534.4,514.0 540.9,534.4 545.5,534.4 549.8,534.4 554.5,534.4 559.1,534.4 562.3,574.8 566.6,574.8 571.6,595.2 575.9,595.2 580.2,595.2 584.8,595.2 588.4,595.2 593.0,595.2 597.4,615.2 601.0,615.2 605.2,615.2 611.0,635.6 614.2,635.6 618.1,635.6 623.5,656.0 627.8,676.0" fill="none" stroke="#2F5597" stroke-width="1.2" stroke-linejoin="round"/>
<circle cx="262.3" cy="514.0" r="2.2" fill="#2F5597"/>
<circle cx="280.7" cy="514.0" r="2.2" fill="#2F5597"/>
<circle cx="284.4" cy="514.0" r="2.2" fill="#2F5597"/>
<circle cx="288.0" cy="514.0" r="2.2" fill="#2F5597"/>
<circle cx="291.7" cy="514.0" r="2.2" fill="#2F5597"/>
<circle cx="297.2" cy="514.0" r="2.2" fill="#2F5597"/>
<circle cx="300.9" cy="514.0" r="2.2" fill="#2F5597"/>
<circle cx="304.6" cy="514.0" r="2.2" fill="#2F5597"/>
<circle cx="310.1" cy="514.0" r="2.2" fill="#2F5597"/>
<circle cx="313.8" cy="514.0" r="2.2" fill="#2F5597"/>
<circle cx="319.3" cy="514.0" r="2.2" fill="#2F5597"/>
<circle cx="323.0" cy="514.0" r="2.2" fill="#2F5597"/>
<circle cx="328.5" cy="514.0" r="2.2" fill="#2F5597"/>
<circle cx="335.8" cy="514.0" r="2.2" fill="#2F5597"/>
<circle cx="339.5" cy="514.0" r="2.2" fill="#2F5597"/>
<circle cx="343.2" cy="514.0" r="2.2" fill="#2F5597"/>
<circle cx="348.7" cy="514.0" r="2.2" fill="#2F5597"/>
<circle cx="352.4" cy="514.0" r="2.2" fill="#2F5597"/>
<circle cx="356.1" cy="514.0" r="2.2" fill="#2F5597"/>
<circle cx="361.6" cy="514.0" r="2.2" fill="#2F5597"/>
<circle cx="367.1" cy="514.0" r="2.2" fill="#2F5597"/>
<circle cx="370.8" cy="514.0" r="2.2" fill="#2F5597"/>
<circle cx="374.4" cy="514.0" r="2.2" fill="#2F5597"/>
<circle cx="380.0" cy="514.0" r="2.2" fill="#2F5597"/>
<circle cx="383.6" cy="514.0" r="2.2" fill="#2F5597"/>
<circle cx="389.2" cy="514.0" r="2.2" fill="#2F5597"/>
<circle cx="394.7" cy="514.0" r="2.2" fill="#2F5597"/>
<circle cx="398.3" cy="514.0" r="2.2" fill="#2F5597"/>
<circle cx="403.9" cy="514.0" r="2.2" fill="#2F5597"/>
<circle cx="407.5" cy="514.0" r="2.2" fill="#2F5597"/>
<circle cx="411.2" cy="514.0" r="2.2" fill="#2F5597"/>
<circle cx="416.7" cy="514.0" r="2.2" fill="#2F5597"/>
<circle cx="420.4" cy="514.0" r="2.2" fill="#2F5597"/>
<circle cx="425.9" cy="514.0" r="2.2" fill="#2F5597"/>
<circle cx="431.4" cy="514.0" r="2.2" fill="#2F5597"/>
<circle cx="435.1" cy="514.0" r="2.2" fill="#2F5597"/>
<circle cx="440.6" cy="514.0" r="2.2" fill="#2F5597"/>
<circle cx="444.3" cy="514.0" r="2.2" fill="#2F5597"/>
<circle cx="449.8" cy="514.0" r="2.2" fill="#2F5597"/>
<circle cx="453.5" cy="514.0" r="2.2" fill="#2F5597"/>
<circle cx="459.0" cy="514.0" r="2.2" fill="#2F5597"/>
<circle cx="464.5" cy="514.0" r="2.2" fill="#2F5597"/>
<circle cx="468.2" cy="514.0" r="2.2" fill="#2F5597"/>
<circle cx="473.7" cy="514.0" r="2.2" fill="#2F5597"/>
<circle cx="477.4" cy="514.0" r="2.2" fill="#2F5597"/>
<circle cx="482.9" cy="514.0" r="2.2" fill="#2F5597"/>
<circle cx="486.6" cy="514.0" r="2.2" fill="#2F5597"/>
<circle cx="492.1" cy="514.0" r="2.2" fill="#2F5597"/>
<circle cx="497.6" cy="514.0" r="2.2" fill="#2F5597"/>
<circle cx="501.3" cy="514.0" r="2.2" fill="#2F5597"/>
<circle cx="506.8" cy="514.0" r="2.2" fill="#2F5597"/>
<circle cx="510.5" cy="514.0" r="2.2" fill="#2F5597"/>
<circle cx="516.0" cy="514.0" r="2.2" fill="#2F5597"/>
<circle cx="521.5" cy="514.0" r="2.2" fill="#2F5597"/>
<circle cx="525.2" cy="514.0" r="2.2" fill="#2F5597"/>
<circle cx="530.7" cy="514.0" r="2.2" fill="#2F5597"/>
<circle cx="534.4" cy="514.0" r="2.2" fill="#2F5597"/>
<circle cx="540.9" cy="534.4" r="2.2" fill="#2F5597"/>
<circle cx="545.5" cy="534.4" r="2.2" fill="#2F5597"/>
<circle cx="549.8" cy="534.4" r="2.2" fill="#2F5597"/>
<circle cx="554.5" cy="534.4" r="2.2" fill="#2F5597"/>
<circle cx="559.1" cy="534.4" r="2.2" fill="#2F5597"/>
<circle cx="562.3" cy="574.8" r="2.2" fill="#2F5597"/>
<circle cx="566.6" cy="574.8" r="2.2" fill="#2F5597"/>
<circle cx="571.6" cy="595.2" r="2.2" fill="#2F5597"/>
<circle cx="575.9" cy="595.2" r="2.2" fill="#2F5597"/>
<circle cx="580.2" cy="595.2" r="2.2" fill="#2F5597"/>
<circle cx="584.8" cy="595.2" r="2.2" fill="#2F5597"/>
<circle cx="588.4" cy="595.2" r="2.2" fill="#2F5597"/>
<circle cx="593.0" cy="595.2" r="2.2" fill="#2F5597"/>
<circle cx="597.4" cy="615.2" r="2.2" fill="#2F5597"/>
<circle cx="601.0" cy="615.2" r="2.2" fill="#2F5597"/>
<circle cx="605.2" cy="615.2" r="2.2" fill="#2F5597"/>
<circle cx="611.0" cy="635.6" r="2.2" fill="#2F5597"/>
<circle cx="614.2" cy="635.6" r="2.2" fill="#2F5597"/>
<circle cx="618.1" cy="635.6" r="2.2" fill="#2F5597"/>
<circle cx="623.5" cy="656.0" r="2.2" fill="#2F5597"/>
<circle cx="627.8" cy="676.0" r="2.2" fill="#2F5597"/>
</svg></body></html>
